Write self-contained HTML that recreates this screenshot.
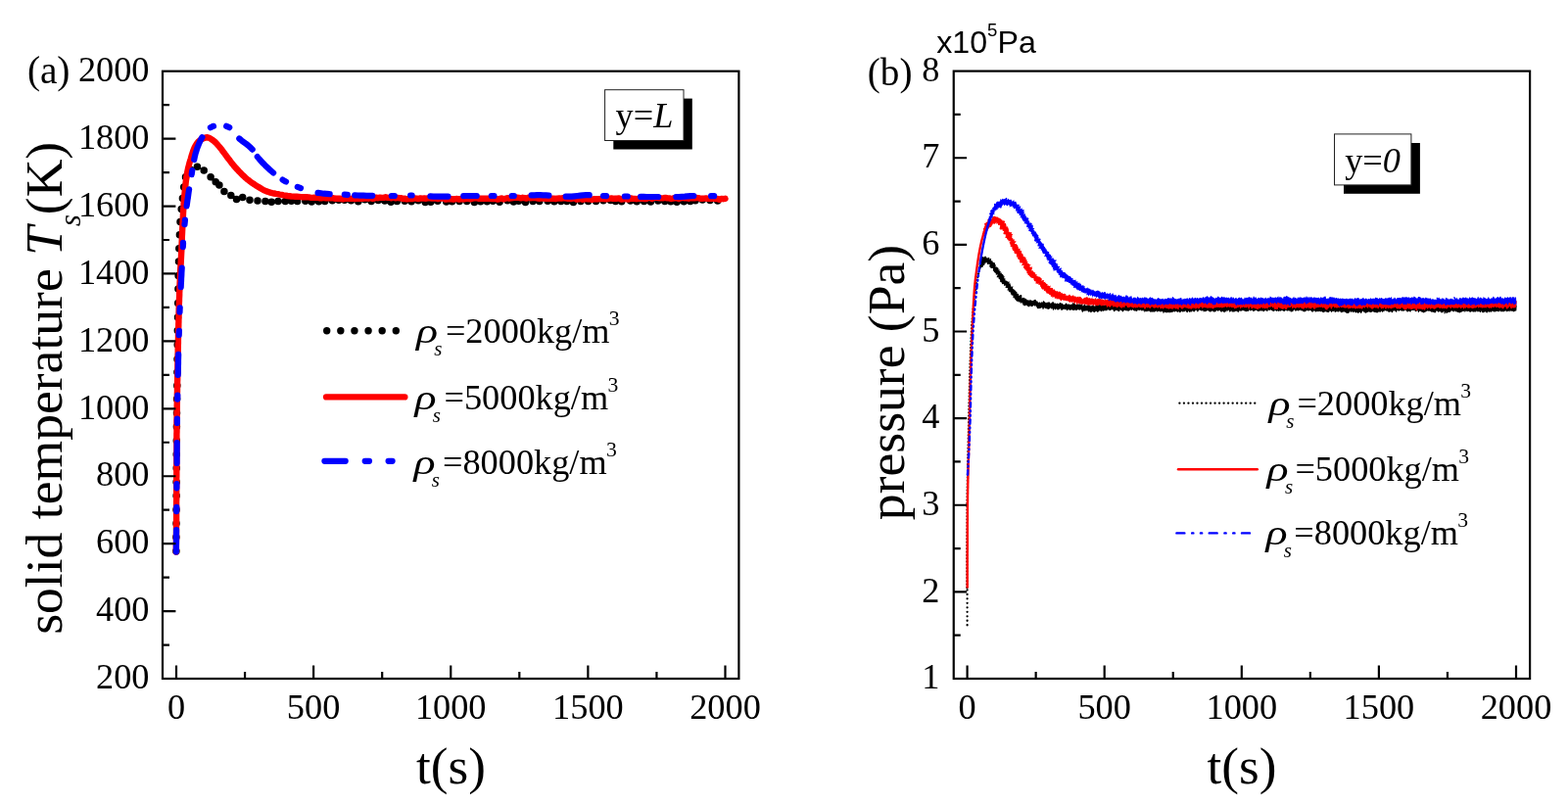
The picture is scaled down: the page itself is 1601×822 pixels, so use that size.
<!DOCTYPE html>
<html lang="en"><head><meta charset="utf-8"><title>Figure</title>
<style>html,body{margin:0;padding:0;background:#fff;overflow:hidden}svg{display:block}text{fill:#000;white-space:pre}</style>
</head><body>
<svg width="1601" height="822" viewBox="0 0 1601 822">
<rect width="1601" height="822" fill="#fff"/>
<path d="M179.9 562.7h.01M179.9 548.6h.01M180.0 534.5h.01M180.0 520.4h.01M180.1 506.3h.01M180.1 492.2h.01M180.2 478.1h.01M180.2 464.0h.01M180.3 449.9h.01M180.4 435.8h.01M180.5 421.7h.01M180.6 407.6h.01M180.8 393.7h.01M180.9 380.0h.01M181.0 366.7h.01M181.2 352.0h.01M181.3 337.5h.01M181.5 324.1h.01M181.7 309.5h.01M181.9 295.0h.01M182.1 281.5h.01M182.5 266.9h.01M182.8 253.7h.01M183.4 239.7h.01M184.0 226.6h.01M185.2 213.5h.01M186.4 202.5h.01M187.7 191.0h.01M189.5 180.7h.01M194.6 173.3h.01M201.4 170.2h.01M208.2 173.9h.01M215.1 180.8h.01M220.2 185.8h.01M223.9 189.0h.01M228.9 195.6h.01M235.8 199.6h.01M241.5 203.4h.01M247.7 201.5h.01M255.0 204.2h.01M263.0 204.9h.01M270.9 205.5h.01M277.2 206.2h.01M284.0 205.6h.01M291.3 205.4h.01M297.5 205.3h.01M303.6 205.6h.01M311.8 205.3h.01M318.2 205.9h.01M325.5 205.7h.01M331.7 205.6h.01M339.3 204.7h.01M345.9 204.3h.01M351.8 204.3h.01M358.5 204.7h.01M365.8 205.7h.01M372.6 203.8h.01M379.1 205.6h.01M386.2 204.5h.01M392.8 204.9h.01M399.1 206.3h.01M405.4 205.6h.01M413.2 205.2h.01M420.1 205.7h.01M427.1 204.7h.01M434.2 206.6h.01M439.8 206.2h.01M446.9 205.2h.01M455.7 206.1h.01M461.6 205.7h.01M469.1 205.5h.01M476.7 205.6h.01M484.3 206.6h.01M490.7 205.7h.01M497.3 205.7h.01M503.3 205.2h.01M510.1 206.2h.01M518.1 204.7h.01M524.4 206.1h.01M529.6 205.3h.01M536.5 206.5h.01M544.1 205.4h.01M550.8 205.4h.01M559.2 205.3h.01M565.9 205.8h.01M572.8 205.5h.01M578.8 205.6h.01M585.4 206.4h.01M593.0 205.6h.01M600.6 205.4h.01M608.5 205.6h.01M616.0 204.7h.01M623.4 204.4h.01M628.5 205.4h.01M634.7 205.7h.01M643.7 205.0h.01M650.2 205.7h.01M657.6 205.5h.01M664.4 206.1h.01M671.9 204.9h.01M678.8 205.6h.01M684.9 205.8h.01M691.1 206.3h.01M698.3 205.7h.01M704.8 205.5h.01M710.0 204.8h.01M717.3 204.1h.01M725.0 204.4h.01M732.7 205.0h.01" fill="none" stroke="#000" stroke-width="7.5" stroke-linecap="round"/>
<path d="M179.9 563.4L179.9 561.4L179.9 559.5L179.9 557.5L179.9 555.5L179.9 553.5L180.0 551.6L180.0 549.6L180.0 547.6L180.0 545.7L180.0 543.7L180.0 541.7L180.0 539.7L180.0 537.8L180.0 535.8L180.0 533.8L180.1 531.9L180.1 529.9L180.1 527.9L180.1 526.0L180.1 524.0L180.1 522.0L180.1 520.0L180.1 518.1L180.1 516.1L180.1 514.1L180.1 512.2L180.2 510.2L180.2 508.2L180.2 506.2L180.2 504.3L180.2 502.3L180.2 500.3L180.2 498.4L180.2 496.4L180.2 494.4L180.2 492.4L180.2 490.5L180.2 488.5L180.3 486.5L180.3 484.6L180.3 482.6L180.3 480.6L180.3 478.6L180.3 476.7L180.3 474.7L180.3 472.7L180.3 470.8L180.3 468.8L180.3 466.8L180.3 464.9L180.3 462.9L180.4 460.9L180.4 458.9L180.4 457.0L180.4 455.0L180.4 453.0L180.4 451.1L180.4 449.1L180.4 447.1L180.4 445.1L180.4 443.2L180.5 441.2L180.5 439.2L180.5 437.3L180.5 435.3L180.5 433.3L180.5 431.3L180.5 429.4L180.6 427.4L180.6 425.4L180.6 423.5L180.6 421.5L180.7 419.5L180.7 417.6L180.7 415.6L180.7 413.6L180.8 411.6L180.8 409.7L180.8 407.7L180.9 405.7L180.9 403.8L180.9 401.8L181.0 399.8L181.0 397.8L181.0 395.9L181.1 393.9L181.1 391.9L181.1 390.0L181.2 388.0L181.2 386.0L181.2 384.1L181.3 382.1L181.3 380.1L181.3 378.1L181.4 376.2L181.4 374.2L181.4 372.2L181.5 370.3L181.5 368.3L181.5 366.3L181.6 364.3L181.6 362.4L181.7 360.4L181.7 358.4L181.7 356.5L181.8 354.5L181.8 352.5L181.9 350.5L181.9 348.6L181.9 346.6L182.0 344.6L182.0 342.7L182.1 340.7L182.1 338.7L182.2 336.8L182.2 334.8L182.3 332.8L182.3 330.8L182.4 328.9L182.4 326.9L182.5 324.9L182.5 323.0L182.6 321.0L182.6 319.0L182.7 317.1L182.7 315.1L182.8 313.1L182.8 311.1L182.9 309.2L183.0 307.2L183.0 305.2L183.1 303.3L183.2 301.3L183.2 299.3L183.3 297.4L183.4 295.4L183.4 293.4L183.5 291.4L183.6 289.5L183.7 287.5L183.8 285.5L183.8 283.6L183.9 281.6L184.0 279.6L184.1 277.7L184.2 275.7L184.3 273.7L184.4 271.8L184.6 269.8L184.7 267.8L184.8 265.9L184.9 263.9L185.0 261.9L185.1 259.9L185.2 258.0L185.3 256.0L185.4 254.0L185.4 252.1L185.5 250.1L185.6 248.1L185.7 246.2L185.8 244.2L185.8 242.2L185.9 240.3L186.0 238.3L186.1 236.3L186.2 234.4L186.3 232.4L186.4 230.4L186.5 228.4L186.6 226.5L186.7 224.5L186.8 222.5L186.9 220.6L187.0 218.6L187.1 216.6L187.2 214.7L187.3 212.7L187.5 210.7L187.6 208.8L187.7 206.8L187.9 204.8L188.0 202.9L188.2 200.9L188.4 198.9L188.6 197.0L188.8 195.0L189.0 193.1L189.2 191.1L189.4 189.1L189.6 187.2L189.8 185.2L190.1 183.3L190.4 181.3L190.6 179.4L191.0 177.4L191.3 175.5L191.7 173.6L192.1 171.6L192.6 169.7L193.1 167.8L193.6 165.9L194.2 164.0L194.8 162.1L195.3 160.2L195.9 158.3L196.5 156.4L197.1 154.5L197.8 152.7L198.5 150.9L199.4 149.1L200.5 147.3L201.7 145.6L203.0 144.2L204.4 143.1L206.1 142.0L208.0 141.1L209.9 140.5L211.8 140.3L213.5 140.8L215.3 141.8L217.1 143.0L218.7 144.3L220.1 145.5L221.5 146.9L222.8 148.5L224.1 150.0L225.3 151.5L226.6 153.1L227.7 154.7L228.9 156.2L230.1 157.8L231.2 159.4L232.4 161.0L233.6 162.6L234.8 164.1L236.0 165.7L237.2 167.2L238.5 168.8L239.8 170.3L241.1 171.8L242.4 173.2L243.7 174.7L245.1 176.1L246.5 177.5L247.9 178.9L249.3 180.2L250.8 181.6L252.3 182.9L253.8 184.1L255.3 185.3L256.9 186.5L258.6 187.5L260.2 188.6L261.9 189.7L263.6 190.7L265.3 191.8L266.9 192.8L268.7 193.8L270.4 194.6L272.2 195.4L274.1 196.0L276.0 196.6L277.9 197.1L279.8 197.5L281.8 197.9L283.7 198.2L285.7 198.6L287.6 198.9L289.5 199.3L291.5 199.6L293.4 200.0L295.4 200.2L297.3 200.5L299.3 200.6L301.3 200.7L303.2 200.8L305.2 200.9L307.2 201.1L309.1 201.2L311.1 201.2L313.1 201.3L315.0 201.4L317.0 201.7L319.0 201.9L320.9 201.8L322.9 201.7L324.9 201.8L326.8 202.4L328.8 202.2L330.8 201.8L332.8 202.3L334.7 202.1L336.7 202.3L338.7 202.4L340.6 202.3L342.6 202.8L344.6 202.7L346.5 202.6L348.5 203.0L350.5 203.2L352.5 202.4L354.4 202.9L356.4 202.7L358.4 202.9L360.3 202.6L362.3 203.0L364.3 202.9L366.3 202.8L368.2 202.6L370.2 202.7L372.2 202.5L374.1 202.3L376.1 202.7L378.1 202.2L380.0 202.8L382.0 202.6L384.0 201.6L385.9 202.2L387.9 201.6L389.9 201.9L391.9 201.9L393.8 201.3L395.8 201.9L397.8 201.9L399.7 202.3L401.7 201.6L403.7 202.3L405.6 201.9L407.6 202.2L409.6 202.2L411.5 203.0L413.5 202.8L415.5 203.4L417.5 202.9L419.4 203.0L421.4 203.0L423.4 202.5L425.3 202.6L427.3 203.0L429.3 202.4L431.3 202.6L433.2 202.5L435.2 202.7L437.2 202.4L439.1 202.4L441.1 202.6L443.1 202.6L445.0 202.4L447.0 203.1L449.0 202.5L451.0 202.6L452.9 202.7L454.9 203.6L456.9 203.3L458.8 203.2L460.8 203.1L462.8 203.6L464.7 203.1L466.7 203.0L468.7 203.6L470.6 203.0L472.6 203.2L474.6 203.2L476.6 202.9L478.5 202.9L480.5 203.3L482.5 202.7L484.4 202.4L486.4 202.2L488.4 202.7L490.3 202.6L492.3 202.8L494.3 202.7L496.3 202.7L498.2 202.7L500.2 202.8L502.2 203.0L504.1 202.8L506.1 203.0L508.1 203.6L510.1 203.1L512.0 202.4L514.0 203.4L516.0 202.8L517.9 202.2L519.9 202.7L521.9 202.3L523.8 202.0L525.8 201.9L527.8 201.6L529.7 201.9L531.7 202.3L533.7 201.8L535.6 202.1L537.6 202.6L539.6 201.7L541.6 202.2L543.5 202.1L545.5 202.0L547.5 202.1L549.4 202.5L551.4 202.7L553.4 202.4L555.3 202.6L557.3 202.8L559.3 202.7L561.3 202.9L563.2 202.7L565.2 202.6L567.2 203.0L569.1 202.6L571.1 202.4L573.1 202.6L575.1 202.1L577.0 202.3L579.0 202.7L581.0 202.6L582.9 203.0L584.9 202.7L586.9 202.3L588.8 203.6L590.8 203.4L592.8 202.8L594.7 203.7L596.7 203.4L598.7 202.9L600.6 203.3L602.6 203.3L604.6 203.9L606.6 203.1L608.5 203.2L610.5 203.2L612.5 203.1L614.4 202.8L616.4 203.0L618.4 203.2L620.3 203.1L622.3 202.6L624.3 202.5L626.3 202.9L628.2 202.6L630.2 202.7L632.2 202.4L634.1 203.6L636.1 203.3L638.1 202.8L640.1 203.4L642.0 203.6L644.0 202.4L646.0 202.9L647.9 202.9L649.9 203.2L651.9 202.9L653.8 202.7L655.8 202.7L657.8 203.1L659.7 203.1L661.7 202.1L663.7 201.9L665.6 203.0L667.6 201.7L669.6 201.8L671.6 202.0L673.5 202.2L675.5 202.4L677.5 202.2L679.4 201.9L681.4 202.4L683.4 202.4L685.3 203.0L687.3 202.5L689.3 202.1L691.3 202.2L693.2 203.0L695.2 202.3L697.2 201.8L699.1 202.3L701.1 202.4L703.1 202.7L705.1 202.0L707.0 202.4L709.0 202.4L711.0 202.0L712.9 202.1L714.9 202.8L716.9 202.8L718.8 202.6L720.8 202.5L722.8 202.9L724.7 202.7L726.7 202.8L728.7 202.7L730.6 203.0L732.6 203.0L734.6 203.9L736.6 202.9L738.5 203.2L740.5 202.8" fill="none" stroke="#f00" stroke-width="6.4" stroke-linecap="round" stroke-linejoin="round"/>
<path d="M179.9 563.4L179.9 560.4L179.9 557.5L180.0 554.5L180.0 551.5L180.0 548.5L180.0 545.6L180.1 542.6L180.1 541.1M180.2 522.1L180.3 519.1L180.3 517.8M180.4 498.3L180.4 495.3L180.4 494.1M180.6 473.0L180.6 470.1L180.6 467.1L180.6 464.1L180.6 461.2L180.7 458.2L180.7 455.2L180.7 452.2M180.9 431.9L180.9 429.0L180.9 427.7M181.2 407.7L181.3 404.7L181.3 403.5M181.7 382.9L181.8 380.0L181.8 377.0L181.9 374.0L182.0 371.1L182.0 368.1L182.1 365.1L182.2 362.1L182.2 361.9M182.7 342.1L182.8 339.1L182.9 337.9M183.5 318.6L183.6 315.6L183.7 314.4M184.7 293.1L184.8 290.2L185.0 287.2L185.1 284.2L185.3 281.3L185.4 278.3L185.6 275.3L185.7 273.6M186.8 252.1L187.0 249.1L187.0 247.9M188.5 229.1L188.8 226.2L188.9 224.7M190.6 210.4L191.0 207.5L191.4 204.5L191.9 201.6L192.3 198.7L192.7 195.7L193.1 193.3M195.7 178.1L196.1 175.2L196.3 174.0M198.2 163.0L198.8 160.1L199.5 157.2L200.4 154.3L201.3 151.4L202.4 148.6L203.5 145.8L204.8 143.1L206.1 140.6L206.4 140.2M214.9 130.2L217.3 129.0L218.0 128.8M231.2 128.8L233.7 129.9L234.2 130.2M244.3 141.5L246.6 143.4L249.0 145.2L251.5 147.0L253.8 148.9L256.0 150.8L257.7 152.6M262.8 160.1L264.7 162.4L266.7 164.6L268.7 166.8L270.8 168.9L273.0 171.0L275.2 173.1L277.4 175.0L279.1 176.5M288.6 183.6L291.1 185.1L292.0 185.5M303.8 190.9L306.5 191.9L307.0 192.1M324.6 196.9L327.6 197.3L330.5 197.7L333.5 197.9L336.5 198.2L336.7 198.2M351.8 198.7L354.8 198.8M362.2 199.3L365.2 199.5L368.1 199.6L371.1 199.7L374.1 199.8L377.0 199.8L380.0 199.8L380.3 199.8M399.8 200.0L402.8 200.0M419.1 199.5L420.6 199.5M439.4 200.4L442.4 200.6L445.3 200.7L448.3 200.7L451.3 200.7L454.2 200.6L457.2 200.6L457.5 200.6M473.3 200.1L476.3 200.0L479.2 200.0L482.2 200.0L485.2 200.0L486.7 200.0M501.8 200.0L504.5 200.0M522.6 200.0L524.8 200.0M542.6 199.4L545.6 199.3L548.5 199.2L551.5 199.2L554.5 199.3L557.5 199.4L560.4 199.6M577.7 200.7L580.7 200.7L583.7 200.6L586.6 200.3L589.6 200.0L592.5 199.7L595.5 199.4L598.5 199.2L601.4 199.2L601.7 199.2M616.0 200.0L619.0 200.1M637.8 200.5L640.8 200.5M654.1 200.9L657.1 200.9L660.1 201.0L663.0 201.0L666.0 201.0L669.0 201.0L672.0 201.0L672.2 201.0M690.3 201.0L693.2 201.0L696.2 200.8L699.2 200.6L702.1 200.3L705.1 200.1L708.1 200.0L708.3 200.0M726.1 200.2L729.1 200.2" fill="none" stroke="#00f" stroke-width="6.2" stroke-linecap="round" stroke-linejoin="round"/>
<path d="M987.6 602.4V638.9" fill="none" stroke="#000" stroke-width="2.3" stroke-linecap="round" stroke-dasharray="0.01 4.47"/>
<path d="M987.4 600.0L987.4 598.0L987.4 596.0L987.4 594.0L987.4 592.0L987.4 590.0L987.4 588.0L987.4 586.0L987.4 584.0L987.4 582.0L987.4 580.0L987.4 578.0L987.4 576.0L987.4 574.0L987.4 572.0L987.4 570.0L987.4 568.0L987.4 566.0L987.4 564.0L987.4 562.0L987.4 560.0L987.4 558.0L987.4 556.0L987.4 554.0L987.4 552.0L987.4 550.0L987.4 548.0L987.4 546.0L987.5 544.0L987.5 542.0L987.5 540.0L987.5 538.0L987.5 536.0L987.5 534.0L987.5 532.0L987.5 530.0L987.5 528.0L987.5 526.0L987.5 524.0L987.5 522.0L987.5 520.0L987.5 518.0L987.5 516.0L987.5 514.0L987.5 512.0L987.6 510.0L987.6 508.0L987.6 506.0L987.6 504.0L987.6 502.0L987.7 500.0L987.7 498.0L987.7 496.0L987.8 494.0L987.8 492.0L987.8 490.0L987.9 488.0L987.9 486.0L987.9 484.0L988.0 482.0L988.0 480.0L988.1 478.0L988.1 476.0L988.1 474.0L988.2 472.0L988.2 470.0L988.3 468.0L988.3 466.0L988.4 464.0L988.4 462.0L988.5 460.0L988.5 458.0L988.6 456.0L988.6 454.0L988.6 452.0L988.7 450.0L988.7 448.0L988.8 446.0L988.8 444.0L988.9 442.0L988.9 440.0L988.9 438.0L989.0 436.0L989.0 434.0L989.1 432.0L989.1 430.0L989.1 428.0L989.2 426.0L989.2 424.0L989.3 422.0L989.3 420.0L989.4 418.0L989.4 416.0L989.4 414.0L989.5 412.0L989.5 410.0L989.6 408.0L989.6 406.0L989.7 404.0L989.7 402.0L989.8 400.0L989.8 398.0L989.9 396.0L989.9 394.0L990.0 392.0L990.0 390.0L990.1 388.0L990.1 386.0L990.2 384.0L990.2 382.0L990.3 380.0L990.3 378.0L990.4 376.0L990.5 374.0L990.5 372.0L990.6 370.0L990.7 368.0L990.7 366.0L990.8 364.0L990.9 362.0L990.9 360.0L991.0 358.0L991.1 356.0L991.1 354.0L991.2 352.0L991.3 350.0L991.4 348.0L991.5 346.1L991.6 344.1L991.7 342.1L991.8 340.1L991.9 338.1L992.0 336.1L992.1 334.1L992.2 332.1L992.4 330.1L992.5 328.1L992.7 326.1L992.9 324.1L993.0 322.1L993.2 320.1L993.4 318.1L993.6 316.1L993.8 314.1L994.0 312.1L994.2 310.2L994.4 308.2L994.6 306.2L994.8 304.2L995.1 302.2L995.3 300.2L995.6 298.2L995.9 296.3L996.2 294.3L996.5 292.3L996.8 290.3L997.2 288.4L997.6 286.4L998.0 284.5L998.4 282.5L998.9 280.5L999.3 278.6L999.8 276.7" fill="none" stroke="#000" stroke-width="2.3" stroke-linecap="round" stroke-dasharray="0.01 3.3"/>
<path d="M1000 278.4l0.1 -0.3 0.1 -0.4 0.1 -0.3 0.1 -0.4 0.1 -0.3 0.1 -0.4 0.1 -0.3 0.1 -0.3 0.3 -0.3 0.3 -0.3 -0.2 -0.4 0 -0.3 0.4 -0.3 0.2 -0.3 0 -0.3 0.2 -0.3 0.3 -0.2 0.5 -0.2 0.6 -0.1 0.4 -0.1 0.1 -0.3 -0.1 -0.4 0.1 -0.3 0.1 -0.3 0.3 -0.2 0.7 0 0.3 -0.1 -0.1 -0.5 -0.1 -0.4 0.4 -0.1 0.2 -0.2 -0.2 -0.6 0 -0.5 0.5 0.1 0.7 0.9 0 0.1 -0.3 -0.6 0 -0.5 0.3 -0.6 0.4 -0.4 0.3 0.2 0.2 0.5 0.2 0.4 0.3 0.2 -0.1 0.8 0.2 0.4 0.7 -0.4 0.7 -0.4 0.1 0.5 0.2 0.4 0.8 -0.4 0.1 0.4 -0.7 1.4 0.1 0.3 0.5 0 -0.3 0.6 0.2 0.3 0.6 -0.1 0.3 0.2 -0.1 0.6 0.1 0.3 0.7 0 0.4 0.1 0.7 0.1 0.8 -0.1 -0.1 0.6 -0.3 0.6 0.2 0.4 0.1 0.4 0.1 0.5 0.2 0.3 0.3 0.3 0.3 0.4 0.2 0.3 0.2 0.3 0.4 0.3 0.6 0 -0.1 0.5 0.1 0.4 0.7 0 -0.1 0.6 -0.3 0.7 0.6 0.1 1.2 -0.4 0.3 0.3 -0.3 0.7 -0.5 0.8 -0.2 0.7 0 0.5 0.7 0 0.8 -0.1 0.4 0.2 0.1 0.4 0 0.6 -0.1 0.5 0.5 0.2 0.7 -0.1 0 0.5 0 0.6 0.4 0.1 -0.1 0.7 -0.3 0.7 0.6 0.1 0.4 0.2 0 0.4 0.5 0.1 0.7 0.1 0.1 0.4 -0.2 0.6 0 0.5 0.4 0.2 0.8 -0.1 0.6 0 0.2 0.4 0.2 0.4 0.1 0.3 -0.1 0.6 0.4 0.2 1.3 -0.5 0.3 0.3 0.2 0.3 -0.9 1.2 0.2 0.4 0.5 0.1 0.3 0.3 0.5 0.1 0.9 -0.1 0.2 0.3 0.3 0.3 -0.6 0.9 -0.3 0.8 0.3 0.2 0.8 -0.1 0.4 0.2 -0.1 0.6 0.2 0.4 0.3 0.2 0.3 0.3 0.5 0.1 0.4 0.2 0.4 0.2 0.1 0.4 -0.1 0.6 -0.1 0.6 0.4 0.2 0.5 0.1 -0.1 0.6 0.2 0.4 0.6 0 0.6 0.1 0.5 0.1 0.1 0.5 -0.3 0.8 0.1 0.5 0.1 0.5 0.4 0.3 0.7 -0.1 0.4 0.1 0.1 0.5 0 0.6 0.4 0.3 0.4 0.2 0.2 0.3 0.2 0.5 0.3 0.4 0.5 -0.1 0.1 0.6 0.4 0.2 0.8 -0.3 0.2 0.4 0.1 0.5 0.6 0 0.6 -0.2 0.4 0.1 0.4 0.2 0.1 0.6 -0.1 0.7 0.8 -0.5 0.9 -0.5 0.3 0.2 0 0.7 -0.1 0.8 0.7 -0.2 0.4 0.1 -0.1 1 0.2 0.5 0.7 -0.2 0.4 0.2 0.3 0.6 0.7 -0.4 0.8 -0.8 0.4 0.1 0.4 0.5 0.5 0.7 0.4 0.3 0.4 -0.5 0.5 0.4 0.4 0.9 0.4 -0.6 0.4 -0.7 0.4 -0.2 0.4 0 0.4 0.6 0.4 0.3 0.4 -0.3 0.4 0.1 0.3 -0.1 0.4 -0.3 0.4 -0.4 0.4 -0.5 0.3 0.1 0.3 0.6 0.3 0.3 0.4 -0.3 0.4 -0.3 0.4 0 0.2 0.6 0.1 0.8 0.4 0 0.5 -0.1 0.1 0.7 0.2 0.7 0.3 0.2 0.4 0.3 0.4 0 0.6 -0.2 0.5 -0.1 0.5 -0.1 0.6 -0.2 0.4 0.1 0.5 -0.3 0.6 -0.5 0.4 0.3 0.3 1.3 0.4 0.5 0.4 0 0.4 -1.1 0.5 -0.9 0.4 0.5 0.4 0.4 0.4 -0.1 0.4 0 0.4 -0.2 0.4 0.4 0.3 0.8 0.4 -0.1 0.5 -0.6 0.4 0.2 0.3 0.6 0.4 0 0.5 -0.6 0.4 -0.5 0.4 -0.2 0.4 -0.3 0.4 0.1 0.4 1 0.4 0 0.4 -0.4 0.4 0.1 0.3 1.1 0.4 0.7 0.4 -0.3 0.4 -0.7 0.4 -0.7 0.4 0.2 0.4 0.8 0.4 0.3 0.4 -0.7 0.4 -0.6 0.4 0.1 0.4 0.6 0.4 0.6 0.4 0.1 0.4 -0.4 0.4 0 0.4 0 0.4 -0.6 0.5 -0.8 0.3 0.2 0.4 1.2 0.4 0.5 0.4 -0.3 0.4 0.2 0.4 0 0.4 -0.3 0.4 -0.1 0.4 -0.3 0.4 -0.5 0.4 0 0.4 0.4 0.4 0.4 0.4 0 0.4 -0.5 0.4 -0.1 0.4 0.9 0.3 0.8 0.5 -0.3 0.4 -0.4 0.4 -0.5 0.5 -0.6 0.3 0.6 0.4 0.9 0.4 -0.3 0.4 -0.4 0.4 0.3 0.4 0.2 0.4 -0.4 0.4 -0.6 0.4 0.2 0.4 0.6 0.4 0.3 0.4 0 0.4 -0.2 0.4 -0.1 0.3 0.4 0.5 -0.2 0.4 -0.7 0.4 0 0.3 0.5 0.4 0.5 0.5 -0.1 0.4 -0.4 0.4 -0.2 0.4 -0.4 0.4 0 0.4 0.4 0.4 0.1 0.4 -0.1 0.4 0.1 0.3 0.1 0.5 -0.2 0.4 -0.5 0.3 0.1 0.2 0.8 0.3 0.9 0.4 1 0.4 0.4 0.5 -1 0.6 -0.9 0.3 0.4 0.3 0.5 0.4 -0.4 0.5 -0.5 0.4 0.3 0.5 0 0.4 -0.6 0.4 0.4 0.5 0.4 0.4 -0.5 0.4 0.2 0.4 0.8 0.3 0.6 0.6 -0.4 0.5 -0.4 0.1 0.2 0.4 0.3 0.5 0.7 0.3 0.1 0.6 -0.8 0.6 -0.2 0 -0.4 0.5 -0.1 0.6 0.5 0.3 0.3 0.4 0 0.4 0.3 0.3 0.2 0.4 -0.4 0.5 -0.7 0.5 -0.1 0.3 0 0.4 -0.2 0.3 0.3 0.1 0.7 0.7 0.2 0.5 -0.3 0.3 -0.8 0.5 -0.4 0.4 0 0.4 -0.1 0.2 0.1 0.5 0 0.6 0.4 0.6 0.7 0.2 -0.4 0.3 -0.9 0.4 0 0.3 0.6 0.4 -0.1 0.4 -0.2 0.4 -0.1 0.5 -0.6 0.3 0.4 0.5 0.3 0.3 -1.1 0.5 0.5 0.5 0.8 0.4 -0.5 0.3 -0.6 0.3 -0.5 0.4 -0.1 0.3 0.1 0.5 0.7 0.5 0.1 0.4 0.1 0.6 0.1 0.4 -0.4 0.2 -0.6 0.3 0.2 0.4 0.4 0.4 -0.2 0.4 -0.6 0.4 -0.1 0.6 1.1 0.4 1.1 0 0.4 0 -0.2 0.4 -0.1 0.7 -0.4 0.9 -0.6 0.1 -0.3 0.4 -0.1 0.6 0.1 0.2 0 0.4 0 0.6 0.9 0.3 0.3 0.1 -0.2 0.5 0.2 0.7 0.1 0.4 -1 0.3 -0.9 0.5 0.2 0.2 0.8 0.2 -0.2 0.6 -0.2 0.3 0.7 0 0.5 0.9 0.5 0.4 -0.4 0.3 -0.7 0.7 -0.3 0.4 -0.4 0.4 -0.1 0.7 0.3 0.4 0.6 0.1 0.2 0.4 -0.6 0 0 0.3 0.1 0.9 0.2 0.5 0.1 -0.3 0 0.5 0.3 0.8 -0.6 0.6 -0.3 0.5 0 0.1 -0.6 0.4 -0.2 0.3 0.6 0.6 0.4 0.5 -0.7 0.3 -0.6 0.4 0.1 0.2 1.1 0.5 0.1 0.4 -0.5 0 0.3 0.5 0.6 0.7 0 0.6 -0.2 0.2 0.2 0.3 0.1 0.8 0.3 0.6 -0.4 -0.1 -1 0.5 0.1 0.7 0.5 0 -0.1 0.2 -0.8 0.4 0.3 0.4 0.7 0.2 -0.1 0.5 -0.7 0.8 0.2 0.3 0.2 0.1 0 0.2 0.4 0.3 0.6 0.7 -0.9 0.5 -0.4 0.8 1.3 0.7 0.8 0.3 0 -0.2 -0.9 0 -0.6 0.9 1 1 0.1 0.1 -0.2 0.2 -0.5 0.2 -0.2 0.5 0.5 -0.1 0.5 0.3 -0.2 0.9 -0.7 0.5 -0.2 0.2 0.5 0.6 0.4 0.4 0.1 -0.1 0.4 0.6 0 0.5 -0.3 0.4 0 0.7 0.1 0.5 0.3 0.2 0 0.5 -0.5 0.3 -0.2 -0.1 0.5 0.3 0.1 0.9 -0.4 0.7 0 0.2 -0.5 0.4 -0.5 0.6 0.9 0.8 0.5 0.1 -0.7 0.4 0 0.1 0.3 0.5 -0.5 0.5 -0.4 0.3 0.6 0.1 0.6 -0.1 -0.1 0.6 -0.3 0.8 0.1 0.7 0.1 0.2 -0.2 0.4 -0.4 0.4 0.2 0.4 0.6 0.3 0.8 0.6 0.8 0.3 -0.7 0.2 -1.1 0.4 0.2 0.5 0.5 0.9 0.1 0.6 -0.1 0.1 -0.2 0.2 -0.1 0.3 0.6 0 0.3 0.9 -0.8 0.7 -0.4 0.2 0.6 0.2 0.5 0.6 0 0.3 -0.3 0.3 -0.5 0.1 -0.2 0.5 0.5 0.8 0.5 0.1 0.4 -0.3 -0.7 0.9 -0.8 0.5 0.2 0.5 -0.3 0.6 -0.4 0.7 0.6 0.3 0.2 0.3 -0.5 0.4 -0.5 0.4 0 0.1 0.2 0.4 0 0.6 0.4 0.6 0.4 0.5 -0.1 0.3 0.1 0.5 -0.5 -0.1 -0.6 0.3 0.2 0.4 0.9 0.7 0.6 0.5 -0.5 0 -0.3 0.7 -0.2 0.4 -0.8 0.3 0.2 0.5 0.6 0.4 0.2 0.5 0 0.4 -0.4 0.3 -0.3 0.6 0.3 0.5 -0.2 0.2 -0.6 0.4 -0.1 0.5 0.9 0.7 0.9 0.4 0.1 0 0.2 0.5 -0.4 0.2 -0.8 0.3 -0.6 0.4 0.2 0.4 0.8 0.8 0.3 0.4 -0.3 -0.1 0 0.4 -0.1 0.5 -0.2 0.6 0.3 0.5 -0.1 0 -0.9 0.6 -0.2 0.6 0.6 0.2 0.6 0.1 -0.3 0.5 0 0.6 0.1 0.4 -0.5 0.5 -1.1 0.4 -0.1 0.3 -0.1 0.4 0.5 0.3 0.6 0.8 0.7 0.2 0.4 0.3 -0.8 0.5 -0.5 0.3 -0.7 0.4 -0.3 0.5 -0.1 0.5 0.6 0.1 0.2 0.2 -0.4 0.4 0.1 0.5 0.8 0.4 -0.1 0.6 -0.4 0.5 -0.1 0.4 0.5 0 0.8 0.5 0 0.6 -0.7 0 0.4 0.9 0.2 0.7 -0.2 -0.1 0 0.3 -0.4 0.7 0 0.5 -0.6 0.4 -0.2 0.6 0.4 0.5 1.1 -0.2 0.4 0 -0.5 0.8 -0.5 0.4 0 0.3 0.8 0.2 0.3 0.6 -0.5 0.6 -0.7 0.5 -0.3 0.6 0.3 0.3 0.2 0.1 -0.5 0.3 0.3 0.5 0.9 0.7 0.2 0.5 -0.2 0.1 -0.4 0.2 -0.1 0.5 0.3 0.3 -0.2 0.1 -0.5 0.8 -0.6 0.4 0 0.6 0.8 0.6 -0.4 0 -0.2 0.2 0.3 0.6 -0.5 0.3 -0.5 0.3 0.5 0.4 0.6 0.3 0.4 0.4 0.4 0.5 0.1 0.6 -0.2 0.3 -0.2 0.5 -0.2 0.5 -0.2 0.1 0.4 0.7 0.7 1.1 0.3 -0.2 -0.6 0.2 -0.6 0.6 0.1 0.3 0.3 0.8 -0.1 -0.1 -1.1 0.3 -0.1 0.8 0.4 0.4 0.3 0.2 -0.4 0.3 -0.8 0.4 0.1 0.4 1.2 0.5 1.2 0.1 -0.2 0.3 -0.7 0.8 -0.2 0.3 -0.7 0.3 0.2 0.3 1 0.2 0.2 0.9 -0.5 0.4 0 0.4 0.5 0.7 -0.2 0.2 -0.4 0.1 0.1 0.4 -0.1 0.7 -0.3 0.8 0 0.5 0.2 -0.3 -0.4 0.3 0.1 0.7 1.1 0.5 0.4 0.4 -0.8 0.4 -0.4 0.3 -0.5 0.3 -0.3 0.7 0.3 0.1 0.3 0.2 0 0.7 -0.1 0.5 -0.2 0 -0.4 0.3 0 0.5 0.2 0.4 0 0.4 -0.3 0.7 0.5 0.8 0.1 0.2 0.1 0 0.2 0.6 0 0.5 0.3 -0.1 0 1 -0.2 0.4 -0.2 -0.3 -0.4 0.7 0.3 1.1 0.3 0 -0.5 0 -0.8 0.5 -0.2 0.6 0.4 0.5 0.5 0.4 0.1 0.1 -0.1 0.2 -0.2 0.6 -0.4 0.4 -0.2 0.5 0.6 0.3 0.7 0.1 0.2 1.1 -0.2 0.4 -0.3 0.1 -0.3 0.3 0 0.6 -0.1 0.4 -0.2 0.3 -0.2 0.4 -0.2 0.4 0.6 0.2 0.6 0.1 -0.2 0.6 0.2 0.6 0.1 0.5 0 0.4 0.1 0.1 -0.3 0.6 -0.4 0.6 0.1 0.1 0.2 0.7 0 0.4 -0.3 0.4 0.1 0.6 0 0 -0.1 0.1 0.1 0.5 0.8 0.7 0 0.6 -0.7 0.3 -0.2 0.2 -0.1 0.6 -0.5 0.7 0.9 -0.1 0.5 0.3 -0.6 0.7 0.4 0.6 0 0.2 -0.8 0.2 -0.9 0.5 0.3 0.3 0.5 0.3 0.1 0.7 -0.1 0.3 -0.6 0.4 -0.2 0.4 0.2 0.4 0.5 0.4 0.1 0.4 0.1 0.3 0.2 0.4 0.7 0.1 0.1 0.4 -0.2 0.9 0.1 0.4 -0.5 0.2 -0.9 0.2 0.1 0.4 0.6 0.7 0 0.2 0.5 0.2 0.1 1 -0.5 0.6 -0.3 -0.1 0.5 0.5 0.3 0.6 0 0.1 -0.4 0.1 -0.1 0.5 0.1 0.6 -0.1 0.4 0.4 0.5 -0.1 0.4 -0.8 0.3 -0.1 0.5 0.1 0.5 0.1 0 1.1 0 0.1 1 -0.6 0.8 0.3 0.3 0.7 -0.1 -0.5 0.7 -1.2 0.4 -0.3 0.4 0.1 0.8 1.2 0.4 -0.3 0.1 -0.5 0.2 0.3 0.5 0 0.5 -0.5 0.3 0 0.4 0.6 0.2 0.4 0.5 -0.5 0.4 0 0.1 1.1 0.9 -0.1 0.7 -0.5 0.7 0.5 0.3 -0.5 0.4 -0.9 0 0.1 -0.1 -0.2 0.5 -0.1 0.6 -0.5 0.3 -0.1 0.1 1.1 0.6 0.4 0.8 -0.3 0.3 -0.1 0.1 -0.1 0.5 -0.3 0.2 -0.1 0.3 0.6 0.6 0.1 0.3 -0.3 0.7 0 0.4 -0.4 0.4 -0.2 0.5 0.1 0.3 0.5 0.3 0.4 0.4 -0.4 0.4 -0.1 0.6 0.5 0.3 0.4 0 -0.1 1 0.3 0.8 0.2 -0.1 -0.4 0.4 0.2 0.4 0.4 0.4 -0.8 0.5 -0.1 0.3 -0.3 0 -0.8 0.4 0.4 0.8 0.4 0.3 -0.6 0.2 0.4 0.5 0.6 0.3 -0.2 0.3 -0.2 0.4 -0.3 0.5 0 0.9 0 0.2 0.2 0 0.5 0.6 0.5 1 0.4 -0.2 -0.4 -0.3 0 1 0.5 0.2 -0.9 0.4 -0.5 0.7 0.1 0.5 0 0.3 0.7 0.3 0.6 0.4 -0.3 0.6 -0.6 0.5 -0.1 0.2 0.6 0.1 0.1 0.7 -0.5 0.9 -0.1 0.5 0.3 -0.1 0 0.1 -0.1 0.7 -0.1 0.3 -0.5 0 0.3 0.6 0.6 0.6 -0.3 0.2 -0.2 0.3 0.4 1 0.8 0.8 0 -0.2 -0.8 -0.2 0 0.5 0.9 0.8 -0.4 0.4 -0.7 0.4 -0.3 0.5 0.8 0.6 0.5 -0.2 -0.3 0.1 -0.4 0.4 0.1 0.5 0.3 0.8 0.3 0.7 0 0.6 -0.4 0.2 -0.7 0.2 -0.6 0.5 0.1 0.8 0.4 0.2 0.8 -0.2 0.4 0 0.2 0.8 -0.6 0.6 -0.6 0.7 0 0.5 -0.1 0.5 -0.2 0.3 -0.5 0.2 0.7 0.4 1.1 0.8 -0.2 0.2 -0.6 0.1 -0.5 0.2 0.2 0.2 0.5 0.5 -0.2 0.6 -0.1 0.8 0.1 0.6 0.2 -0.4 0.6 0.4 -0.1 0.8 -1.4 0.3 -0.3 0.3 0.6 0.5 0.8 0.2 0.4 0.2 0.1 0.8 -0.1 0.1 0.5 0.2 -0.7 1 -0.6 0.7 0.6 0.2 0.3 0.1 -0.6 0.4 -0.6 0.5 0.4 0.5 0.5 0.2 0.1 0.4 0.6 0.8 0.5 0.2 0.2 0.2 -0.5 0.2 -0.2 0.6 0.3 0.7 -0.1 0.4 -0.4 0.6 -0.7 0.1 -1.1 0.2 0 0.3 0.7 0.6 0.4 0.5 0.4 0.1 0 0.6 -1 0.4 -0.2 0.4 1 0.6 0.4 0.2 -0.4 0.3 -0.5 0.6 -0.2 0.4 0.3 0.2 0.4 1.1 0.5 0.5 -0.1 -0.3 -0.3 0.5 0.1 0.5 0.2 0.5 0.4 0.6 0.2 0.2 -0.2 0.1 -0.2 0.6 -0.2 0.2 -0.6 0.5 0.1 0.5 0.4 0.3 0.6 0.6 0.4 0.1 -0.3 0.7 -1.2 0.2 -0.8 0.4 -0.2 0.4 -0.2 0.3 0.5 0.5 1 0.2 0 0.3 -0.6 0.5 0.4 0.2 0.8 0.1 0.4 0.6 -0.2 1.1 -0.6 0.7 -0.3 0.1 0.2 0.3 -0.2 0.3 -0.7 0.5 0 -0.1 0.4 0.3 0 1.1 0.1 0.4 0.3 -0.2 0.2 0.1 -0.2 0.8 -0.1 0.7 -0.1 0.5 -0.6 0.4 -0.5 0.2 0.3 0 0.5 0.7 -0.1 0.7 0.1 0.3 0.5 0.1 -0.1 0.6 0 0.5 0.2 0.4 0 0.5 0.2 0.6 0.1 0.1 0 0.3 0 0.7 -0.7 0.1 -0.4 0.4 0.4 0.8 -0.1 0.7 0.1 0.3 -0.2 0 0 0.2 0.4 0.4 -0.6 0.5 -0.9 0.3 0.3 0.3 1 0.7 0.1 0.6 -0.7 0.3 -0.4 0.2 0.6 0.5 0 0.2 -1.2 0.4 0.1 0.6 0 0.4 -0.2 0.3 0.5 0.7 0.6 0.3 -0.3 0.2 -0.2 0.4 0.2 0.5 0.4 0.2 0.6 0.5 0.1 0.8 -0.3 -0.2 -0.1 0.7 -0.1 0.8 -0.4 -0.4 0.3 0.5 -0.2 0.3 0.3 0.4 1.1 1.2 -0.8 -0.1 -1 -0.2 -0.1 0.6 0.2 0.9 -0.3 0.4 -0.2 0.3 0.1 0.4 0 0.3 0.5 0.5 0.6 0.5 0.6 0.3 -0.2 0.3 -1.5 0.5 -0.6 0.5 0.2 0.3 0.6 0.5 0.5 0.5 -0.3 0.2 -0.6 0.3 -0.2 0.6 0.1 0.5 0.3 0.3 -0.2 0.3 -0.2 0.5 0.4 0.2 0.6 0.6 -0.3 0.5 -0.4 0.4 0.6 -0.2 0.3 0.6 -0.5 0.6 -1 0.3 -0.1 0.4 0.5 0.4 -0.2 0.5 0.2 0.6 0.9 0.3 0.5 0.7 0 0.1 0.1 0.6 -0.5 0.4 -0.7 0.1 0.4 0.6 0.1 0.2 0.1 0.2 0.4 0.5 0 0.5 0 0.3 -0.7 0.2 -0.6 0.5 -0.1 0.5 -0.1 0.4 -0.2 0.3 0.4 0.5 0.4 0.3 -0.7 0.5 -0.2 0.3 0 0.2 0.9 0.6 0.5 0.4 0.3 0.5 -0.1 0.4 -0.5 0.5 -0.4 0.6 0 0.3 0.6 0 0.7 0.4 0.7 0.8 -0.7 0.2 -1 0.5 0.1 0.5 0.1 0.5 0 0.5 0.6 0.1 0.3 0.1 -0.4 0.4 0.5 1 -0.1 0 -0.6 -0.1 0.9 0.8 0.4 0.8 -0.4 -0.1 0 0.3 -0.1 0.7 0 0.3 -0.4 0.4 -0.5 0.5 0.1 0.9 -0.1 0 -0.6 0.1 -0.2 0.6 0 0.4 0.5 0.3 0.3 0.4 -0.4 0.5 0.2 0.5 -0.1 0.3 0.1 0.5 0.4 0.4 0.2 0.3 0.3 0.4 0 0.4 -0.2 0.3 0.1 0.2 0.3 0.4 0.1 0.5 -0.4 0.2 0.4 1 0.5 0.5 -0.3 0.5 0.1 0.2 -0.7 0 -0.8 0.6 -0.2 0.4 -0.1 0.4 0.2 0.6 0.5 -0.2 0.8 0.3 -0.2 0.9 -0.3 0.7 -0.4 0.4 -0.2 0.2 -0.3 0.2 0.8 0.7 1.2 0.3 -0.4 0.3 -0.6 0.4 0.8 0.2 0.2 0.9 -0.6 0.1 -0.7 0.4 -0.4 0.6 0.2 -0.2 1.9 0.7 0.8 0.8 -1.8 0.3 -0.8 0.2 1.2 0.4 0.5 1 -0.2 0.1 -0.2 0.4 -0.5 0.4 -0.1 0.2 0.2 0.8 -0.3 0.1 -0.2 -0.1 0.1 0.8 0.2 0.6 -0.6 0.2 -0.7 0.5 0.1 0.5 -0.2 0.2 -0.3 0.4 0.3 0.7 0.7 0.4 -0.1 0.3 0.1 0.1 0.6 0.1 0 0.6 -1 0.6 -0.5 0.3 0.6 0 0.2 0.6 0.3 0.6 0.1 0.4 -0.2 0.6 0.1 -0.1 0.6 1 -0.1 0.5 -0.4 0 0.8 0.3 0.4 0.5 -0.1 0.6 -0.7 0.2 -0.2 0.4 0.4 0.5 -0.2 0.3 -0.4 0.3 -0.2 0.9 -0.2 0.5 -0.5 0 0.2 0.8 0.3 0.4 -0.6 0 -0.3 0.2 0.8 0 1.1 0.5 -0.4 0.9 -1.4 0.4 0.1 0.4 0.9 0.5 0 0.2 -0.2 0.6 0 0.5 -0.3 0.3 0 0.5 0.2 0.1 -0.4 -0.1 0.3 0.4 1.2 0.5 -0.1 0.5 -0.5 1.2 -0.4 -0.1 -0.5 0.3 0.2 0.5 0.5 0.2 0.5 0.9 -0.3 0.5 0 0.1 0.1 0.2 -0.2 0.4 -0.1 0.3 0.3 0.7 0 0.5 -0.4 0.2 -0.7 0.4 -0.2 0.4 1 0.7 0.5 0.2 -0.7 0.5 0.1 0.4 -0.2 0.2 0 0.3 0.5 0.5 0.5 0.8 0 0.2 -0.6 0.3 -0.8 0.5 0.2 -0.1 0.5 0.2 0.6 1 0.4 0.6 -0.4 0 0.1 -0.6 0.5 1.3 -0.6 0.8 -0.8 0.1 0.2 0.4 0.2 1.1 0.8 -0.2 0.4 0 -0.1 1 -0.1 0.4 -0.9 0.1 -0.8 0.2 0.2 0.6 0.8 1 -0.1 0.4 -0.3 -0.1 -0.4 0.2 0 0.6 0.7 0.8 0.3 0 -0.6 0.4 -0.8 0.7 0.3 0.4 0.8 0.2 -0.6 0.3 -0.6 0.5 0.7 0.5 0.2 0.1 0 0.8 0.2 0.2 -0.2 0.4 -0.4 0.4 -0.2 0.5 0 0.4 0.3 -0.1 0.5 0.2 -0.5 0.6 -0.2 0.8 0.3 0.6 0.3 0.1 -0.4 0.5 -0.7 0.5 -0.1 0.5 0.9 0.7 0.2 0.2 -0.2 0.3 0.1 0.3 -0.3 0.3 -0.1 0.5 0.3 -0.1 0.3 0.6 0 0.7 -0.5 0.1 -0.3 0.4 0.1 0.8 -0.3 0.6 -0.1 0.6 0.3 0.1 0.4 0.1 0.5 0.5 0 0.2 -0.5 0.4 -0.4 0.6 -0.1 0.7 0.4 0.4 0.5 0.3 -0.5 0.1 -0.9 0.2 0.2 0.7 0.5 0.2 -0.3 0.3 0.1 0.9 0.4 0.3 -0.1 0.1 -0.5 0.2 0.2 0.3 0.4 0.7 0.4 0.1 0.1 0.5 -0.4 0.9 -0.2 0.3 -0.2 0.1 -0.4 0.4 0 0.4 0.1 0.4 -5.7 -0.4 -0.1 -0.4 -0.2 -0.7 0.4 -0.5 0.1 -0.1 -0.1 -0.3 -0.2 -0.6 -0.3 -0.2 0 -0.4 0.1 -0.6 0.4 -0.5 0.1 -0.6 -0.9 0.1 -0.5 -0.5 0.6 -0.6 0.8 -0.2 0.1 -0.6 -0.8 -0.7 -0.7 -0.4 0.4 -0.3 0.6 -0.3 0 -0.2 0.1 -0.4 0.2 -0.5 0.4 -0.4 -0.4 -0.6 -0.5 -0.8 0.1 -0.3 0.8 -0.1 0.3 0.2 -1.4 -0.4 -0.3 -0.9 1 -0.1 0.2 -0.3 -0.1 -0.7 -0.4 -0.4 -0.4 -0.5 0.4 -0.4 0.9 -0.4 0.2 -0.5 0.2 -0.3 0 -0.4 0 -0.3 -0.2 -0.3 -1 -0.9 -0.3 0 0.8 0.1 0.5 -0.2 -0.5 -0.7 -0.4 -0.8 0 -0.5 -0.1 -0.3 -0.3 -0.4 0.3 -0.4 0.4 -0.5 0.2 -0.1 0.3 -0.7 -0.5 -0.3 -0.3 -0.1 -0.2 -0.7 -0.4 -0.6 0.3 -0.3 1.2 -0.2 -0.4 -0.4 -1.3 -0.9 0.2 0.1 0.9 -0.1 0 -0.7 -0.5 -0.8 0.8 -0.3 0.6 0 0 -0.2 -0.2 -0.6 -0.3 -0.6 -0.1 -0.4 -0.3 0.1 -0.4 -0.8 -0.7 -0.9 0.5 0.1 1.5 -0.4 0.3 -0.6 -1.2 0.1 -0.9 0.2 0 -1.3 0.6 -0.6 0.7 -0.2 -0.7 0 0.1 -0.7 1 -0.6 -0.3 -0.4 -1.5 -0.5 -0.1 -0.5 0.8 -0.1 0.6 -0.3 -0.2 -0.5 -0.3 -0.6 0 -0.3 0.4 -0.4 -0.2 -0.6 0 -0.1 0.2 -0.4 0.3 -0.4 -0.1 -0.6 -0.7 -0.2 0.1 -0.2 0.4 -0.5 -0.4 -0.3 -0.6 -0.7 -0.3 -0.9 -0.2 -0.1 0.4 0 1 -0.5 0.2 -0.2 -0.4 -0.6 -0.8 -1.1 -0.1 0.8 -0.1 -0.5 0.2 -0.4 0.2 0 -0.3 -1.2 0.1 -0.7 0.5 -0.4 -0.5 -0.6 -0.6 -0.2 0.3 -0.1 1.3 -0.5 0.6 -0.4 -0.8 -0.4 -0.7 -0.4 0.4 0 0.3 -0.4 -0.2 -0.5 -0.5 -0.7 0.3 -0.6 1 -0.5 -0.5 -0.2 -0.8 -0.7 0.9 -0.2 0.7 0 -0.4 -0.5 -0.3 -0.5 0 -0.3 -0.1 -0.3 -0.8 -0.8 -0.4 0 0.5 -0.5 0.7 -0.4 0.1 -0.8 -0.6 -0.3 0.5 0.1 0.2 -0.7 -0.6 -0.2 -0.5 -0.5 0.4 -0.1 0.3 -0.1 -0.3 -1 0.2 -0.5 0.2 -0.2 -0.4 -0.2 -0.4 -0.6 0 -0.7 0.8 -0.5 0.4 -0.3 0.4 -0.3 -0.2 -0.5 -0.5 -0.6 0 -0.3 0.1 -0.3 -0.2 -0.7 -0.9 0.1 -0.5 0 0.8 -1 0.7 -0.6 0.4 -0.1 0.4 -0.5 -0.1 -0.4 -0.1 -0.4 -0.2 -0.6 0.2 0 0.2 -0.4 -0.2 -0.6 0.2 -0.4 0.3 -0.2 -0.4 -0.2 0.2 -0.7 0.5 -0.3 -1 -0.4 -0.8 -0.7 1 0 0.3 -0.5 0.3 -0.4 0.4 -0.5 -0.5 -0.5 -0.6 0 0.4 -0.6 0.3 -0.7 0 -0.6 -0.4 0.2 -0.1 0 0.1 -0.6 -0.4 -0.9 -0.5 -0.1 -0.3 -0.3 0.2 -0.5 0.9 0 -0.2 -1.1 -0.6 -0.5 0.3 -0.3 -0.1 -0.3 -0.3 0.3 -0.5 -0.6 -0.4 -0.5 0.7 -0.6 1.1 -0.5 0.3 -0.4 -0.6 -0.4 -0.5 -0.4 -0.2 -0.5 0.1 -0.3 0.2 -0.3 -0.3 -0.6 -0.4 -0.3 0.6 -0.2 0.2 -0.4 -0.2 -0.5 0.1 -0.4 0 -0.1 -0.2 -0.9 -0.2 -0.9 0 0.2 -0.5 -0.2 0 -0.5 0.9 -0.5 0.9 -0.3 -0.1 -0.4 -0.9 -0.6 0 -0.2 -0.3 -0.1 -0.4 -0.8 -0.2 -0.7 0.6 0 0.8 -0.4 -0.1 -0.6 -0.9 -0.6 0.1 -0.3 1 -0.3 0.1 -0.4 -0.8 -0.2 -0.2 -0.6 0.3 -0.2 -0.2 -0.3 -0.6 -0.8 0 -0.7 0 -0.1 0.5 -0.2 1 -0.4 0.3 -0.4 -0.1 -0.3 -0.6 -0.1 -0.5 -0.5 0.2 -0.6 0.3 -0.5 0.2 -0.4 -0.3 -0.3 -0.8 -0.4 0 -0.4 0 -0.3 -0.2 -0.4 0 -0.6 -0.3 -0.5 0.3 -0.3 0.8 -0.4 -0.5 -0.5 -0.8 -0.6 0.4 -0.1 -0.1 -0.9 -0.6 -0.3 0.3 -0.1 0.4 -0.6 0.5 -0.2 0.8 -0.4 -0.2 -0.4 -1 -0.1 0.2 -0.6 0.8 -0.3 -0.1 -0.6 -0.1 -0.3 0.6 -0.4 -0.2 -0.5 -0.4 -0.6 -0.7 -0.3 -0.1 -0.2 -0.3 -0.7 -0.5 -0.3 0.9 -0.3 1 -0.6 -0.9 -0.4 -1 -0.1 0.3 -0.4 -0.1 -0.7 0.3 -0.3 0.5 -0.3 -0.4 -0.7 -0.7 -0.2 0.2 -0.1 0.5 -0.6 0 -0.4 0.6 -0.3 0.3 -0.4 -0.7 -0.5 0.1 -0.4 0.6 -0.5 0.5 -0.4 0.1 0.2 -0.6 0 -1 -1.4 -0.2 -0.6 1.2 0 0.5 -0.3 -0.4 -0.4 0 -0.3 -0.2 -1 0 -0.1 0.2 -0.2 -0.6 -1 -0.5 0 0 -0.3 0.1 -0.6 0.7 -0.2 0.8 -0.4 -0.3 -0.7 -0.6 -0.6 -0.2 -0.1 0.1 -0.6 0.5 -0.3 1 -0.1 0 -0.4 -0.9 -0.7 -0.8 -0.3 -0.4 -0.9 0 -0.3 0.6 0 0.4 -0.1 0.3 -0.5 0.5 -0.5 0.5 -0.3 0.1 -0.4 -0.8 -0.6 -0.7 -0.8 0.5 -0.4 0.8 0 0.7 -0.2 0.2 -0.4 -1.1 -0.8 -0.4 0 0.4 -0.5 -0.5 -0.8 -0.8 -0.1 0.5 -0.3 0.6 -0.4 -0.6 -0.1 -0.6 -0.2 0.6 -0.9 0.3 -0.6 -0.5 0.3 -0.3 0 0.2 -0.9 -0.1 -1.4 -0.2 -0.1 0.3 0 0.5 -0.1 0.4 -0.3 0.4 -0.7 0.1 -0.7 -0.2 -0.5 -0.5 0.5 0 -0.8 0.3 -0.8 -0.1 -0.4 -0.8 -0.5 -0.7 -0.4 0.5 -0.5 1.1 -0.3 0 0.3 -1.1 -0.2 -0.1 -0.7 0.2 -0.5 0.3 -0.4 0.8 -0.6 0.4 -0.5 -0.7 -0.3 0 -0.5 0.7 -0.3 0.3 -0.5 -0.7 -0.5 0 -0.2 0.7 -0.5 0 -0.4 -0.7 -0.5 -0.7 -0.3 0.3 -0.3 -0.1 -0.5 -0.2 -0.3 0.1 -0.5 0.6 -0.4 0.9 -0.4 0 -0.4 0 -0.4 -1.5 -0.3 -0.4 -0.9 0.8 -0.5 0 0.5 -0.8 -0.8 0.2 -0.5 0.6 0.1 -0.2 -0.6 -0.1 -0.8 -0.2 -0.1 -0.2 -0.4 0.6 -0.3 0.5 -0.4 0.1 -0.5 0.6 -0.4 -0.2 -0.1 -0.5 -0.6 0.5 -0.6 -0.1 -0.8 -1.3 -0.1 -0.5 -0.3 1 -0.2 0.3 -0.3 -0.2 -0.5 -0.1 -0.6 -0.2 -0.5 -0.6 -0.1 -0.1 -0.3 0.6 -0.7 0.1 -0.2 -0.4 -0.3 0.2 -0.4 0.1 -0.7 0.4 -0.6 0.3 -0.1 0.2 -0.2 0.1 -0.4 -0.8 -0.5 -0.5 -0.2 0.3 -0.5 -0.1 -0.6 0.2 -0.3 -0.1 -0.5 -0.7 -0.6 0 0.1 0.2 -0.5 -0.3 -1.1 0.5 -0.2 0.1 0.1 0.2 -0.4 0.5 -0.3 -0.6 -0.4 -0.7 -0.7 0.7 -0.5 0.8 -0.5 -0.2 -0.2 -0.9 -0.6 -0.3 -0.9 0.4 -0.5 -0.5 -0.4 -0.8 0.1 0.1 0.2 0.6 -0.3 0.6 -0.4 0.7 -0.7 0.3 -0.6 -0.1 -0.8 -0.3 -0.1 -0.8 0.2 -0.4 -1.1 0.5 -0.4 0.8 -0.2 -0.5 -0.1 -0.8 0 0.1 -0.4 0.7 -0.8 0.7 -0.5 0 -0.7 -0.8 -0.2 -0.7 -0.4 -0.4 -0.3 -0.1 -0.5 0.3 -0.1 0.4 -0.1 -0.3 -1.1 -0.4 -0.9 0.1 -0.1 0.1 0.4 -0.1 -0.6 0.3 -0.7 0.3 -0.2 0.2 -0.2 -0.1 -0.8 -0.7 -0.5 0 -0.1 0.2 -0.7 0 -0.8 0.1 -0.4 0.1 0.1 0.5 -0.2 0.2 -0.6 -0.5 -0.6 -0.2 -0.3 0.2 -0.2 0.2 -0.5 0.5 -0.4 -0.1 -0.5 -1.3 -0.2 -0.4 0 0.7 -0.7 0.2 -0.5 -0.3 0.2 -0.6 -1.1 0.2 -0.7 0.8 -0.1 0.1 -0.2 0.1 -0.8 0 -0.6 -0.2 0.2 -0.4 -0.1 -0.9 -0.4 -1.2 -0.7 0.3 -0.6 1.2 -0.2 -0.1 -0.7 -0.2 -0.5 0.3 0.2 0.1 -0.4 0.3 -0.9 0.9 -0.4 0.4 -0.4 -0.8 -0.4 -1 -0.4 -0.3 -0.4 0.4 -0.9 -0.2 -0.1 -0.2 0.2 0.3 -0.8 0.3 -0.5 0.2 -0.2 0.4 -0.4 0.3 -0.4 0 -0.4 -0.7 -0.7 -0.6 -0.1 0.1 -0.5 1.1 -0.3 0.9 -0.3 -0.1 -0.4 -1.3 0.1 -1 -0.6 0.1 -0.8 0.7 -0.3 0.4 -0.6 -0.2 -0.4 0.8 -0.3 0.3 -0.2 -0.3 -0.4 -0.8 -0.7 -0.7 -0.1 -0.8 -0.1 0.1 -1.2 0.5 -1 0.4 -0.2 -0.1 -0.4 -0.1 -0.3 0.2 0.1 0.1 -0.1 0.1 -0.6 0 -0.4 0.5 -0.3 0.3 -0.6 -0.2 -0.4 -0.6 -0.6 -0.2 -0.1 0.8 -0.4 0.2 -0.6 -0.8 -0.6 0.6 -0.3 0.7 -0.3 -0.9 -0.5 -0.7 -0.1 0.6 -0.3 0.7 -0.6 0.3 -0.7 -0.7 0.1 -0.6 -0.1 0.8 -0.7 0.2 -0.7 0.2 -0.2 0.6 -0.4 -0.3 -0.5 -1.4 -0.4 0 -0.3 0.9 -0.4 0.4 -0.3 0 -0.2 -0.5 -0.7 -0.4 -0.6 -0.1 -0.3 -0.1 -0.3 0.1 -0.9 0.1 -0.2 0.2 0.3 -0.6 -0.7 -0.5 -0.6 0.3 -0.1 0.5 -0.3 0.6 -0.7 0.3 -0.6 -0.9 -0.3 -0.4 -0.1 0.3 -0.5 0.5 -0.5 0.6 -0.4 -0.8 -0.5 -0.5 -0.4 0.4 -0.4 -0.1 -0.4 -1.1 -0.3 0.1 -0.5 0.9 -0.5 -0.4 0 0.1 -0.6 1 -0.4 0.3 -0.4 -0.1 -0.5 0.1 -0.5 -0.4 -0.4 -0.5 -0.1 0.4 -0.5 0.2 -0.7 0 -0.4 -0.1 -0.1 -0.2 -0.5 0.4 -0.5 0 -0.3 -0.3 -0.2 0.3 -0.3 0.1 -0.5 -0.5 -0.9 -0.6 -0.2 -0.2 -0.4 0.1 -0.3 0.3 -0.2 0.6 -0.7 0.3 -0.2 -0.3 -0.2 -0.3 -0.7 -0.6 -0.4 -0.4 -0.2 -0.2 -0.1 -0.2 -0.3 0.6 -0.8 1.3 -0.5 0.1 -0.5 -0.1 -0.4 0.1 -0.5 -0.8 -0.4 -0.6 -0.2 0 -0.5 0.2 -0.7 0 -0.4 -0.1 0.4 -0.1 -0.7 0 -0.6 0.4 -0.3 0.4 -0.4 0.4 -0.2 -0.4 -0.6 -0.6 -0.7 0.2 -0.3 0.4 -0.4 0.2 -0.2 -0.1 -0.1 -0.7 -1.1 -0.1 -0.4 1.1 0 0.2 0 -0.9 -1.2 -0.7 -0.4 0.6 0.1 0.5 -0.6 0.4 -0.4 0.7 -0.3 -0.2 -0.7 -0.7 -0.8 -0.3 0.1 0.2 0 0.2 -0.5 0.6 -0.4 0 -0.1 -0.6 -0.6 -0.6 -1 0 -0.2 0 0 -0.2 -0.7 -0.7 -0.9 0.1 0.2 1 -0.6 -0.2 -0.6 -0.8 -0.3 0.4 -0.3 0.8 -0.3 0.3 -0.2 0.3 -0.4 -0.5 -1.2 -0.4 -0.4 0.2 0.1 0.7 -0.2 0.6 -0.3 -0.2 -0.6 -0.9 -0.7 -0.3 0 0.5 -0.4 1 -0.4 0.2 -0.2 -0.6 -0.4 -0.8 -0.4 0.2 -0.5 0.2 -0.6 -0.4 0.2 -1.1 -0.7 -0.1 -0.6 0.8 -0.4 -0.3 -0.3 -0.1 -0.4 1.4 -0.6 0.4 -0.5 -0.6 -0.6 -0.7 0.2 -0.1 -0.5 -0.1 -0.9 0.5 -0.1 -0.1 -0.5 -0.5 -0.1 0.1 -0.7 0.2 -0.7 0.2 0 0.3 -0.2 0.4 -0.6 -0.2 -0.3 -0.4 -0.3 0 -0.5 -0.5 -0.2 -0.7 -0.2 0 -0.3 0.1 -0.5 0.1 -0.5 0.8 -0.6 0.8 -0.5 -0.3 -0.1 -1.3 -0.6 -0.3 -0.9 0.5 -0.2 0.3 -0.2 -0.1 -0.3 0 -0.2 0.5 -0.7 0.2 -0.4 -0.1 -0.4 0.2 -0.5 -0.1 -0.5 -0.6 -0.5 -0.7 -0.1 0 -0.3 0.8 -0.4 0.1 -0.7 0 -0.5 0.1 -0.3 -1.1 -0.3 -0.9 -0.2 1 -0.4 1.3 -0.4 -0.2 -0.5 -0.7 -0.4 0.7 -0.3 0.6 -0.5 -0.4 -0.7 -0.5 -0.8 -0.7 -0.6 -0.6 -0.2 -0.6 -0.1 0.5 0.2 1 -0.6 -0.2 -0.9 0.1 -0.1 0.9 0 0.1 -0.7 -0.1 -0.2 0.3 -0.4 -0.1 -0.7 0 -0.5 -0.1 -0.1 -0.3 -0.3 0.6 -0.5 0.6 -0.3 -0.1 -0.4 -0.1 -0.4 -1.1 -0.9 -0.3 -0.4 0.2 -0.2 -0.1 -0.3 0.3 -0.5 0.2 -0.3 -0.1 -0.4 -0.2 -0.6 -0.1 -0.1 0.3 -0.4 0.4 -0.6 0.1 -0.6 0 -0.3 0.3 -0.2 -0.2 -0.3 -0.7 -0.3 0 -0.3 0.3 -0.7 0.1 -0.6 -0.6 -0.1 -0.1 -0.2 0.5 -0.8 0.6 -0.3 0 -0.3 -0.1 -0.4 0.4 -0.4 0 -0.6 0 -0.4 -0.5 -0.2 -1 -0.3 -0.1 -0.5 0.4 -0.5 0.6 -0.5 0.1 -0.4 -0.4 -0.7 -0.2 -0.2 0.9 -0.2 0.6 -0.6 0 -0.3 0 -0.5 0 -0.5 -0.3 -0.1 -0.8 -0.6 -0.3 -0.3 0.7 -0.3 0.8 -0.3 0 -0.3 -0.7 -0.7 0 -0.3 0.6 -0.1 -0.3 -0.8 -0.6 -0.3 -0.1 0 0.1 0 -0.2 -0.8 -0.4 -1.2 0.2 -0.2 0.3 -0.5 0.5 -0.3 -0.3 -0.2 0.2 -0.2 0.9 -0.3 -0.2 -0.8 -0.3 -0.6 -0.3 -0.4 -0.7 -0.5 0.1 -0.4 0.5 0 -0.1 0.1 -0.4 -0.3 -0.4 -0.3 0.6 -0.5 0.6 -0.8 0 -0.6 -0.2 -0.1 -0.3 -0.2 -0.7 -0.7 0.3 -0.5 1 -0.5 -0.2 -0.3 -0.3 -0.5 0.5 -0.5 0.3 -0.2 -0.4 -0.2 -0.5 -0.6 0.3 -0.5 0.5 -0.5 0 -0.6 -0.2 -0.3 -0.5 0 -0.6 -0.2 0 -0.5 0.5 -0.6 0.3 -0.5 0 -0.2 -0.4 -0.5 -0.9 -0.2 -0.1 -0.4 0.6 -0.6 -0.3 -0.6 0.1 -0.1 0.3 0.3 -0.1 -0.6 0.3 -0.8 -0.1 -0.7 0 -0.6 0 -0.2 -0.5 -0.3 0 -0.7 0.5 -0.5 -0.1 -0.5 0.4 0 0.4 -0.1 -0.5 -0.5 -0.1 -0.6 0.5 -0.2 0.3 -0.2 0 -0.4 -0.3 -0.7 0.3 -0.4 -0.1 -0.3 -1.1 -0.7 -0.4 -0.3 1 -0.1 -0.1 -0.3 -1 -0.4 0.3 -0.4 0.4 -0.7 -0.4 -0.3 0 -0.2 -0.1 -0.6 -0.5 -0.2 0.1 -0.3 0.8 -0.5 0.1 -0.7 0.2 -0.3 0.4 -0.5 -0.6 -0.6 -0.8 -0.8 -0.7 0.3 0.3 -0.1 1.6 -0.8 0.1 -0.7 -1.2 -0.5 -0.5 -0.2 0.1 0.3 -0.3 -0.3 0.1 -0.7 1 -0.6 0.7 -0.2 -0.7 -0.7 -0.8 -0.5 1.1 -0.2 0.3 -0.2 -1.1 -0.5 -1.3 -0.3 0 -0.3 0.5 -0.9 0.1 -0.7 0.5 -0.1 0.6 -0.3 -0.5 -0.9 -0.8 -0.3 -0.9 0.1 0 -0.6 1.4 -0.4 0.7 -0.3 -0.3 -0.2 -0.3 -0.3 0.1 -0.7 0.4 -0.4 -0.1 -0.3 -0.3 -0.6 0.8 -0.5 0.1 -0.6 -0.8 -0.2 -0.3 -0.1 0 -0.5 0.7 -0.4 0.2 -0.7 -0.2 -0.3 -0.1 -0.2 0.1 -0.2 0.3 -0.4 0.1 -0.8 -0.8 -0.3 -0.4 -0.1 0.8 -0.4 0 -0.7 -0.4 -0.4 0 -0.6 0.1 -0.4 0.8 -0.2 -0.1 -0.5 -0.9 -0.4 0.1 0 0.1 -0.6 -0.2 -0.4 0 0 0.2 -0.7 0.5 -0.4 0 -0.2 -0.9 -0.6 -0.3 -0.6 0.9 -0.4 0.6 -0.4 -0.6 -0.4 -0.5 -0.2 -0.1 -0.2 0 -0.7 0.1 -0.5 0 -0.2 -0.3 -0.4 0.2 -0.7 0.2 -0.1 0 -0.4 -0.3 -0.8 0.1 0.1 0.3 -0.4 0.7 -0.5 0.3 -0.4 -0.8 -0.7 -0.9 -0.4 0.6 -0.3 0.5 -0.3 -0.2 -0.5 -0.3 -0.4 0.3 -0.3 0.4 -0.5 0.1 -0.7 -0.5 -0.5 -0.8 -0.2 -0.4 -0.3 0 -0.3 0.1 0 0.5 -0.7 0.7 -0.5 0.3 -0.5 -0.6 -0.5 -1 -0.5 -0.5 -0.2 0.7 -0.3 1.2 -0.4 0.3 -0.3 -0.2 -0.5 0.4 -0.3 0.1 -0.4 -0.3 -0.4 0.1 -0.4 -0.2 -0.5 -0.1 -0.5 -0.1 -0.4 -0.2 -0.6 -0.2 -0.3 -0.4 -0.1 0.4 -0.4 0.3 -0.5 0 -0.5 0.2 -0.3 0.5 -0.3 -0.3 -0.5 -0.8 -0.3 0 -0.2 0.4 -0.6 0.5 -0.5 0.1 -0.4 -0.3 -0.5 0.3 -0.3 0.7 -0.3 0.1 -0.4 -0.2 -0.4 0.4 -0.4 -0.2 -0.5 -1.1 -0.5 0.2 -0.2 0.2 -0.4 -0.3 -0.6 0.4 -0.3 0.5 -0.3 0 -0.4 0 -0.4 -0.2 -0.3 -0.5 -0.7 -0.2 -0.3 0.4 -0.2 0.1 -0.5 -0.3 -0.4 -0.5 -0.4 0.1 -0.4 0.6 -0.3 0.2 -0.3 -0.3 -0.5 0.2 -0.4 0.2 -0.2 -0.4 -0.4 -0.8 -0.3 -0.5 -0.4 0 -0.5 0.4 -0.5 1 -0.5 0.5 -0.4 -0.3 0 -1.4 -0.1 -0.8 -0.7 0.4 -0.7 0.8 -0.4 0.2 -0.4 -0.5 -0.4 -0.4 -0.4 -0.1 -0.5 0.4 -0.4 0.1 -0.3 -0.9 -0.4 0 -0.4 1 -0.4 0 -0.4 -0.4 -0.4 0.3 -0.4 0.4 -0.4 -0.2 -0.4 -0.8 -0.4 -0.3 -0.4 0.1 -0.4 0.1 -0.4 -0.2 -0.4 -0.6 -0.4 -0.2 -0.4 0.5 -0.4 1 -0.5 0.5 -0.4 -0.4 -0.4 -0.3 -0.4 0.6 -0.4 0.4 -0.4 -0.4 -0.3 -0.9 -0.4 0.1 -0.5 0.8 -0.4 0 -0.3 -0.6 -0.4 -0.3 -0.4 0.3 -0.4 -0.1 -0.4 -0.9 -0.4 -0.1 -0.4 0.7 -0.4 0.6 -0.5 0.4 -0.4 0.1 -0.4 -0.1 -0.4 0 -0.4 -0.2 -0.3 -1.1 -0.4 -0.3 -0.4 0.5 -0.4 -0.2 -0.4 -0.3 -0.4 -0.2 -0.4 -0.3 -0.4 0 -0.4 0.2 -0.4 0.9 -0.5 0.6 -0.3 -0.5 -0.4 -0.2 -0.4 -0.1 -0.4 -0.4 -0.4 0.3 -0.4 0.4 -0.4 0.1 -0.4 -0.5 -0.4 -0.4 -0.4 0.5 -0.4 0.1 -0.4 -0.7 -0.4 -0.8 -0.4 -0.2 -0.4 0 -0.4 0 -0.4 0.3 -0.4 0.4 -0.4 0.3 -0.4 0.5 -0.5 0.3 -0.3 -0.8 -0.4 -0.8 -0.4 0 -0.4 0 -0.4 0.2 -0.4 -0.1 -0.4 -0.1 -0.4 0.3 -0.4 0.4 -0.4 0.4 -0.4 -0.8 -0.4 -0.2 -0.4 0.7 -0.4 -0.5 -0.4 -0.5 -0.3 -0.1 -0.4 -0.8 -0.4 -0.4 -0.4 0.6 -0.4 0.8 -0.4 0.5 -0.4 -0.2 -0.2 -0.5 -0.3 0.2 -0.6 0.9 -0.4 0.3 -0.2 -0.8 -0.3 -0.2 -0.4 0.1 -0.4 -0.1 -0.5 0.3 -0.5 0.1 -0.3 -0.2 -0.3 -0.5 -0.1 -0.7 -0.5 0 -0.4 -0.1 -0.4 -0.1 -0.3 -0.4 -0.3 -0.8 -0.5 -0.3 -0.5 0.1 -0.6 0 -0.5 0.5 -0.5 0.5 -0.4 0.1 -0.4 -0.1 -0.4 -0.1 -0.4 0.1 -0.4 -0.1 -0.4 -0.4 -0.4 -0.4 -0.4 -0.2 -0.4 0.6 -0.4 0.8 -0.4 -0.5 -0.4 -0.6 -0.4 0.3 -0.4 0.2 -0.3 -0.6 -0.2 -0.7 -0.3 0.8 -0.4 0.5 -0.2 -0.3 -0.1 -0.5 0.2 -0.9 -0.3 -0.1 -0.6 0.4 -0.5 0.1 -0.1 -0.3 -0.1 -0.6 -0.3 -0.3 -0.5 0.2 -0.4 -0.2 -0.2 -0.4 -0.7 0.2 -1 0.7 -0.2 -0.4 0.2 -1.1 0 -0.6 -0.2 -0.4 -0.1 -0.5 0 -0.7 -0.5 0.1 -0.7 0.3 -0.6 0.2 -0.8 0.4 -0.3 -0.2 0.1 -0.8 -0.1 -0.4 -0.3 -0.3 -0.2 -0.3 -0.4 -0.1 -0.7 0.1 -0.1 -0.3 0.1 -0.8 -0.1 -0.4 -0.3 -0.2 -0.3 -0.2 -0.3 -0.2 -0.3 -0.2 -0.2 -0.3 -0.2 -0.3 -0.2 -0.4 -0.3 -0.2 -0.4 -0.1 -0.3 -0.3 -0.2 -0.3 -0.2 -0.4 -0.4 -0.1 -0.6 -0.1 -0.1 -0.4 -0.1 -0.4 -0.2 -0.4 0.5 -0.8 0.2 -0.7 -1 0.2 -1 0.3 -0.2 -0.4 -0.1 -0.4 -0.3 -0.3 0.1 -0.5 0 -0.5 -0.5 -0.2 -0.1 -0.4 0.1 -0.6 -0.3 -0.3 -0.8 0.1 -0.4 -0.1 0.5 -0.9 0.2 -0.7 -0.5 -0.1 -0.9 0.2 -0.6 -0.1 0 -0.5 -0.4 -0.1 -0.5 -0.2 -0.3 -0.3 -0.5 -0.1 -0.5 -0.1 -0.2 -0.3 0 -0.6 0 -0.5 0.1 -0.5 -0.3 -0.3 -0.9 0.1 -0.4 -0.2 0.6 -0.9 0.3 -0.8 -0.4 -0.2 -0.8 0.1 0 -0.4 0.3 -0.8 -0.6 0 -0.3 -0.3 0.4 -0.8 -0.5 -0.1 -0.8 0.1 -0.3 -0.2 0.1 -0.6 0 -0.5 -0.6 -0.1 -0.8 0.1 -0.1 -0.4 0.3 -0.7 0.1 -0.5 -0.4 -0.2 -0.7 0 -0.2 -0.4 0 -0.5 0.2 -0.6 -0.4 -0.2 -1 0.2 0.1 -0.6 0.4 -0.7 -0.3 -0.3 -0.8 0 0 -0.4 0.1 -0.6 -0.8 0.1 -0.2 -0.4 -0.4 -0.1 -0.9 0.1 -0.2 -0.3 0.4 -0.8 0.1 -0.5 -0.1 -0.4 -0.3 -0.3 -0.3 -0.2 -0.1 -0.5 -0.1 -0.4 -0.1 -0.4 -0.1 -0.5 -0.7 -0.1 -0.5 -0.1 -0.6 -0.1 -0.3 -0.3 0.1 -0.7 -0.2 -0.4 -0.5 -0.1 -0.6 -0.1 -0.4 -0.3 0.1 -0.7 0 -0.7 -0.2 -0.5 -0.6 0 -0.8 0.5 -0.4 -0.3 0.2 -1 -0.2 -0.6 -0.8 0.4 -0.6 0.2 -0.6 0.1 -0.5 0.1 -0.4 -0.7 -0.5 -1.1 -0.9 -0.1 -0.8 0.8 -0.7 0.1 -1.2 -0.5 -0.7 0.2 -0.2 0.8 -0.2 0.6 -0.5 0.2 -0.4 0.4 0.5 0.9 0.2 0.8 -0.7 0.1 -0.9 0 -0.2 0.5 0.2 0.6 0 0.6 0 0.5 -0.1 0.6 0.2 0.6 0.4 0.6 -0.4 0.4 -0.9 0.2 0 0.5 0.6 0.7 0.1 0.5 -0.1 0.5 -0.2 0.4 0 0.5 -0.1 0.4 -0.1 0.5 -0.1 0.4 -0.1 0.5 -0.1 0.4 -0.1 0.4 0 0.5 -0.1 0.4 -0.1 0.4 -0.1 0.4z" fill="#000"/>
<path d="M988.9 600.5l0 -0.4 0 -0.4 0 -0.4 0 -0.4 0 -0.4 0 -0.4 0 -0.4 0 -0.4 0 -0.4 0 -0.4 0 -0.4 0 -0.4 0 -0.4 0 -0.4 0 -0.4 0 -0.4 0 -0.4 0 -0.4 0 -0.4 0 -0.4 0 -0.4 0 -0.4 0 -0.4 0 -0.4 0 -0.4 0 -0.4 0 -0.4 0 -0.4 0 -0.4 0 -0.4 0 -0.4 0 -0.4 0 -0.4 0 -0.4 0 -0.4 0 -0.4 0 -0.4 0 -0.4 0 -0.4 0 -0.4 0 -0.4 0 -0.4 0 -0.4 0 -0.4 0 -0.4 0 -0.4 0 -0.4 0 -0.4 0 -0.4 0 -0.4 0 -0.4 0 -0.4 0 -0.4 0 -0.4 0 -0.4 0 -0.4 0 -0.4 0 -0.4 0 -0.4 0 -0.4 0 -0.4 0 -0.4 0 -0.4 0 -0.4 0 -0.4 0 -0.4 0 -0.4 0 -0.4 0 -0.4 0 -0.4 0 -0.4 0 -0.4 0 -0.4 0 -0.4 0 -0.4 0 -0.4 0 -0.4 0 -0.4 0 -0.4 0 -0.4 0 -0.4 0 -0.4 0 -0.4 0 -0.4 0 -0.4 0 -0.4 0 -0.4 0 -0.4 0 -0.4 0 -0.4 0 -0.4 0 -0.4 0 -0.4 0 -0.4 0 -0.4 0.1 -0.4 0 -0.4 0 -0.4 0 -0.4 0 -0.4 0 -0.4 0 -0.4 0 -0.4 0 -0.4 0 -0.4 0 -0.4 0 -0.4 0 -0.4 0 -0.4 0 -0.4 0 -0.4 0 -0.4 0 -0.4 0 -0.4 0 -0.4 0 -0.4 0 -0.4 0 -0.4 0 -0.4 0 -0.4 0 -0.4 0 -0.4 0 -0.4 0 -0.4 0 -0.4 0 -0.4 0 -0.4 0 -0.4 0 -0.4 0 -0.4 0 -0.4 0 -0.4 0 -0.4 0 -0.4 0 -0.4 0 -0.4 0 -0.4 0 -0.4 0 -0.4 0 -0.4 0 -0.4 0 -0.4 0 -0.4 0 -0.4 0 -0.4 0 -0.4 0 -0.4 0 -0.4 0 -0.4 0 -0.4 0 -0.4 0 -0.4 0 -0.4 0 -0.4 0 -0.4 0 -0.4 0 -0.4 0 -0.4 0 -0.4 0 -0.4 0 -0.4 0 -0.4 0 -0.4 0 -0.4 0 -0.4 0 -0.4 0 -0.4 0 -0.4 0 -0.4 0 -0.4 0 -0.4 0.1 -0.4 0 -0.4 0 -0.4 0 -0.4 0 -0.4 0 -0.4 0 -0.4 0 -0.4 0 -0.4 0 -0.4 0 -0.4 0 -0.4 0 -0.4 0 -0.4 0 -0.4 0 -0.4 0 -0.4 0 -0.4 0 -0.4 0 -0.4 0 -0.4 0 -0.4 0 -0.4 0 -0.4 0 -0.4 0 -0.4 0 -0.4 0 -0.4 0 -0.4 0 -0.4 0 -0.4 0 -0.4 0 -0.4 0 -0.4 0 -0.4 0 -0.4 0 -0.4 0 -0.4 0 -0.4 0 -0.4 0 -0.4 0 -0.4 0 -0.4 0 -0.4 0 -0.4 0 -0.4 0 -0.4 0.1 -0.4 0 -0.4 0 -0.4 0 -0.4 0 -0.4 0 -0.4 0 -0.4 0 -0.4 0 -0.4 0 -0.4 0 -0.4 0 -0.4 0 -0.4 0 -0.4 0 -0.4 0 -0.4 0 -0.4 0 -0.4 0 -0.4 0 -0.4 0 -0.4 0.1 -0.4 0 -0.4 0 -0.4 0 -0.4 0 -0.4 0 -0.4 0 -0.4 0 -0.4 0 -0.4 0 -0.4 0 -0.4 0 -0.4 0 -0.4 0 -0.4 0 -0.4 0.1 -0.4 0 -0.4 0 -0.4 0 -0.4 0 -0.4 0 -0.4 0 -0.4 0 -0.4 0 -0.4 0 -0.4 0 -0.4 0 -0.4 0 -0.4 0.1 -0.4 0 -0.4 0 -0.4 0 -0.4 0 -0.4 0 -0.4 0 -0.4 0 -0.4 0 -0.4 0 -0.4 0 -0.4 0.1 -0.4 0 -0.4 0 -0.4 0 -0.4 0 -0.4 0 -0.4 0 -0.4 0 -0.4 0 -0.4 0 -0.4 0 -0.4 0.1 -0.4 0 -0.4 0 -0.4 0 -0.4 0 -0.4 0 -0.4 0 -0.4 0 -0.4 0 -0.4 0 -0.4 0 -0.4 0.1 -0.4 0 -0.4 0 -0.4 0 -0.4 0 -0.4 0 -0.4 0 -0.4 0 -0.4 0 -0.4 0.1 -0.4 0 -0.4 0 -0.4 0 -0.4 0 -0.4 0 -0.4 0 -0.4 0 -0.4 0 -0.4 0 -0.4 0.1 -0.4 0 -0.4 0 -0.4 0 -0.4 0 -0.4 0 -0.4 0 -0.4 0 -0.4 0 -0.4 0.1 -0.4 0 -0.4 0 -0.4 0 -0.4 0 -0.4 0 -0.4 0 -0.4 0 -0.4 0 -0.4 0 -0.4 0.1 -0.4 0 -0.4 0 -0.4 0 -0.4 0 -0.4 0 -0.4 0 -0.4 0 -0.4 0 -0.4 0.1 -0.4 0 -0.4 0 -0.4 0 -0.4 0 -0.4 0 -0.4 0 -0.4 0 -0.4 0 -0.4 0.1 -0.4 0 -0.4 0 -0.4 0 -0.4 0 -0.4 0 -0.4 0 -0.4 0 -0.4 0 -0.4 0 -0.4 0.1 -0.4 0 -0.4 0 -0.4 0 -0.4 0 -0.4 0 -0.4 0 -0.4 0 -0.4 0 -0.4 0.1 -0.4 0 -0.4 0 -0.4 0 -0.4 0 -0.4 0 -0.4 0 -0.4 0 -0.4 0 -0.4 0 -0.4 0.1 -0.4 0 -0.4 0 -0.4 0 -0.4 0 -0.4 0 -0.4 0 -0.4 0 -0.4 0 -0.4 0 -0.4 0 -0.4 0.1 -0.4 0 -0.4 0 -0.4 0 -0.4 0 -0.4 0 -0.4 0 -0.4 0 -0.4 0 -0.4 0 -0.4 0.1 -0.4 0 -0.4 0 -0.4 0 -0.4 0 -0.4 0 -0.4 0 -0.4 0 -0.4 0 -0.4 0 -0.4 0 -0.4 0.1 -0.4 0 -0.4 0 -0.4 0 -0.4 0 -0.4 0 -0.4 0 -0.4 0 -0.4 0 -0.3 0 -0.4 0 -0.4 0.1 -0.4 0 -0.4 0 -0.4 0 -0.4 0 -0.4 0 -0.4 0 -0.4 0 -0.4 0 -0.4 0 -0.4 0 -0.4 0.1 -0.4 0 -0.4 0 -0.4 0 -0.4 0 -0.4 0 -0.4 0 -0.4 0 -0.4 0 -0.4 0 -0.4 0 -0.4 0.1 -0.4 0 -0.4 0 -0.4 0 -0.4 0 -0.4 0 -0.4 0 -0.4 0 -0.4 0 -0.4 0 -0.4 0 -0.4 0.1 -0.4 0 -0.4 0 -0.4 0 -0.4 0 -0.4 0 -0.4 0 -0.4 0 -0.4 0 -0.4 0 -0.4 0.1 -0.4 0 -0.4 0 -0.4 0 -0.4 0 -0.4 0 -0.4 0 -0.4 0 -0.4 0 -0.4 0 -0.4 0 -0.4 0.1 -0.4 0 -0.4 0 -0.4 0 -0.4 0 -0.4 0 -0.4 0 -0.4 0 -0.4 0 -0.4 0 -0.4 0.1 -0.4 0 -0.4 0 -0.4 0 -0.4 0 -0.4 0 -0.4 0 -0.4 0 -0.4 0 -0.4 0 -0.4 0.1 -0.4 0 -0.4 0 -0.4 0 -0.4 0 -0.4 0 -0.4 0 -0.4 0 -0.4 0 -0.4 0 -0.4 0.1 -0.4 0 -0.4 0 -0.4 0 -0.4 0 -0.4 0 -0.4 0 -0.4 0 -0.4 0 -0.4 0.1 -0.4 0 -0.4 0 -0.4 0 -0.4 0 -0.4 0 -0.4 0 -0.4 0 -0.4 0 -0.4 0.1 -0.4 0 -0.4 0 -0.4 0 -0.4 0 -0.4 0 -0.4 0 -0.4 0 -0.4 0 -0.4 0.1 -0.4 0 -0.4 0 -0.4 0 -0.4 0 -0.4 0 -0.4 0 -0.4 0 -0.4 0 -0.4 0.1 -0.4 0 -0.4 0 -0.4 0 -0.4 0 -0.4 0 -0.4 0 -0.4 0 -0.4 0.1 -0.4 0 -0.4 0 -0.4 0 -0.4 0 -0.4 0 -0.4 0 -0.4 0 -0.4 0.1 -0.4 0 -0.4 0 -0.4 0 -0.4 0 -0.4 0 -0.4 0 -0.4 0 -0.4 0.1 -0.4 0 -0.4 0 -0.4 0 -0.4 0 -0.4 0 -0.4 0 -0.4 0 -0.4 0.1 -0.4 0 -0.4 0 -0.4 0 -0.4 0 -0.4 0 -0.4 0 -0.4 0.1 -0.4 0 -0.4 0 -0.4 0 -0.4 0 -0.4 0 -0.4 0 -0.4 0.1 -0.4 0 -0.4 0 -0.4 0 -0.4 0 -0.4 0 -0.4 0.1 -0.4 0 -0.4 0 -0.4 0 -0.4 0 -0.4 0 -0.4 0 -0.4 0.1 -0.4 0 -0.4 0 -0.4 0 -0.4 0 -0.4 0 -0.4 0.1 -0.4 0 -0.4 0 -0.4 0 -0.4 0 -0.4 0 -0.4 0.1 -0.4 0 -0.4 0 -0.4 0 -0.4 0 -0.4 0 -0.4 0.1 -0.4 0 -0.4 0 -0.4 0 -0.4 0 -0.4 0 -0.4 0.1 -0.4 0 -0.4 0 -0.4 0 -0.4 0 -0.4 0 -0.4 0.1 -0.4 0 -0.4 0 -0.4 0 -0.4 0 -0.4 0 -0.4 0.1 -0.4 0 -0.4 0 -0.4 0 -0.4 0 -0.4 0.1 -0.4 0 -0.4 0 -0.4 0 -0.4 0 -0.4 0 -0.4 0.1 -0.4 0 -0.4 0 -0.4 0 -0.4 0 -0.4 0 -0.4 0.1 -0.4 0 -0.4 0 -0.4 0 -0.4 0 -0.4 0.1 -0.4 0 -0.4 0 -0.4 0 -0.4 0 -0.4 0 -0.4 0.1 -0.4 0 -0.4 0 -0.4 0 -0.4 0 -0.4 0.1 -0.4 0 -0.4 0 -0.4 0 -0.4 0 -0.4 0 -0.4 0.1 -0.4 0 -0.4 0 -0.4 0 -0.4 0 -0.4 0 -0.4 0.1 -0.4 0 -0.4 0 -0.4 0 -0.4 0 -0.4 0.1 -0.4 0 -0.4 0 -0.4 0 -0.4 0 -0.4 0 -0.4 0.1 -0.4 0 -0.4 0 -0.4 0 -0.4 0 -0.4 0.1 -0.4 0 -0.4 0 -0.4 0 -0.4 0 -0.4 0.1 -0.4 0 -0.3 0 -0.4 0 -0.4 0 -0.4 0.1 -0.4 0 -0.4 0 -0.4 0 -0.4 0 -0.4 0.1 -0.4 0 -0.4 0 -0.4 0 -0.4 0 -0.4 0.1 -0.4 0 -0.4 0 -0.4 0 -0.4 0 -0.4 0.1 -0.4 0 -0.4 0 -0.4 0 -0.4 0.1 -0.4 0 -0.4 0 -0.4 0 -0.4 0.1 -0.4 0 -0.4 0 -0.4 0 -0.4 0 -0.4 0.1 -0.4 0 -0.4 0 -0.4 0 -0.4 0.1 -0.4 0 -0.4 0 -0.4 0 -0.4 0.1 -0.4 0 -0.4 0 -0.4 0.1 -0.4 0 -0.4 0 -0.4 0 -0.4 0.1 -0.4 0 -0.4 0 -0.4 0.1 -0.4 0 -0.4 0 -0.4 0 -0.4 0.1 -0.4 0 -0.4 0 -0.4 0.1 -0.4 0 -0.4 0 -0.4 0.1 -0.4 0 -0.4 0 -0.3 0.1 -0.4 0 -0.4 0 -0.4 0.1 -0.4 0 -0.4 0.1 -0.4 0 -0.4 0 -0.4 0.1 -0.4 0 -0.4 0.1 -0.4 0 -0.4 0.1 -0.4 0 -0.4 0.1 -0.4 0 -0.4 0.1 -0.4 0 -0.4 0.1 -0.4 0 -0.4 0.1 -0.3 0 -0.4 0.1 -0.4 0 -0.4 0.1 -0.4 0 -0.4 0.1 -0.4 0 -0.4 0.1 -0.4 0 -0.4 0.1 -0.4 0.1 -0.4 0 -0.4 0.1 -0.4 0 -0.4 0.1 -0.4 0 -0.4 0.1 -0.4 0 -0.4 0.1 -0.4 0 -0.4 0.1 -0.4 0 -0.4 0.1 -0.4 0 -0.4 0.1 -0.4 0 -0.4 0.1 -0.3 0.1 -0.4 0 -0.4 0.1 -0.4 0 -0.4 0.1 -0.4 0 -0.4 0.1 -0.4 0 -0.4 0.1 -0.4 0.1 -0.4 0 -0.4 0.1 -0.4 0 -0.4 0.1 -0.4 0 -0.4 0.1 -0.4 0.1 -0.4 0 -0.4 0.1 -0.4 0 -0.3 0.1 -0.4 0.1 -0.4 0 -0.4 0.1 -0.4 0 -0.4 0.1 -0.4 0.1 -0.4 0 -0.4 0.1 -0.4 0.1 -0.4 0 -0.4 0.1 -0.4 0.1 -0.4 0 -0.4 0.1 -0.3 0.1 -0.4 0 -0.4 0.1 -0.4 0.1 -0.4 0 -0.4 0.1 -0.4 0.1 -0.4 0.1 -0.4 0 -0.4 0.1 -0.4 0.1 -0.4 0.1 -0.3 0 -0.4 0.1 -0.4 0.1 -0.4 0.1 -0.4 0 -0.4 0.1 -0.4 0.1 -0.4 0.1 -0.4 0.1 -0.3 0.1 -0.4 0 -0.4 0.1 -0.4 0.1 -0.4 0.1 -0.4 0.1 -0.4 0.1 -0.4 0.1 -0.3 0.1 -0.4 0.1 -0.4 0.1 -0.4 0 -0.4 0.1 -0.4 0.1 -0.3 0.1 -0.4 0.1 -0.4 0.2 -0.4 0.1 -0.4 0.1 -0.4 0.1 -0.3 0.1 -0.4 0.1 -0.4 0.1 -0.3 0.1 -0.4 0.2 -0.4 0.1 -0.3 0.2 -0.3 0.1 -0.4 0.1 -0.3 0.2 -0.4 0.3 -0.2 0.3 -0.3 0 -0.4 0 -0.4 0 -0.3 0.3 -0.3 0.2 -0.3 0.1 -0.4 0.3 -0.2 0.5 -0.2 -0.1 -0.4 -0.1 -0.5 0.9 0.1 0.3 -0.2 -0.2 -0.5 0.3 -0.3 0.1 -0.3 0.3 -0.2 0.2 -0.3 0 -0.4 0.4 -0.1 0.4 -0.2 0 -0.4 0 -0.4 0.5 -0.1 0.6 0 0.5 0 0.3 -0.1 -0.2 -0.6 0.1 -0.4 0.7 0.3 0.1 -0.3 -0.2 -0.7 0 -0.4 0.6 0.1 0.2 -0.3 -0.1 -0.7 0.3 -0.2 0.3 -0.3 0.3 -0.2 0.7 0.5 0.3 0 0.2 -0.3 0.4 0.2 0.3 0.3 0 -0.7 0 -0.8 0.2 0 0.1 0.6 0.1 0.5 0.2 -0.7 0.6 -0.9 0.1 0.5 -0.2 1.2 0.3 0 0.8 -0.8 0.3 0.2 0 0.6 0.4 0 0.1 0.4 -0.2 0.8 0.4 0 0.6 -0.1 0.3 0 0.4 0 0 0.4 0.5 0 0.2 0.3 -0.5 0.7 0 0.4 0.4 0.2 -0.3 0.6 -0.8 0.8 0.4 0.3 0.8 0 -0.2 0.6 0.1 0.4 0.9 0 1.1 -0.2 0.4 0.3 0.1 0.5 0.1 0.3 0 0.5 0.5 0.2 0.7 0 0.2 0.3 -0.2 0.6 -0.5 0.8 -0.1 0.5 0.2 0.4 0 0.4 0.5 0.2 0.7 0 0.6 0.1 0.6 0.1 0 0.5 -0.2 0.5 0 0.5 0 0.4 -0.1 0.6 -0.4 0.6 0.4 0.3 0.8 0 0.6 0.1 0 0.5 -0.1 0.5 0.3 0.2 0.3 0.3 0.5 0.2 0.4 0.2 0.2 0.4 -0.3 0.6 0.1 0.4 0.8 0 1 -0.1 0.5 0.2 -0.8 0.9 -0.6 0.8 0.5 0.2 0.3 0.2 0.1 0.4 0.1 0.4 0.1 0.4 0 0.5 0.5 0.2 0 0.4 -0.6 0.8 0.5 0.2 0.6 0.1 0.2 0.4 0.3 0.3 0.7 0 0 0.5 -0.6 0.8 0.2 0.4 0.5 0.2 0.2 0.3 0 0.5 -0.1 0.5 0.5 0.2 0.7 0.1 0.3 0.3 -0.2 0.6 -0.1 0.5 0.7 0.1 0.2 0.3 -0.3 0.7 0.1 0.4 0.5 0.2 0.9 -0.1 0.6 0.1 -0.1 0.5 0.1 0.4 0.3 0.3 -0.1 0.6 -0.1 0.5 0 0.5 0 0.5 0.8 0 0.9 -0.1 -0.4 0.7 -0.3 0.7 0.6 0.1 0.1 0.5 0 0.5 0.5 0.1 0.5 0.1 0.1 0.4 0.5 0.2 -0.1 0.5 -0.2 0.6 0.3 0.3 0 0.4 0 0.5 0.3 0.2 0.4 0.3 0.4 0.1 1 -0.1 0.5 0.1 0.3 0.3 -0.1 0.5 -0.6 0.7 -0.2 0.6 -0.1 0.5 1.1 -0.2 1.4 -0.3 -0.1 0.5 -0.3 0.6 -0.2 0.6 -0.3 0.6 0.3 0.3 0.3 0.3 0.3 0.3 0.6 0.1 -0.1 0.6 -0.3 0.6 0.7 0.1 0.7 0.1 0.3 0.3 0.1 0.5 -0.1 0.5 0.6 0.1 0.4 0.3 0 0.5 0 0.5 -0.2 0.7 0.4 0.3 0.5 0.1 0.2 0.4 0.3 0.3 -0.1 0.6 -0.1 0.6 0.9 -0.2 0.6 0.1 -0.4 0.9 0.2 0.3 0.9 -0.2 0.2 0.4 -0.2 0.7 0.4 0.2 0.6 0 0.5 0.2 0.2 0.3 0.3 0.3 0.7 -0.1 0.7 -0.1 0.3 0.3 0 0.5 0 0.6 0.1 0.5 0.3 0.3 0.1 0.4 0 0.6 0.5 0.1 0.6 -0.1 0.4 0.2 0.2 0.4 0 0.5 0 0.7 -0.1 0.6 0.3 0.3 0.7 -0.2 0.6 0.1 0.3 0.2 0.8 -0.3 0.4 0.2 -0.4 1 0.4 0.1 0.9 -0.3 0 0.5 0.4 0.2 0.3 0.3 -0.2 0.8 0.2 0.3 0.6 0 0.2 0.4 -0.1 0.7 0.4 0.2 0.2 0.3 -0.1 0.7 0.5 0.1 0.3 0.2 0.3 0.4 0.7 -0.2 0.6 0 0.1 0.5 0 0.5 -0.1 0.8 0.8 -0.3 0.9 -0.3 -0.2 0.7 0.4 0.3 0.3 0.3 0.1 0.5 0.4 0.2 0.1 0.5 0.1 0.5 0.6 0 0.6 -0.1 0.3 0.2 0.3 0.2 0.4 0.2 0.3 0.3 0.2 0.5 0.3 0.3 0.7 -0.2 0.3 0.2 0 0.8 0.2 0.5 0.3 0.3 0.6 -0.1 0.6 -0.2 0 0.9 0.2 0.6 0.8 -0.6 0.8 -0.4 0.4 0.1 0.2 0.7 0.1 0.9 0.4 0.2 0.8 -0.7 0.3 0.3 0.2 0.7 0.4 0.1 0.5 -0.1 0.4 0 0.5 -0.1 0.4 0.3 0.4 0 0.5 -0.3 0.3 0.6 0.3 0.2 0.4 0.3 0.1 0.9 0.4 0.2 0.6 -0.5 0.5 -0.6 0.5 -0.3 0.3 0.4 0.4 0.3 0.5 -0.2 0.4 0 0.2 0.6 0.4 0.3 0.5 -0.6 0.5 -0.1 0.3 0.5 0.4 0 0.5 -0.1 0.3 0.3 0.4 0 0.5 -0.2 0.3 0.2 0.4 0.5 0.3 0.2 0.4 0.4 0.2 0.7 0.5 -0.1 0.5 -0.8 0.5 -0.2 0.4 0.3 0.4 0.4 0.3 0.3 0.5 -0.4 0.6 -0.8 0.4 0.1 0.2 1.2 0.1 1 0.5 0.1 0.4 -0.3 0.5 -0.5 0.6 -0.9 0.4 -0.1 0.1 1.5 0.3 1.4 0.6 -0.5 0.4 -1.1 0.4 -0.4 0.5 0 0.3 0.5 0.4 0.5 0.5 -0.3 0.3 0 0.5 0.2 0.4 0.4 0.3 0.4 0.5 -0.3 0.5 -0.4 0.3 -0.4 0.3 0.5 0.3 0.7 0.4 -0.4 0.5 -0.5 0.4 0.1 0.4 0.3 0.5 0 0.5 0.2 0.3 -0.2 0.4 0.1 0.4 0.6 0.3 0 0.5 -0.3 0.3 0.4 0.2 0.3 0.5 0.3 0.4 -0.1 0.5 -0.6 0.5 -0.1 0.2 0.6 0.6 -0.3 0.6 -0.5 0.3 0.7 0.3 -0.3 0.5 -0.7 0.3 0.2 0.4 0.7 0.5 0.6 0.4 -0.4 0.4 -0.6 0.3 -0.1 0.4 0.1 0.4 0.5 0.4 0.4 0.5 -0.3 0.4 -0.2 0.3 0.4 0.4 -0.1 0.2 0 0.5 0.5 0.8 -0.8 0.3 -0.9 0.1 0.3 0.5 -0.1 0.5 -0.1 0.3 0.8 0.4 0.5 0.4 0.1 0.2 -0.1 0.2 0.4 0.6 0 0.3 -0.8 0.4 -0.1 0.8 0.4 0.4 -0.3 0.2 -0.1 0.3 0.2 0.4 -0.3 0.7 -0.2 0.7 0.5 0.4 0 -0.1 0.2 0 1.2 0.9 0.6 0.4 -0.8 0.1 -0.8 0.4 0.4 0.8 0.7 0.5 -0.5 -0.1 0 0.3 1.2 0.4 -0.3 0.7 -0.9 0.6 -0.6 0.3 -0.6 0.5 0.1 0.2 0.8 0.3 0.6 0.7 0.4 0.4 -0.3 0.3 0 0.6 0.1 0.2 -0.5 0.4 0 0.2 0.3 0.1 0.7 0.8 -0.7 0.5 0.2 0.1 1 0.3 -0.2 0.6 -0.3 0.8 -0.6 0.4 -0.8 0.3 0.4 0.6 0.7 0.2 0.3 0.1 0.1 0.6 0.1 0.2 -0.1 0.5 0.5 0.5 0.5 0.5 -0.9 0.2 -0.5 0.5 0.2 0.6 -0.2 0.3 0.5 0.5 0.3 0.4 -0.9 0.3 -1.2 0.5 -0.4 0.6 0.5 0 0.1 0.3 -0.2 0.6 0.6 -0.1 0.7 0.6 0.5 0.9 0.1 0.4 -0.3 0.3 -0.4 0.2 0.1 0.5 0.3 0.2 -0.2 0.3 -0.1 0.6 -0.3 0.3 -0.3 0 0.6 0.4 0.2 0.8 0 0.8 0.7 -0.2 0.8 0.6 -0.7 0.6 -0.8 0.2 0 0.6 0.2 0.5 -0.1 -0.1 0.5 0.4 0.1 1.1 -0.4 0.6 -0.1 0.2 0.1 0 0.2 0.4 0.3 0.6 -1 0.3 -0.7 0.8 1 0.6 0.7 -0.1 -0.3 0.3 -0.2 0.6 0.5 -0.1 -0.6 0 -0.1 1.2 0.3 0.5 -0.8 -0.2 0.4 0.5 0.7 0.7 -0.7 0.4 0.2 0.1 0.9 0.3 0.7 1.6 -0.3 0 -0.8 -0.1 -0.4 0.5 -0.4 0.4 0.1 0.5 0.9 -0.2 0.5 0.3 -0.7 0.6 -0.8 0.6 0.3 0.7 0.6 0 -0.1 0.7 -0.1 0.3 0.6 0.4 0.1 0.4 -1 0.5 -0.6 0.5 -0.3 0.2 -0.1 0.6 0.6 1 0.6 0.3 0 -0.7 0.1 0.1 0.3 1 0.1 0.3 -0.5 0.9 0.3 0.5 -0.2 -0.2 -0.4 0.6 -0.1 0.4 0.2 0.8 0.3 0.1 0.3 0.4 0.1 0.5 -0.4 0.2 -0.6 0.5 -0.4 0.4 0.3 0.2 0.1 0.1 0.1 0 0.7 0.5 0.8 0.9 -0.3 0.9 -0.6 0.2 0.4 0.5 0.6 1 -0.5 0 0 -0.5 0.7 -0.1 -0.2 0.9 -0.9 1 -0.4 0.6 0.5 -0.1 0 0.4 -0.1 0.6 0.4 0.5 -0.1 0.6 -0.3 0.1 0.5 0.6 0.6 0.7 -0.1 -0.3 -0.1 0.4 0.1 0.7 -0.3 0 -0.4 0.7 0.4 1.2 -0.3 0.4 -0.2 -0.8 0.4 0 0.4 1.4 0 0.6 -0.2 0.2 -0.1 0.3 -0.4 0.4 -1 0.2 -0.2 0.4 1.2 1.1 0.7 0.5 -0.8 -0.2 0.2 0.3 0.4 0.4 -0.4 0.2 0.1 0.8 0.6 1.2 0.6 -0.1 -0.8 0.2 -1.2 0.4 -0.5 -0.1 0.1 0.5 0.1 0.3 0 0.7 0.5 0.6 0.8 0.1 0.2 0.6 -0.1 0.2 0.4 0 0 0.8 -0.9 1.1 -0.7 0.3 0.6 -0.2 -0.1 0.5 -1 0.2 -0.1 0.4 0.1 0.3 0.3 0.2 0.7 0.6 -0.1 0.7 -0.2 0.3 0.3 0.2 0.2 0.3 -0.6 0 0.4 1.2 0.8 0.9 -0.6 0 -0.8 0.1 0.1 0.4 1.2 1 0.3 0.5 -0.5 0.5 -0.1 -0.1 0.2 -0.2 -0.4 1.2 -0.6 0.4 0.2 -0.2 1.1 0.9 -0.5 0.6 -1.1 0.4 0.7 0 1 0.8 -0.1 0.4 -0.3 0.2 -0.5 0 -0.3 0.3 -0.1 1 0.1 0.4 0.2 -0.5 0.1 0.4 0.4 1.2 -0.3 0.4 -0.5 0.3 -0.3 0.2 -0.6 0.5 0.1 0.8 0.1 0.4 0 0.1 0.8 0.2 0.8 0.9 -0.2 0 -0.8 0.2 -0.4 0.5 0.2 0.4 0 0.4 -0.1 0.4 0.3 0.4 -0.4 0.2 0.1 0.6 0.4 0.4 0.1 0.8 0 0.4 -0.4 0 0.6 0.5 0.3 0.4 -0.6 0.6 -0.2 0.5 0.1 0 0.2 0.6 0.4 0.4 -0.3 0.2 -0.5 0.6 0.4 0 0.5 0.6 0 0.7 -0.4 0.1 0.3 0.3 0.6 0.6 -0.2 0.2 -0.3 0.3 -0.6 0.9 -0.4 0.7 0.3 0.7 0 -0.1 -0.2 0.1 -0.1 0.7 -0.4 0 -0.2 0.1 0.3 1.1 0.4 0.6 -0.4 -0.2 -0.3 0.4 0.3 0.8 0.5 0.6 -0.1 0.3 -0.2 0.4 -0.1 0.3 -0.4 0.2 0.3 0.2 0.9 -0.5 0.3 1 -0.4 0.7 -0.6 0.6 0.1 0.7 -0.6 -0.2 -0.5 -0.1 0.3 0.9 0.6 0.8 -0.5 0.2 -0.7 0.1 0.6 0.7 0.8 0.3 -0.1 0.5 0 0.4 -0.5 0.2 -0.4 0.5 0.1 0.4 0.6 0.4 0.8 -0.1 -0.1 0.7 -0.8 0.7 -0.5 0.3 0.8 0.7 0.3 0.4 -0.5 0.4 0.1 0.3 0.3 0.3 0.2 0.5 -0.2 0.2 -0.3 0.4 0.4 0 0.7 0.5 0.4 0.8 -0.2 0.3 -0.3 0.5 0 0.3 0.2 0.4 -0.6 0.3 -0.1 0.7 -0.2 0.1 0.1 0.3 0.4 0.8 -1 0.4 -0.7 0.3 0.6 0.3 0.8 0.6 0.9 0.4 0.3 -0.1 -0.7 0.5 -0.6 0.6 -0.2 0.7 0.1 0.2 0.5 0.1 -0.5 0.5 -1 0.4 0.8 0.3 0.4 0.6 -0.4 0.5 -0.1 0.3 0.4 0.4 -0.1 0.2 -0.1 0.5 0.5 0.8 -0.5 0.4 -1 0.4 0.6 0.3 1.6 0.9 0.5 0.3 -0.7 0.1 -0.7 0.5 -0.7 0.3 -0.8 0 0.5 -0.1 0.5 0.6 -0.3 0.4 0.8 0 1.3 1.5 -0.5 0.7 -1.3 -0.3 0.3 0.1 0.4 0.5 -0.3 0.5 0.4 0.6 0.3 0.1 -0.4 0.2 0.2 0.6 0.5 0.5 0 0.5 0.2 1.2 0.3 0.8 0.2 -0.5 0.3 0.3 -0.1 0.1 -0.7 0.4 -0.7 0.7 0 1.1 0.3 -0.1 -0.6 0.1 -0.3 0.7 0.2 0.5 0.1 0.1 -0.4 0.2 -0.2 0.5 0.6 0.4 0.9 0.2 -0.4 0.5 -0.7 0.5 0.2 0.5 0.8 1.2 -0.2 0.2 -0.6 0 -0.5 0.1 0.2 0.3 0.3 0.5 0.5 1.1 0.5 0.1 -0.8 -0.1 -0.6 0.4 0 0.7 -0.4 0.4 -0.2 0.4 0.2 0.5 0.3 0.5 -0.3 0.2 -0.6 0.1 0.2 0.5 -0.1 0.4 -0.2 0.3 1.2 0.7 0.3 0.5 -1.2 0.3 0.7 0.3 1.5 0.8 0.3 0.6 0.2 0.4 0 -0.2 -0.3 0.4 0.2 1.1 -0.4 -0.1 -1.2 -0.2 0 0 1.4 1.2 0.3 0.2 -1.2 0.3 -0.8 0.7 -0.1 0.1 0.6 -0.2 0 0.9 0 0.8 0.3 0.7 0.5 1.1 -0.2 -0.6 -0.4 -0.4 0 0.4 0.9 1.3 0.3 0.7 -0.6 0 -0.2 0.3 -0.3 0.7 0.3 0.1 0.1 0.1 0.3 1.3 0.6 0.8 -0.6 0.3 -1.2 0.3 -0.4 0.1 0.4 -0.4 -0.1 0.7 0.1 1 -0.4 0.1 -0.2 0.3 0.6 0.2 -0.1 0.3 -0.1 0.6 0.1 0.2 -0.1 0.5 -0.8 0.5 -0.4 0.2 1.2 -0.2 1 0.7 -0.1 1.1 -0.3 -0.1 -0.2 0.6 -0.3 0.9 0.3 0.8 1.1 -0.6 -0.4 0.6 -0.4 0.4 0.5 -0.5 0.1 0.9 -0.9 0.4 -0.3 0.7 0 0.7 -0.1 0.4 0.4 0.4 0 0.4 -0.1 0.8 0.5 -0.5 0.6 0 -1.1 0.7 -0.8 0.5 0.9 1.1 0.1 0.1 -0.3 -0.3 0.5 0.3 0.4 1.3 0.4 1.2 0.1 -0.1 0 -0.1 -0.6 0.5 -0.8 0.3 0 0.5 0.3 0 -0.2 0.2 0.3 1.4 0.3 -0.2 -0.1 0.2 -0.4 1 -0.7 0.3 0 0 1 0.8 0.7 0.1 -0.6 -0.1 -0.8 0.5 0.3 0.7 0.8 0.7 0.3 0.7 -0.4 0.1 -0.8 -0.2 -0.4 0.6 0.4 1.1 0.1 0.4 0.4 0.3 1.1 0.9 0.1 0.5 -1.3 0 -1 0.3 0 0.2 1 -0.1 0.6 0.6 -0.4 0.4 -0.6 0.9 -0.3 0.9 -0.3 -0.1 0.3 -0.5 0.6 0.5 0.1 0.4 -0.8 0.4 0 0.2 0.1 0.7 -0.4 0.6 0.2 0.3 0.3 0.3 -0.3 0.4 -0.2 0.4 0.3 0.5 0.5 0.4 0.2 0.3 -0.1 0.6 -0.4 0.6 0.1 0.4 0.6 0.3 0.4 0.3 0.4 0.9 0.7 1.4 0.2 0 -0.8 -0.1 -0.7 0.4 0.7 0.2 0.1 0.1 -0.9 0.3 -0.1 0.7 -0.1 0.4 -0.5 0.1 -0.3 0.2 -0.5 0.7 0.2 0.2 1.1 0.2 1 1.4 -0.4 0 -1.2 0.2 -0.5 0.3 0 0.2 0 0.7 -0.6 0.4 0.3 0.4 1.3 0.2 -0.1 0.7 -0.7 0.3 0.3 0.4 0.5 0.4 -0.3 0.3 0.2 0.9 0.2 0.4 0.1 -0.2 -0.4 0 -0.6 0.7 0.3 0.9 0.4 0.3 -0.1 0 -0.8 0.6 -0.2 0.5 0.4 0.3 0.4 0.3 0.1 0.2 0.1 0.8 -0.2 0.5 -0.4 0.2 -0.2 0.3 0.4 0.3 0.4 0.3 -0.1 0.2 0 1 0.5 0.5 -0.3 0.1 -0.1 0.8 0.3 0.2 0.1 0.5 -0.3 0.8 -0.8 0.3 0.4 -0.5 1.4 0.3 0.1 1.3 -0.9 0 0.1 -0.2 0.5 1 -0.3 1 -0.3 0.4 -0.4 0.1 0 -0.1 0.7 0.2 -0.1 0.6 -0.2 0.6 0 0.5 0.4 0.4 -0.1 0.2 -0.9 0.4 0.5 0.5 1.1 0.7 -0.5 0.3 -0.7 0 0.8 0.4 0.3 0.8 -0.5 0.2 -0.5 0.3 0.4 0.9 0.2 0.5 0 -0.2 -0.1 0 -0.4 0.8 0.1 0.8 0.5 0.4 0.1 0.2 -0.7 0.4 0.5 0.8 0.6 0 -0.3 0.3 0.2 0.5 0 0.2 -1 0.7 -0.6 0.6 0 0.6 0.5 -0.1 0.4 0.1 0.2 0.7 -0.8 0.5 -1.2 0.7 0.5 0.1 1 -0.2 -0.7 0.8 -0.2 0.5 0.7 0.4 0.9 0.4 -0.6 0 -1.4 0.6 -0.1 0.6 0.6 0.1 0.6 0.3 0.1 1.1 -0.1 0.4 0.6 0.3 0.8 0.2 -0.1 0.1 0 1.4 -0.7 0.3 -0.8 0.2 0.5 0 0.5 0 -0.8 0.6 -0.4 0.9 0.6 0.3 -0.3 0 0 0.6 0.5 0.5 -0.6 0.3 -0.8 0.2 0.6 0.2 1.1 0.8 0.5 0.3 -0.4 0.4 -0.8 0.6 -0.9 0.6 -0.3 0.2 0.7 0.1 0.5 0.6 -0.2 -0.1 0.6 0.2 0.7 0.5 -0.2 0.4 -0.4 0.7 -0.2 1 0.3 0.2 0.4 0 -0.8 0.6 -0.8 0.3 0.2 0.4 0.7 0.3 0.7 0.5 0 0.8 -0.2 0 -0.6 0.3 -0.6 0.5 0.1 0.1 0.9 1.2 0 0.3 -0.5 0.1 -0.1 0.3 0 0.5 0.3 0.9 0.3 -0.1 0.4 0.3 0 0.7 -0.4 -0.1 -0.4 0.5 0.1 1 0.1 -0.1 -0.2 0.5 -0.3 0.8 -0.1 0.4 0.4 -0.1 -0.4 0.5 -0.6 0.5 0.4 0.7 0.5 0 0.1 -0.3 0 0.6 0.5 0.7 0.4 0.1 -0.2 0.9 -0.1 0.5 0.1 0.2 -0.2 0.5 0.1 0.5 0.5 0.4 -0.3 0.3 -0.4 0.2 -0.2 0.3 -0.1 0.7 -0.5 0.6 -0.2 0.3 0.6 0.5 0.5 0.5 0.2 0.2 0.5 0.9 0.1 0.1 -0.1 -0.1 0.3 1.2 0.5 0.9 -0.6 -0.7 -0.6 0.3 0.1 0.5 -0.1 0.2 0 0.4 0.1 0.2 -0.5 0.7 -0.5 0.4 0.6 0 0.7 0.7 -0.3 0.7 -0.4 0.4 0.6 0.1 0.4 0.5 -0.4 0.7 -0.1 -0.1 0.5 0.8 -0.2 0.8 -0.8 0.4 0.3 0 0.2 0.6 -0.7 0.4 -0.2 0.1 0.7 0.3 0 0.5 -0.5 0.2 0.2 0 1.2 0.8 1.2 1.1 -1 0.2 -1.7 0.4 0 0.4 0.4 0.1 0.3 0.5 0.2 0.3 -0.4 0.4 0.1 0.9 0 0.4 0 -0.2 0.2 0.4 0 0.8 0.2 0.7 0.4 0.4 -0.3 0.2 -0.6 0.2 -0.1 0.1 0.6 0.5 0.6 1 0.1 0.6 -0.4 0 -0.9 0 -0.5 0.6 -0.2 0.8 0 0.2 0.8 0.3 0.4 0.7 0.1 -0.4 -0.3 0.2 -0.7 0.6 -0.2 0.4 0.1 0.6 -0.4 0.4 0.3 0.1 0.7 0.5 0.5 0.3 -0.3 0.7 -0.4 0.8 -0.6 0.3 0.3 0.8 0.5 0.9 0 0.1 0 -0.8 0.6 0.4 0.1 1 -0.6 0.5 -0.2 0.3 0.1 0.4 0 0 -0.5 0.6 -0.5 0.8 -0.2 0.1 0.3 0.3 0 0.5 -0.3 0.3 -0.3 0.3 0.1 0.2 0.5 0.6 0.6 0.6 0 0 -0.1 0.5 -0.4 0.9 0 0.6 0.6 -0.2 0.5 0.6 -0.4 0.5 -1.1 0.1 0 0 1 0.5 0.2 1.1 -0.6 0.3 -0.8 -0.1 -0.1 0.1 0.9 1.1 0.6 0.8 0.1 0.2 0 0.5 -1.3 0 -0.5 0.1 0.7 0.8 0.1 0.4 -0.7 0.2 -0.6 0.3 0.3 0.8 1.3 0.7 0.4 0.5 -0.4 0.4 -0.4 0.1 -0.5 0.2 -0.3 0.1 0.3 0.5 0.1 0.4 0.4 0 0.2 0.6 0 0.7 0.2 0.4 0.1 0.5 -0.6 0.1 -0.1 0.2 0.3 0.7 0.2 0.1 -0.1 0.4 0 1 0 0.1 0 0.3 0.3 0.5 0 0.2 -0.7 0.7 -0.3 0.6 0.3 0.2 0.2 0.3 0.1 0.3 0.6 0.6 0.5 0.2 -0.9 0.2 -0.3 1.2 -0.1 0.3 -0.3 0.2 1.3 0.9 0.2 0.2 -1.3 0 -0.5 0.2 0.9 0.7 0.2 0.9 -0.3 0.2 -0.7 0 -0.1 0.4 0.1 0.3 0.4 0.6 0.2 0 0.2 0.1 0.4 0.6 -0.1 1.1 -0.2 0.2 0.1 -0.4 0.2 0.8 -0.4 0.6 -0.3 0.5 0.2 0.9 0.3 0.3 0.1 -0.4 0.2 0.8 0.1 0.7 -0.1 -0.4 0 0.4 -0.2 1.2 -0.3 0.5 -0.2 0.3 0.2 0.3 -0.1 0 -0.1 0.2 0.3 0.2 0 0.8 -0.7 0.8 -0.8 0.3 0.2 0 0.8 0.5 0.3 0.8 -0.2 0.6 -0.8 0.2 0.1 0.5 0.8 0.7 -0.5 0.2 0 0.2 0.7 -0.3 0.1 0 -0.2 0.8 0 1 0.1 0.3 -0.3 0 -0.2 0.8 0.5 0.8 -0.5 0.4 -0.1 0.6 0.8 0.1 0.2 0.1 -0.2 0.2 -0.1 0.6 -1.1 0.7 0 0.7 0.8 0 -0.3 0.1 -0.2 0.6 0.7 0.3 0.1 -0.4 0.1 1.2 0 0.5 -0.8 0 -0.2 0.3 0.7 0.9 0.4 0.9 -1 0.1 -0.9 -0.1 0 0.6 0.8 1 0.6 0.2 -0.1 0.4 -0.6 0.2 -0.2 0 -0.4 0.4 -0.2 0.3 0.5 0.1 0.7 0.5 0.2 0.9 -0.4 0.5 -0.5 -0.1 0.4 0.6 0.1 0.7 0.4 0.6 0.5 -0.1 -0.1 1 -0.1 0.7 0.5 -0.2 0.1 -0.2 -1.1 0.2 -0.1 0.9 0.5 0.5 0.3 0.3 -0.1 0.1 0.1 0.9 0.7 0.7 -0.3 -0.1 -0.6 0.5 -0.5 0.5 -0.4 0.5 -0.4 0.5 0.2 0.5 1.4 0.2 0.6 0.5 0.1 0.3 0 0.7 -0.4 -0.1 -0.6 0 -0.1 1.2 -0.1 0.2 -0.7 0.1 -0.8 0.5 0.1 0.4 0.5 -0.1 0.9 0.7 0.4 0.9 0.2 0.5 0 0.1 -0.5 0.3 -0.4 0.4 0.5 0.7 0.3 0.7 -0.7 0.4 0 -0.3 0.8 0.6 -0.4 0.2 -0.9 0.4 0.3 0.4 0.6 -0.1 0.2 1.1 -7 -0.7 -0.7 -0.3 -0.3 -0.4 -0.1 -0.6 0.3 -0.3 0.8 -0.7 0.7 -0.4 0.2 -0.3 -0.8 -0.3 -1.1 -0.3 -0.4 -0.5 -0.4 -0.8 0.3 -0.2 1.1 0.1 -0.2 0.1 -1.1 -1.1 -0.5 -0.4 0.7 0 0.1 -1.2 -0.4 -0.5 0.1 0.5 0.4 -0.9 0.9 -0.6 0.8 -0.3 -0.7 -0.5 -0.9 -0.3 -0.1 -0.6 0.2 -0.5 0.3 -0.2 0.6 -0.2 0.3 -0.3 -0.4 -0.4 -0.7 -0.8 -0.2 -0.1 0.9 -0.2 0.6 -0.6 0.3 -0.4 0.2 -0.3 -0.5 -0.1 -0.1 -0.4 -0.8 -1 -1.2 -0.8 0.3 -0.1 1 0 0.2 -0.7 -0.1 -0.4 -0.3 -0.1 0.4 -0.2 0 -0.8 -0.2 -0.4 0.7 0.1 -0.5 -0.3 -0.3 -0.6 0.4 -0.4 -0.5 -0.5 -0.8 -0.9 0.1 -0.6 0.3 -0.3 0.1 -0.6 0 0.2 0.2 -0.1 0 -1.1 0.8 -0.3 0.5 -0.2 -0.8 0.1 -0.7 -0.5 0.1 -0.9 -0.6 -0.2 -0.2 0.3 0.5 -1.1 0 -0.5 0.4 -0.2 0 -0.8 -0.3 -0.7 0.3 -0.3 -0.1 0 -0.8 -0.1 -0.3 -0.6 -0.1 -0.8 0.3 -0.7 0.6 -0.3 0.4 -0.3 0.4 0.1 0.5 -0.1 0.2 -0.7 0 -0.6 -0.7 0.3 -0.4 -0.2 0.4 -0.8 -0.1 -0.9 0 -0.8 -0.4 -0.7 -0.1 0.2 1.2 -0.4 0.2 -0.8 -0.3 0 0.1 0.1 -0.3 -0.2 -0.5 -1 0.4 -0.7 0.4 0.4 -0.5 -0.1 0.3 -0.8 0.6 -0.5 -0.4 -0.8 -0.8 -0.5 -0.3 -0.5 0.1 -0.3 0.6 0.4 0.3 -0.4 -0.4 -1.1 0 -0.1 0.8 -0.1 -0.6 -1.2 -0.9 -0.6 -0.3 0.2 0 -0.2 0.6 -0.2 0.3 -0.2 0.3 -1 -0.3 -0.7 -0.3 0.4 0 -0.2 -0.1 -0.8 0 -0.7 0.5 -0.2 -0.1 -0.6 -0.5 -0.2 -0.3 -1.3 0 -0.3 0.7 0.2 0.3 -0.2 0.7 -0.5 0.1 -1 -0.6 -0.5 -1.3 0.1 -0.6 -0.8 0.9 -0.3 1.8 0.4 0.3 -0.6 -0.3 -0.5 0.3 -0.3 -0.4 -0.5 -0.5 -0.5 0.2 -0.6 -0.2 -0.1 -0.5 -0.1 0.1 -0.6 -0.5 -0.2 -0.2 -0.7 0.8 -0.6 1 0.1 0 -0.4 -0.7 -0.6 -0.6 -0.1 0 -0.6 0 -0.8 0.7 -0.2 0.9 -0.4 -0.2 -0.2 -0.7 -0.1 -0.6 -0.9 0.2 -0.3 0.3 -0.3 -0.6 -0.8 -0.1 -0.6 0.4 -0.7 -0.5 -0.5 -0.5 -0.1 0.7 -0.1 1.1 0.2 -0.6 -0.4 -1.3 -1.2 -0.8 -0.3 0.1 0.4 0.8 -0.9 0.8 -0.9 0.5 -0.1 -0.1 -0.6 0.1 -0.1 0.1 0.2 0.2 -0.6 0 -0.9 0.3 -0.4 0.2 0 -0.8 -0.3 0.4 -0.6 0.1 -0.9 -1.1 -0.1 0 -0.3 0.4 -0.8 0.1 -0.3 0.4 0.1 -0.1 -0.4 -0.5 -0.7 0.2 -0.2 0 -0.2 -0.2 -0.5 -0.4 -0.7 -0.2 -0.5 0.5 -0.2 0.1 -0.5 0.2 -0.8 0.3 0.1 -0.8 -0.3 0.2 -0.7 0.7 -0.4 -0.6 -0.6 -0.6 -0.3 0.2 0.1 1 -0.5 0.6 -0.9 0.3 -0.5 0.2 -0.4 -0.6 -0.2 -0.8 -0.6 -0.2 0.2 0.5 -0.2 0.2 -0.4 -0.4 -0.3 -0.1 -0.7 0 -0.4 -0.3 -0.2 0.3 -0.3 -0.2 -0.1 -0.6 -0.8 -0.2 -1.2 0.1 -0.1 0.5 -0.5 0.4 -0.9 -0.4 0.2 -0.1 -0.1 0.6 -0.7 0.9 -0.6 0.3 -0.3 -0.3 -0.1 -0.4 -0.3 0.2 -0.6 -0.3 -0.8 -1.3 -0.7 -0.5 -0.1 0.9 -0.1 0.9 0 0 -0.4 -0.9 -1.2 0.4 -0.1 1.7 0 0.1 -0.4 -1.7 -0.5 -0.2 -0.3 0.5 -0.8 0.5 -0.3 0.6 -0.6 -0.9 -0.5 -1 0.3 1.1 -0.2 0.6 -0.5 -0.4 -0.7 0.5 -0.3 0 -0.4 -0.3 -0.8 0.3 -0.4 -0.8 -0.1 -0.6 -0.9 0.3 -0.6 -0.3 0.3 0 -0.1 0.9 -0.8 1 -0.3 0.3 -0.2 -0.6 -0.7 -0.5 -0.4 -0.4 0 -0.2 0 -0.6 -0.8 -0.2 -0.2 0.3 -0.1 -0.5 -0.9 -0.2 -0.4 0.6 -0.6 0.3 -0.3 -0.3 -0.5 -0.4 -1.4 0.6 0.1 0.3 0.3 -0.4 -0.9 -0.1 -0.6 0.7 0 0.5 -0.6 -0.2 -0.4 0.2 -0.3 -0.1 -0.7 -0.2 0.1 0.1 0.1 -0.1 -0.6 -0.3 -0.7 -0.2 -0.6 -0.2 -0.4 0.2 -0.2 0.1 -0.3 -0.2 -0.7 0.2 -0.2 0.5 -0.1 0.1 -0.6 0.2 -0.1 -0.3 0.1 -1 -1.3 -0.7 -1 0 0 0.1 0 0.2 -0.4 0.2 -1.1 0 -0.6 -0.3 0.3 -0.2 -0.3 0.9 -0.8 0.8 0.1 -0.6 -0.2 -0.7 -1.1 0.1 -0.1 0.1 -0.5 0.5 -0.8 -0.2 0 -0.4 -0.1 0.2 -0.6 -0.2 -0.9 -0.7 -0.6 -0.4 0.8 0.5 -0.7 0.5 -0.3 0.1 -0.6 0 -0.8 0.2 0 0.1 -0.4 -0.2 -0.4 -0.2 -0.4 0.2 -0.4 0.4 -0.4 0 -0.7 -1 -0.8 -0.7 0.4 0.3 -0.2 1 -0.6 0.6 -0.4 0.2 -0.4 -0.6 -0.7 -0.6 -0.2 0.1 -0.7 0.1 -0.8 0.4 0 0.4 -0.2 -0.2 -0.5 -0.8 -0.4 0.1 -0.2 0.3 -0.4 -0.6 -0.7 0 -0.5 0.8 -0.2 -0.2 -0.2 -0.6 -0.8 0.3 -0.4 0.3 0 -0.2 -0.2 0.1 -0.8 0.4 -0.7 0.1 -0.7 -0.5 -0.6 -0.8 0.7 -0.2 -0.7 0.4 -0.6 0.4 -0.4 0.5 -0.4 0.3 0.1 -0.2 -0.4 -0.3 -0.8 -0.4 0.1 -0.4 -0.2 0.6 -1 -0.1 -0.4 -0.3 -0.5 -0.1 -0.2 0.1 0 0.1 -1.1 0.2 -0.7 0 -0.1 0.2 -0.3 0.1 -0.1 0.3 -0.6 0.5 -0.8 -0.2 -0.6 -1.3 0.1 0.2 -0.1 0.7 -0.6 -0.4 -0.4 -0.1 -0.4 0.3 -0.7 0.1 -0.1 0.2 -0.4 0.5 -0.5 0.2 -0.5 -0.6 -0.1 -0.6 0.2 -0.4 -0.9 -0.7 -1.1 0.3 -0.2 0.8 0.1 0.4 -0.6 -0.1 -0.5 0.1 -0.2 0.1 -0.4 0.7 -0.6 0.2 -0.5 -0.9 -0.1 -1 -0.3 0.3 -0.4 0.4 -0.6 -0.5 -0.4 -0.7 -0.4 -0.5 0 0.1 -0.3 0.8 -0.7 0.2 -0.9 -0.6 -1 0 0.1 1.2 0 0.5 0 0 -0.7 -0.5 -0.8 -0.6 0.4 -0.5 -0.5 0 -1.4 0.6 -0.7 0.1 0.4 0.2 -0.3 0.2 -0.6 -0.5 0.1 -0.1 -0.9 0.4 -0.2 0.1 0.1 0.4 -0.7 0.8 -0.4 -0.5 -0.5 -0.5 -0.4 0 -0.7 -0.8 -0.2 -0.2 0 0.5 -0.7 0.1 -0.4 -0.2 -0.5 -0.1 -0.3 0.2 -0.2 -0.4 -0.9 -0.1 -0.4 0.5 0 0.4 -0.1 -0.1 -0.8 -0.6 -0.8 0.1 -0.4 0.6 -0.1 0.2 -0.5 -0.4 -0.3 0.3 -0.4 0.7 -0.5 0.1 -0.2 -0.4 -0.5 0.1 -0.5 -0.5 -0.3 -0.6 0 0.1 -0.7 0 -0.6 0.6 -0.5 -0.2 -0.8 -1.3 0.6 -0.9 -0.6 -0.2 -0.8 0.5 0.3 0.5 -0.8 0.8 -0.7 0.6 -0.4 -0.7 -0.2 -0.3 -0.4 0.9 -0.6 0.4 -0.5 -0.4 -0.5 -0.2 -0.7 -0.3 -0.8 -0.4 0.4 0.2 -0.1 0.7 -0.4 0.3 -0.5 -0.1 -0.5 0.1 -0.1 0.3 -0.2 -0.2 -0.5 -0.4 -0.5 0.2 -0.3 0.2 -0.2 -0.2 -0.3 -1 -0.6 -0.1 -0.7 0.9 -0.1 0.1 -0.1 -0.5 -0.6 -0.2 -0.4 -0.4 -0.4 -0.3 -0.3 -0.1 -1.3 0.4 -1 0.6 0 -0.5 0.3 -0.7 -0.5 0.1 -0.2 0.7 -0.8 0.4 -0.7 0.1 -0.5 0.1 -0.7 -0.1 -0.2 -0.4 0 -0.1 -0.6 0 -0.6 0 0.7 0.4 -0.2 0.6 -1.2 -0.1 -0.6 -0.3 -0.1 0.2 -0.2 0.6 0 -0.5 -0.1 -0.5 -1.1 0.1 -0.6 0.6 -0.2 0.3 -0.7 0 -0.6 -0.3 0.2 -0.3 -0.6 -0.6 -0.9 0.3 0.4 1 -0.5 0 -0.8 -0.8 -0.2 -1 -0.5 0.6 -0.3 0.9 -0.7 -0.2 -0.8 -0.1 0.1 -0.3 0.3 0.2 -0.5 0.3 -0.9 -0.6 -0.8 0 0.3 0.5 -0.1 -0.1 -0.5 0.5 -0.7 0.6 -0.8 -0.2 -0.3 -0.6 -0.4 0.2 -0.3 0.9 -0.4 -0.1 -0.3 -0.8 0 -0.3 -0.4 -0.6 -0.1 -0.2 -1.1 0.7 -0.4 0.8 -0.4 -0.1 -0.7 -0.2 -0.4 -0.4 0 0.3 -0.4 0.3 -0.7 -0.3 0.1 -0.6 -0.3 0.4 -0.8 0.7 -0.4 -0.4 -0.2 -0.9 -0.5 0.1 -0.6 0.4 -0.2 -0.4 -0.4 -0.6 -0.7 -0.4 -0.5 0.1 -0.6 1.1 0.2 0.2 -0.1 -1 -1.3 -0.2 -0.8 0.5 -0.4 0.3 -0.3 -0.2 0 0.5 0.1 1.1 -0.5 -0.1 -0.6 -0.6 -0.2 0.3 -0.4 0.4 -0.6 -0.2 -0.3 0.1 0 0 0 -1.2 -1.2 -1.1 -1.5 0.4 0.5 0.4 -0.1 0.4 0 0.2 0 0 -0.9 -0.2 -0.8 -0.1 0.1 -0.2 -0.6 -0.5 -0.6 -0.4 0.3 -0.3 -0.6 -0.1 -1.2 0.3 -0.6 0.9 0.1 0.5 -0.4 -0.8 -0.9 -0.3 -0.4 0.2 -0.3 0 0 0.4 -0.5 -0.2 -0.9 -0.7 0 0.4 0 1.2 -0.5 0.3 -0.4 -0.5 -0.2 -0.2 -1.1 -0.1 -0.5 0 -0.2 -0.2 -0.4 0.5 -0.3 0.3 -0.5 -0.7 0.1 0 -0.4 0.5 -0.9 0.1 -0.5 0.4 0 0 -0.2 -0.7 -0.5 0 -0.7 0.6 -0.9 -0.3 -0.6 -0.6 0.5 -0.1 -0.3 0.1 -0.3 0.8 -0.4 0.3 -0.6 -0.4 -0.3 -0.5 -0.2 0.3 -0.7 0.4 -0.7 0.1 -0.4 -0.6 0 -0.2 -0.7 0.1 -1 -0.1 0.3 -0.7 0.1 0.8 -0.6 0.6 -0.6 0.1 -0.5 0 -0.9 0.1 -0.3 -0.3 0.3 -0.7 -0.3 0.1 -0.2 -0.1 -0.1 0.1 -0.9 0.7 -0.7 0.4 -0.1 -0.7 -0.1 -0.9 -0.4 0.3 -0.8 0 -1.4 0 0.2 0 0.4 0.1 -0.4 -0.2 -0.1 -0.1 -0.5 0.2 -1 -0.2 -1.2 0 -0.3 0.2 -0.1 -0.2 -0.7 -0.5 -0.5 0 0.1 0.4 -0.6 0.7 -0.5 0.4 -0.2 -0.3 0 0 -0.4 0.8 -0.5 -0.1 -0.4 -1.1 -0.5 0.2 -0.4 1.2 -0.2 -0.6 -0.3 -0.9 -0.4 0.1 -0.4 0.2 -0.7 -0.4 -0.7 -0.3 0 -0.2 -0.2 0.3 -0.4 0.4 -0.8 0.2 -0.4 -0.5 -0.2 -0.3 -0.6 0.4 -0.5 0.5 -0.3 0.5 -0.1 -0.3 -0.4 -0.3 -0.7 0.4 -0.2 -0.1 -0.4 -0.7 -0.5 0.2 -0.4 -0.2 -0.4 -0.6 -0.5 0.6 -0.2 1 -0.3 0 -0.6 0 -0.4 -0.7 -0.5 -1.3 -0.3 -0.6 -0.6 0.4 -0.4 0.8 -0.5 0.8 -0.3 -0.1 -0.2 -0.7 -0.5 -0.4 0.1 0.1 -0.2 0.1 -1 0.5 -0.4 0.3 -0.3 -0.1 -0.1 -0.2 -0.8 -0.3 -0.4 0.1 -0.4 -0.4 -0.4 0.1 -0.1 0.3 -0.9 -0.6 -0.7 -0.2 0.4 0.4 0.3 0.1 -1 -0.2 -1.2 1.2 -0.1 0.4 -0.3 -1.1 0 -0.9 0.2 -0.3 -1.4 0.1 -0.6 1 -0.5 0.2 -0.5 -0.5 -0.4 0.2 -0.4 0.6 -0.3 -0.2 -0.1 -0.4 -0.3 0.6 -1 0.2 -0.2 -0.6 0.4 0 -0.8 0.2 -0.9 0.1 0 -0.2 -0.8 -0.5 -0.9 0.5 0 0.8 -0.1 0.4 0.1 -0.6 -0.5 -0.9 -0.6 0.5 -0.3 0.5 -0.5 0 -0.6 -0.1 -0.2 0.1 -0.2 -0.3 -0.8 -0.9 0 -0.4 -0.8 0.5 -0.3 0.5 -0.2 0.3 -0.9 -0.2 -0.3 -0.3 -0.2 0.7 -0.3 0.9 -0.4 0 -0.7 -0.1 -0.3 0 -0.2 -0.3 -0.3 0 -0.1 -0.6 -0.7 -1.2 -0.4 0.5 -0.4 1.2 -0.4 -0.3 -0.4 -0.9 -0.2 0.5 -0.7 -0.3 -0.8 -0.3 0 0.4 -0.5 0.4 -0.8 0.1 -0.4 0 0 0.7 -0.3 0.8 -0.5 -0.4 -0.5 -0.7 -0.5 -0.7 0.5 -0.2 -0.6 0.6 -1.1 0.4 -0.4 -0.3 0.2 -0.3 -0.6 0.2 -0.7 0 -0.5 -0.3 -0.4 0.1 -0.2 -0.3 -0.8 -0.5 -0.6 0.4 0.1 1 0 -0.1 -1.1 -0.9 -0.3 0.9 0.4 0.2 -1 -1 -1 -0.4 -0.3 -0.1 -0.2 0.3 0.3 0.3 -0.2 -0.5 -1 -0.2 -0.9 1 0.2 1 0.3 0.3 -0.6 -0.6 -0.6 -0.2 -0.6 -0.1 -0.4 0.1 -0.1 -0.3 -0.2 -0.1 -0.5 0.4 -0.7 0.9 -0.3 -0.8 -0.7 -1.5 -0.3 -0.2 -1 0.7 -0.6 0.5 0.5 0 -0.2 0.3 -0.6 -0.2 -0.6 -0.4 -0.2 -0.1 -0.7 0.3 -0.2 0.8 -0.1 -0.3 -0.5 -0.3 -0.4 0.4 -0.8 -0.5 -0.5 -0.5 -0.5 -0.1 -0.6 0.3 0.1 0.1 -0.1 0.3 -0.5 0.6 -0.5 0.4 -0.4 -0.1 -0.8 0.1 -0.2 0.2 -0.1 -0.3 -0.3 -0.9 -0.7 -0.2 -0.4 -0.3 -0.5 -0.4 -0.7 -0.4 0 0.1 0.4 1.1 -0.8 0.4 -1.2 0.5 -0.5 -0.3 0.3 -1.1 0 -0.3 -0.9 0.3 -0.2 0.5 -0.4 0.3 -0.9 0 -0.2 0 -0.2 0.3 -0.7 0.2 -0.3 -0.6 -0.2 -0.5 -0.2 0.7 -0.5 0.4 -0.9 -1 -0.1 -0.2 0.1 0.7 -0.2 -0.2 -0.8 0.5 -0.8 0.8 -0.6 -0.2 -0.2 -0.7 -0.4 -1.1 -0.7 -0.2 0.2 0.8 0.1 -0.4 0 -0.7 -0.9 0.8 -0.8 0 -0.6 -0.4 -0.5 0.5 -0.2 0.1 -0.6 0.3 -0.3 0 -0.4 -0.7 -0.7 0.2 0 -0.2 -0.4 0.1 -0.3 0.9 -0.8 -0.5 -0.4 -0.8 0 0 -0.5 0.9 0 0.1 -0.5 -0.8 -1.4 -0.1 -0.6 0.2 0.1 -0.2 0 0.6 -0.6 0.3 -0.4 -0.1 -0.3 -0.1 -0.3 -0.3 -0.5 -0.8 -0.4 0.3 -0.2 0.7 -0.7 0.3 -0.2 0 0 -0.9 -0.2 -0.8 -0.7 0.3 -0.9 0.4 -0.3 -0.3 -0.4 -0.4 -0.4 0.1 -0.8 0.3 -0.5 0.7 0.2 0.7 -0.3 -0.4 -0.6 -0.1 -0.4 0.5 -0.2 -0.3 -0.1 -1 -1.2 0.1 -0.2 0.2 0.5 -0.4 -0.9 -0.3 -0.9 0.8 -0.2 -0.1 -0.5 -1.2 -1 0.1 -0.2 1.1 0.1 0.4 -0.5 0.5 -0.3 -0.1 -0.4 -0.1 -0.6 0.6 -0.6 -0.1 -0.3 -0.9 0.3 -0.5 -0.3 -0.2 -1 0.3 -0.3 1 -0.3 0.3 -0.5 0.2 -0.4 0.4 -0.3 -0.6 -0.6 -0.5 -0.2 0.5 -0.1 -0.2 -0.2 -0.9 -0.7 -1 -0.5 0.4 -0.4 1.2 -0.5 -0.4 -0.5 -1.1 -0.3 -0.3 -0.7 0.4 -0.4 0.7 -0.3 0.7 -0.1 -0.3 0 -1.5 -1 0.1 -0.1 1.1 -0.5 -0.8 -1.4 -0.3 -0.1 0.4 0.1 -0.1 -0.5 0.2 -0.4 0.4 -0.3 -0.7 -0.6 -0.2 -0.1 0.5 -0.3 -0.3 -0.6 0.4 -0.4 0.5 -0.3 0.4 -0.3 0 -0.5 -1.1 -0.1 -0.9 -0.8 0.1 -0.7 0.8 -0.1 0.1 -0.7 -0.3 -0.3 0 0.1 0.3 -0.3 0.4 -0.5 -0.6 -0.6 -0.6 -0.2 0 0.1 -0.4 -0.8 0 -0.7 0.6 -0.4 0.4 -0.6 0.2 -0.2 0 -0.5 0.3 -0.4 0.2 -0.2 -0.1 -0.3 -0.6 -0.5 -0.5 -0.4 0.8 -0.6 0.3 -0.1 -0.7 -0.3 -0.3 -0.5 0.3 -0.3 -0.2 -0.9 0 -0.3 0.9 -0.1 0.1 -0.2 -0.9 -0.8 -0.5 -0.4 0.2 0 0.1 -0.6 -0.2 -1 0.5 -0.3 0.5 -0.1 -0.9 0.2 -0.9 -0.5 0.3 -0.7 1 -0.6 0.1 -0.4 -0.7 0.2 -0.1 -0.6 0.3 -0.6 -0.4 -0.2 -0.1 -0.6 0 -0.6 0 -0.3 -0.1 -0.4 0 -0.5 -0.4 -0.2 0 -0.3 0.3 -0.8 -0.2 -0.6 0 0 0.2 -0.2 -0.2 -0.6 0.1 -0.4 0.4 -0.5 0.5 -0.3 -0.9 -0.4 -1.2 -0.4 0.2 -0.4 1 -0.4 0.4 -0.5 -0.2 -0.4 -0.3 -0.4 -0.1 -0.3 0.3 -0.4 0.1 -0.4 -0.9 -0.2 -0.5 -0.6 0.5 -0.5 0.3 -0.2 -0.2 -0.3 0.2 -0.5 0.1 -0.3 -0.5 -0.3 -0.2 -0.5 0.2 -0.3 0 -0.5 0.1 -0.4 -0.6 -0.4 -0.5 -0.5 0.4 -0.2 -0.5 -0.5 -0.3 -0.6 0.8 -0.2 0.2 -0.3 -0.2 -0.3 0.1 -0.4 0.1 -0.5 0.4 -0.5 0.1 -0.5 0.7 -0.5 0.4 -0.4 -0.6 -0.3 -0.6 -0.4 -0.1 -0.4 -0.3 -0.3 -0.6 -0.3 -0.2 -0.4 -0.1 -0.3 -0.3 -0.4 0.4 -0.5 0.7 -0.3 -0.7 -0.3 -0.7 -0.6 0.5 -0.4 0.1 -0.3 -0.1 -0.4 0.5 -0.5 0 -0.3 -0.6 -0.4 -0.2 -0.4 0.3 -0.3 -0.6 -0.4 -0.1 -0.5 0.6 -0.3 -0.8 -0.2 -0.8 -0.4 0.1 -0.6 0.8 -0.4 0.5 -0.3 -0.3 -0.3 -0.5 -0.5 0.3 -0.5 0.4 -0.2 -0.7 -0.3 -0.9 -0.3 -0.2 -0.4 0 -0.5 0.2 -0.5 0.6 -0.5 0.5 -0.4 -0.3 -0.3 -0.2 -0.5 0.3 -0.5 0.3 -0.3 -0.5 -0.1 -1.1 -0.2 -0.5 -0.5 0.1 -0.4 0.1 -0.3 -0.4 -0.4 -0.1 -0.5 0.4 -0.5 0.2 -0.3 -0.3 -0.3 -0.4 -0.4 -0.3 -0.2 -0.6 -0.6 0.5 -0.5 0.4 0 -1.1 -0.2 -0.7 -0.5 0.3 -0.4 -0.2 -0.1 -0.7 -0.6 0.5 -0.7 0.8 -0.2 -0.4 -0.2 -0.5 -0.3 -0.1 -0.3 -0.4 -0.5 0.2 -0.4 0.2 -0.3 -0.2 -0.3 -0.1 -0.3 -0.2 -0.5 0.1 -0.1 -0.5 0 -0.7 -0.4 -0.1 -0.3 -0.2 -0.2 -0.3 -0.7 0.4 -0.5 0.1 0 -0.7 -0.1 -0.5 -0.1 -0.5 -0.3 -0.2 -0.7 0.3 -0.5 -0.1 -0.2 -0.3 -0.6 0.1 -0.4 -0.1 0.1 -0.9 0.3 -0.9 -0.2 -0.4 -0.7 0.3 -0.7 0.3 -0.2 -0.4 -0.2 -0.3 -0.7 0.2 -0.5 0 0 -0.6 0.1 -0.7 -0.1 -0.4 -0.5 0 -0.6 0 -0.2 -0.3 0 -0.7 -0.4 0 -0.7 0.1 0.2 -0.7 0.1 -0.7 -0.9 0.3 -0.7 0.2 -0.1 -0.5 0.1 -0.7 0.1 -0.7 -0.3 -0.3 -0.6 0.1 -1.1 0.5 -0.7 0.2 0.3 -0.9 0.4 -0.9 -0.3 -0.4 -0.2 -0.3 -0.3 -0.3 -0.5 0 -0.1 -0.5 -0.1 -0.4 -0.5 -0.1 -0.4 -0.2 -0.1 -0.4 -0.5 0 -0.7 0.1 -0.5 -0.1 -0.1 -0.4 -0.3 -0.3 -0.8 0.2 -0.1 -0.4 0.4 -0.9 -0.2 -0.4 -0.6 0 -0.5 0 -0.2 -0.3 -0.2 -0.4 0.1 -0.6 -0.1 -0.5 -0.5 -0.1 -0.4 -0.1 -0.4 -0.2 -0.4 -0.2 0 -0.4 -0.3 -0.3 -0.2 -0.4 -0.2 -0.3 -0.5 -0.1 -0.7 0.1 -0.2 -0.4 0.1 -0.6 0.3 -0.6 0.2 -0.7 -0.2 -0.4 0.1 -0.4 0.4 -0.8 -0.4 -0.1 -1.1 0.3 -0.7 0 -0.2 -0.2 -0.4 -0.2 -0.3 -0.3 0.6 -0.8 0.9 -0.9 -0.5 -0.2 -0.9 0.1 -0.2 -0.3 -0.2 -0.4 -0.3 -0.3 -0.4 -0.2 -0.8 0 -0.2 -0.3 0.3 -0.6 0 -0.5 -0.1 -0.4 -0.6 -0.1 -0.4 -0.3 0.5 -0.8 -0.1 -0.4 -0.6 -0.1 0 -0.5 -0.1 -0.4 -0.8 -0.1 -0.1 -0.3 0.5 -0.9 0 -0.5 -1 0.2 -0.4 -0.3 0.5 -0.8 -0.6 -0.1 -1.1 0.2 -0.3 -0.2 0.1 -0.6 0.3 -0.7 -0.4 -0.2 -0.7 0 0.2 -0.6 0.3 -0.7 -0.4 -0.2 -0.7 0 -0.4 -0.2 0 -0.5 0.1 -0.5 0 -0.5 0 -0.5 -0.1 -0.4 -0.4 -0.2 -0.5 -0.1 -0.4 -0.2 -0.3 -0.3 0 -0.5 0.3 -0.7 0.1 -0.5 -0.8 0.1 -1.2 0.3 -0.2 -0.4 0.5 -0.7 -0.2 -0.4 -0.3 -0.2 -0.2 -0.4 -0.2 -0.3 0.1 -0.5 0 -0.5 -0.2 -0.3 -0.5 -0.2 -0.5 -0.1 0.1 -0.5 -0.1 -0.4 -0.6 -0.1 -0.7 -0.1 -0.7 -0.1 -0.1 -0.4 0.9 -0.9 0.7 -0.8 -0.1 -0.4 -0.4 -0.2 -1 0 -0.8 0 0.4 -0.7 0.4 -0.7 -0.1 -0.4 -0.8 0 -0.9 0 0.1 -0.5 0 -0.4 -0.5 -0.2 -0.5 -0.2 -0.2 -0.4 0.1 -0.5 0.2 -0.5 -0.2 -0.4 -0.1 -0.4 0.1 -0.5 0.7 -0.8 0.1 -0.6 -0.8 0 -0.6 -0.1 0 -0.5 0.5 -0.7 -0.2 -0.4 -0.9 0 -0.6 0 -0.4 -0.3 -0.4 -0.3 -0.5 -0.1 -0.5 -0.2 0.2 -0.6 0.5 -0.8 -0.1 -0.3 -0.5 -0.2 -0.1 -0.5 0 -0.4 -0.1 -0.4 0 -0.5 -0.3 -0.3 -0.5 -0.2 0.2 -0.6 -0.3 -0.3 -0.8 0.1 -0.6 -0.2 0.1 -0.5 0.3 -0.6 -0.3 -0.3 -0.2 -0.3 0 -0.4 -0.1 -0.4 0 -0.4 -0.1 -0.4 -0.8 0 -0.7 -0.1 0.3 -0.7 0.3 -0.7 -0.2 -0.5 -0.4 -0.3 -0.5 -0.3 -1 0.2 -0.6 -0.2 0 -0.8 -0.5 -0.2 -0.5 -0.1 -0.4 -0.2 -0.3 -0.5 -0.2 -0.4 -0.6 0 -0.3 -0.3 -0.4 -0.4 -0.5 0 -0.4 -0.2 -0.4 -0.5 -0.5 -0.3 -0.6 0.1 -0.6 0 -0.6 -0.2 -0.8 -0.5 -0.7 -0.1 -0.6 0.4 -0.5 0.2 -0.6 0.1 -0.3 0.6 0 1 -0.2 0.5 -0.4 0.1 -0.8 -0.3 -0.6 -0.1 -0.1 0.5 -0.1 0.7 -0.3 0.3 -0.9 -0.4 -1 -0.4 -0.4 0.3 0.1 0.9 0.1 0.7 -0.1 0.5 -0.4 0.3 -0.6 0.1 -0.7 0.1 -0.1 0.4 0 0.6 -0.6 0.2 -0.8 0 -0.1 0.5 0.3 0.7 0 0.6 0.1 0.5 0 0.6 -0.3 0.3 -0.5 0.3 0 0.5 0.1 0.5 -0.4 0.4 -0.4 0.3 -0.1 0.5 0.1 0.5 0.2 0.5 0 0.5 -0.2 0.4 -0.3 0.4 -0.2 0.4 -0.2 0.4 0.1 0.5 -0.1 0.4 -0.2 0.4 -0.2 0.4 -0.1 0.4 0 0.5 -0.1 0.4 -0.1 0.4 -0.1 0.4 -0.1 0.4 -0.1 0.4 -0.1 0.4 -0.1 0.4 -0.1 0.4 -0.2 0.4 -0.1 0.4 -0.1 0.4 -0.1 0.4 -0.1 0.3 -0.1 0.4 -0.1 0.4 -0.1 0.4 -0.1 0.4 -0.1 0.4 -0.1 0.4 -0.1 0.4 0 0.4 -0.1 0.4 -0.1 0.4 -0.1 0.4 -0.1 0.4 -0.1 0.4 -0.1 0.4 -0.1 0.3 0 0.4 -0.1 0.4 -0.1 0.4 -0.1 0.4 -0.1 0.4 0 0.4 -0.1 0.4 -0.1 0.4 -0.1 0.4 0 0.4 -0.1 0.4 -0.1 0.4 -0.1 0.4 0 0.4 -0.1 0.4 -0.1 0.4 -0.1 0.4 0 0.4 -0.1 0.4 -0.1 0.3 0 0.4 -0.1 0.4 -0.1 0.4 0 0.4 -0.1 0.4 -0.1 0.4 0 0.4 -0.1 0.4 -0.1 0.4 0 0.4 -0.1 0.4 -0.1 0.4 0 0.4 -0.1 0.4 0 0.4 -0.1 0.4 -0.1 0.4 0 0.4 -0.1 0.4 0 0.4 -0.1 0.4 -0.1 0.4 0 0.4 -0.1 0.4 0 0.4 -0.1 0.4 0 0.4 -0.1 0.3 -0.1 0.4 0 0.4 -0.1 0.4 0 0.4 -0.1 0.4 0 0.4 -0.1 0.4 0 0.4 -0.1 0.4 0 0.4 -0.1 0.4 0 0.4 -0.1 0.4 -0.1 0.4 0 0.4 -0.1 0.4 0 0.4 -0.1 0.4 0 0.4 -0.1 0.4 0 0.4 -0.1 0.4 0 0.4 -0.1 0.4 0 0.4 -0.1 0.4 0 0.4 -0.1 0.4 0 0.4 -0.1 0.4 0 0.4 -0.1 0.3 -0.1 0.4 0 0.4 -0.1 0.4 0 0.4 -0.1 0.4 0 0.4 -0.1 0.4 0 0.4 -0.1 0.4 0 0.4 -0.1 0.4 0 0.4 0 0.4 -0.1 0.4 0 0.4 -0.1 0.4 0 0.4 -0.1 0.4 0 0.4 0 0.4 -0.1 0.4 0 0.4 -0.1 0.4 0 0.4 0 0.4 -0.1 0.4 0 0.4 0 0.4 -0.1 0.4 0 0.4 0 0.4 -0.1 0.4 0 0.4 0 0.4 0 0.4 -0.1 0.4 0 0.4 0 0.4 -0.1 0.4 0 0.4 0 0.4 0 0.4 -0.1 0.4 0 0.4 0 0.4 0 0.4 -0.1 0.4 0 0.4 0 0.4 0 0.4 -0.1 0.4 0 0.4 0 0.4 0 0.4 -0.1 0.4 0 0.4 0 0.4 0 0.4 -0.1 0.4 0 0.4 0 0.4 0 0.4 -0.1 0.4 0 0.4 0 0.4 0 0.4 -0.1 0.4 0 0.4 0 0.4 0 0.4 0 0.4 -0.1 0.4 0 0.4 0 0.4 0 0.4 0 0.4 -0.1 0.4 0 0.4 0 0.4 0 0.4 0 0.4 -0.1 0.4 0 0.4 0 0.4 0 0.4 0 0.4 -0.1 0.4 0 0.4 0 0.4 0 0.4 0 0.4 -0.1 0.4 0 0.4 0 0.4 0 0.4 0 0.4 -0.1 0.4 0 0.4 0 0.4 0 0.4 0 0.4 0 0.4 -0.1 0.4 0 0.4 0 0.4 0 0.4 0 0.4 -0.1 0.4 0 0.4 0 0.4 0 0.4 0 0.4 0 0.4 -0.1 0.4 0 0.4 0 0.4 0 0.4 0 0.4 0 0.4 -0.1 0.4 0 0.4 0 0.4 0 0.4 0 0.4 -0.1 0.4 0 0.4 0 0.4 0 0.4 0 0.4 0 0.4 -0.1 0.4 0 0.4 0 0.4 0 0.4 0 0.4 0 0.4 -0.1 0.4 0 0.4 0 0.4 0 0.4 0 0.4 -0.1 0.4 0 0.4 0 0.4 0 0.4 0 0.4 0 0.4 -0.1 0.4 0 0.4 0 0.4 0 0.4 0 0.4 -0.1 0.4 0 0.4 0 0.4 0 0.4 0 0.4 0 0.4 -0.1 0.4 0 0.4 0 0.4 0 0.4 0 0.4 0 0.4 -0.1 0.4 0 0.4 0 0.4 0 0.4 0 0.4 0 0.4 -0.1 0.4 0 0.4 0 0.4 0 0.4 0 0.4 0 0.4 -0.1 0.4 0 0.4 0 0.4 0 0.4 0 0.4 0 0.4 -0.1 0.4 0 0.4 0 0.4 0 0.4 0 0.4 0 0.4 -0.1 0.4 0 0.4 0 0.4 0 0.4 0 0.4 0 0.4 0 0.4 -0.1 0.4 0 0.4 0 0.4 0 0.4 0 0.4 0 0.4 -0.1 0.4 0 0.4 0 0.4 0 0.4 0 0.4 0 0.4 0 0.4 -0.1 0.4 0 0.4 0 0.4 0 0.4 0 0.4 0 0.4 0 0.4 -0.1 0.4 0 0.4 0 0.4 0 0.4 0 0.4 0 0.4 0 0.4 0 0.4 -0.1 0.4 0 0.4 0 0.4 0 0.4 0 0.4 0 0.4 0 0.4 0 0.4 -0.1 0.4 0 0.4 0 0.4 0 0.4 0 0.4 0 0.4 0 0.4 0 0.4 -0.1 0.4 0 0.4 0 0.4 0 0.4 0 0.4 0 0.4 0 0.4 0 0.4 -0.1 0.4 0 0.4 0 0.4 0 0.4 0 0.4 0 0.4 0 0.4 0 0.4 0 0.4 -0.1 0.4 0 0.4 0 0.4 0 0.4 0 0.4 0 0.4 0 0.4 0 0.4 0 0.4 -0.1 0.4 0 0.4 0 0.4 0 0.4 0 0.4 0 0.4 0 0.4 0 0.4 0 0.4 -0.1 0.4 0 0.4 0 0.4 0 0.4 0 0.4 0 0.4 0 0.4 0 0.4 0 0.4 0 0.4 -0.1 0.4 0 0.4 0 0.4 0 0.4 0 0.4 0 0.4 0 0.4 0 0.4 0 0.4 -0.1 0.4 0 0.4 0 0.4 0 0.4 0 0.4 0 0.4 0 0.4 0 0.4 0 0.4 0 0.4 -0.1 0.4 0 0.4 0 0.4 0 0.4 0 0.4 0 0.4 0 0.4 0 0.4 0 0.4 0 0.4 -0.1 0.4 0 0.4 0 0.4 0 0.4 0 0.4 0 0.4 0 0.4 0 0.4 0 0.4 0 0.4 0 0.4 -0.1 0.4 0 0.4 0 0.4 0 0.4 0 0.4 0 0.4 0 0.4 0 0.4 0 0.4 0 0.4 0 0.4 -0.1 0.4 0 0.4 0 0.4 0 0.4 0 0.4 0 0.4 0 0.4 0 0.4 0 0.4 0 0.4 -0.1 0.4 0 0.4 0 0.4 0 0.4 0 0.4 0 0.4 0 0.4 0 0.4 0 0.4 0 0.4 0 0.4 -0.1 0.4 0 0.4 0 0.4 0 0.4 0 0.4 0 0.4 0 0.4 0 0.4 0 0.4 0 0.4 0 0.4 -0.1 0.4 0 0.4 0 0.4 0 0.4 0 0.4 0 0.4 0 0.4 0 0.4 0 0.4 0 0.4 0 0.4 -0.1 0.4 0 0.4 0 0.4 0 0.4 0 0.4 0 0.4 0 0.4 0 0.4 0 0.4 0 0.4 0 0.4 -0.1 0.4 0 0.4 0 0.4 0 0.4 0 0.4 0 0.4 0 0.4 0 0.4 0 0.4 0 0.4 0 0.4 -0.1 0.4 0 0.4 0 0.4 0 0.4 0 0.4 0 0.4 0 0.4 0 0.4 0 0.4 0 0.4 -0.1 0.4 0 0.4 0 0.4 0 0.4 0 0.4 0 0.4 0 0.4 0 0.4 0 0.4 0 0.4 -0.1 0.4 0 0.4 0 0.4 0 0.4 0 0.4 0 0.4 0 0.4 0 0.4 0 0.4 -0.1 0.4 0 0.4 0 0.4 0 0.4 0 0.4 0 0.4 0 0.4 0 0.4 0 0.4 0 0.4 -0.1 0.4 0 0.4 0 0.4 0 0.4 0 0.4 0 0.4 0 0.4 0 0.4 0 0.4 -0.1 0.4 0 0.4 0 0.4 0 0.4 0 0.4 0 0.4 0 0.4 0 0.4 0 0.4 -0.1 0.4 0 0.4 0 0.4 0 0.4 0 0.4 0 0.4 0 0.4 0 0.4 0 0.4 0 0.4 -0.1 0.4 0 0.4 0 0.4 0 0.4 0 0.4 0 0.4 0 0.4 0 0.4 0 0.4 -0.1 0.4 0 0.4 0 0.4 0 0.4 0 0.4 0 0.4 0 0.4 0 0.4 0 0.4 0 0.4 -0.1 0.4 0 0.4 0 0.4 0 0.4 0 0.4 0 0.4 0 0.4 0 0.4 0 0.4 0 0.4 -0.1 0.4 0 0.4 0 0.4 0 0.4 0 0.4 0 0.4 0 0.4 0 0.4 0 0.4 0 0.4 -0.1 0.4 0 0.4 0 0.4 0 0.4 0 0.4 0 0.4 0 0.4 0 0.4 0 0.4 0 0.4 0 0.4 -0.1 0.4 0 0.4 0 0.4 0 0.4 0 0.4 0 0.4 0 0.4 0 0.4 0 0.4 0 0.4 0 0.4 -0.1 0.4 0 0.4 0 0.4 0 0.4 0 0.4 0 0.4 0 0.4 0 0.4 0 0.4 0 0.4 0 0.4 0 0.4 0 0.4 -0.1 0.4 0 0.4 0 0.4 0 0.4 0 0.4 0 0.4 0 0.4 0 0.4 0 0.4 0 0.4 0 0.4 0 0.4 0 0.4 0 0.4 0 0.4 -0.1 0.4 0 0.4 0 0.4 0 0.4 0 0.4 0 0.4 0 0.4 0 0.4 0 0.4 0 0.4 0 0.4 0 0.4 0 0.4 0 0.4 0 0.4 0 0.4 0 0.4 0 0.4 0 0.4 0 0.4 0 0.4 -0.1 0.4 0 0.4 0 0.4 0 0.4 0 0.4 0 0.4 0 0.4 0 0.4 0 0.4 0 0.4 0 0.4 0 0.4 0 0.4 0 0.4 0 0.4 0 0.4 0 0.4 0 0.4 0 0.4 0 0.4 0 0.4 0 0.4 0 0.4 0 0.4 0 0.4 0 0.4 0 0.4 0 0.4 0 0.4 0 0.4 0 0.4 0 0.4 0 0.4 0 0.4 0 0.4 0 0.4 0 0.4 0 0.4 0 0.4 0 0.4 0 0.4 0 0.4 0 0.4 0 0.4 0 0.4 0 0.4 0 0.4 -0.1 0.4 0 0.4 0 0.4 0 0.4 0 0.4 0 0.4 0 0.4 0 0.4 0 0.4 0 0.4 0 0.4 0 0.4 0 0.4 0 0.4 0 0.4 0 0.4 0 0.4 0 0.4 0 0.4 0 0.4 0 0.4 0 0.4 0 0.4 0 0.4 0 0.4 0 0.4 0 0.4 0 0.4 0 0.4 0 0.4 0 0.4 0 0.4 0 0.4 0 0.4 0 0.4 0 0.4 0 0.4 0 0.4 0 0.4 0 0.4 0 0.4 0 0.4 0 0.4 0 0.4 0 0.4 0 0.4 0 0.4 0 0.4 0 0.4 0 0.4 0 0.4 0 0.4 0 0.4 0 0.4 0 0.4 0 0.4 0 0.4 0 0.4 0 0.4 0 0.4 0 0.4 0 0.4 0 0.4 0 0.4 0 0.4 0 0.4 0 0.4 0 0.4 0 0.4 0 0.4 0 0.4 0 0.4 0 0.4 0 0.4 0 0.4 0 0.4 -0.1 0.4 0 0.4 0 0.4 0 0.4 0 0.4 0 0.4 0 0.4 0 0.4 0 0.4 0 0.4 0 0.4 0 0.4 0 0.4 0 0.4 0 0.4 0 0.4 0 0.4 0 0.4 0 0.4 0 0.4 0 0.4 0 0.4 0 0.4 0 0.4 0 0.4 0 0.4 0 0.4 0 0.4 0 0.4 0 0.4 0 0.4 0 0.4 0 0.4 0 0.4 0 0.4 0 0.4 0 0.4 0 0.4 0 0.4 0 0.4 0 0.4 0 0.4 0 0.4 0 0.4 0 0.4 0 0.4 0 0.4 0 0.4 0 0.4 0 0.4 0 0.4 0 0.4 0 0.4 0 0.4 0 0.4 0 0.4 0 0.4 0 0.4 0 0.4 0 0.4 0 0.4 0 0.4 0 0.4 0 0.4 0 0.4 0 0.4 0 0.4 0 0.4 0 0.4 0 0.4 0 0.4 0 0.4 0 0.4 0 0.4 0 0.4 0 0.4 0 0.4 0 0.4 0 0.4 0 0.4 0 0.4 0 0.4 0 0.4 0 0.4 0 0.4 0 0.4 0 0.4 0 0.4 0 0.4 0 0.4 0 0.4 0 0.4 0 0.4 0 0.4 0 0.4 0 0.4z" fill="#f00"/>
<path d="M988.0 484.7L988.1 482.7L988.2 480.7L988.3 478.7L988.5 476.7L988.6 474.7L988.7 472.7L988.8 470.7L988.9 468.7L989.0 466.7L989.1 464.7L989.2 462.7L989.3 460.7L989.4 458.7L989.5 456.7L989.6 454.7L989.7 452.7L989.8 450.7L989.9 448.7L989.9 446.8L990.0 444.8L990.1 442.8L990.2 440.8L990.2 438.8L990.3 436.8L990.4 434.8L990.4 432.8L990.5 430.8L990.6 428.8L990.6 426.8L990.7 424.8L990.7 422.8L990.8 420.8L990.8 418.8L990.9 416.8L990.9 414.8L991.0 412.8L991.0 410.8L991.1 408.8L991.1 406.8L991.1 404.8L991.2 402.8L991.2 400.8L991.3 398.8L991.3 396.8L991.4 394.8L991.4 392.8L991.5 390.8L991.5 388.8L991.6 386.8L991.6 384.8L991.7 382.8L991.8 380.8L991.8 378.8L991.9 376.8L991.9 374.8L992.0 372.8L992.1 370.8L992.2 368.8L992.2 366.8L992.3 364.8L992.4 362.8L992.5 360.8L992.5 358.8L992.6 356.8L992.7 354.8L992.8 352.8L992.9 350.8L993.0 348.8L993.1 346.8L993.2 344.8L993.3 342.8L993.4 340.8L993.5 338.8L993.7 336.8L993.8 334.8L993.9 332.8L994.0 330.8L994.2 328.8L994.3 326.8L994.5 324.8L994.6 322.9L994.8 320.9L995.0 318.9L995.1 316.9L995.3 314.9L995.5 312.9L995.7 310.9L995.9 308.9L996.1 306.9L996.3 304.9L996.5 302.9L996.7 300.9L996.9 299.0L997.1 297.0L997.3 295.0L997.5 293.0L997.7 291.0L998.0 289.0L998.2 287.0L998.4 285.0L998.7 283.1L999.0 281.1L999.2 279.1L999.5 277.1L999.8 275.1L1000.1 273.2L1000.4 271.2L1000.7 269.2L1001.0 267.2L1001.3 265.3" fill="none" stroke="#00f" stroke-width="2.4" stroke-linecap="round" stroke-dasharray="4.5 3.6 1 3.6 1 3.6"/>
<path d="M1002.1 267.8l0 -0.4 0.1 -0.4 0 -0.4 0.1 -0.4 0.1 -0.4 0 -0.4 0.1 -0.4 0.1 -0.4 0 -0.3 0.1 -0.4 0 -0.4 0.1 -0.4 0.1 -0.4 0 -0.4 0.1 -0.4 0.1 -0.4 0 -0.4 0.1 -0.4 0.1 -0.4 0 -0.4 0.1 -0.4 0.1 -0.4 0.1 -0.4 0 -0.3 0.1 -0.4 0.1 -0.4 0 -0.4 0.1 -0.4 0.1 -0.4 0.1 -0.4 0 -0.4 0.1 -0.4 0.1 -0.4 0.1 -0.4 0 -0.4 0.1 -0.3 0.1 -0.4 0.1 -0.4 0 -0.4 0.1 -0.4 0.1 -0.4 0.1 -0.4 0 -0.4 0.1 -0.4 0.1 -0.4 0.1 -0.4 0.1 -0.3 0 -0.4 0.1 -0.4 0.1 -0.4 0.1 -0.4 0.1 -0.4 0 -0.4 0.1 -0.4 0.1 -0.4 0.1 -0.4 0.1 -0.4 0.1 -0.3 0 -0.4 0.1 -0.4 0.1 -0.4 0.1 -0.4 0.1 -0.4 0.1 -0.4 0.1 -0.4 0.1 -0.4 0 -0.3 0.1 -0.4 0.1 -0.4 0.1 -0.4 0.1 -0.4 0.1 -0.4 0.1 -0.4 0.1 -0.4 0.1 -0.3 0.1 -0.4 0.1 -0.4 0.1 -0.4 0.1 -0.4 0.1 -0.4 0.1 -0.4 0.1 -0.3 0.1 -0.4 0.1 -0.4 0.1 -0.4 0.1 -0.4 0.1 -0.4 0.1 -0.3 0.1 -0.4 0.1 -0.4 0.1 -0.3 0.1 -0.4 0.1 -0.4 0.1 -0.3 0.2 -0.4 0.1 -0.4 0.1 -0.3 0.2 -0.4 0 -0.3 0.1 -0.4 0.2 -0.4 0 -0.3 0 -0.4 0.4 -0.3 0.2 -0.3 -0.1 -0.4 0.1 -0.4 0.2 -0.3 0.2 -0.3 0.3 -0.3 -0.2 -0.5 0.2 -0.3 0.5 -0.2 0.1 -0.4 0 -0.4 -0.1 -0.4 0 -0.4 0.2 -0.3 0.3 -0.3 0.2 -0.3 0.6 -0.1 0.3 -0.3 -0.5 -0.6 0.1 -0.3 0.2 -0.4 0 -0.4 0.2 -0.3 -0.1 -0.4 0.1 -0.4 0.8 0 0.7 -0.1 -0.1 -0.4 -0.1 -0.5 -0.1 -0.5 -0.2 -0.5 0.1 -0.3 0.7 0 0.2 -0.3 -0.6 -0.8 0.2 -0.3 0.9 0.1 0 -0.4 0.1 -0.4 0.7 0.1 0.3 -0.3 0 -0.3 0.2 -0.3 0.7 0.2 0.5 0.1 -0.5 -1.2 0.2 -0.3 0.8 0.5 0.2 -0.4 -0.1 -0.7 0.4 -0.2 0.7 0.3 0.8 0.5 0.7 0.1 0.2 -0.5 0.1 -0.6 0.4 -0.2 0.1 -0.5 -0.1 -0.7 0.3 -0.3 0.5 0.1 0.2 -0.3 -0.1 -0.7 0.1 -0.5 0.5 0.3 0.5 0.6 0.1 -0.2 0.1 0.1 0.1 0.8 0.2 0.2 0.3 -0.4 0.4 -0.5 0.4 -0.4 0.3 0.2 0.3 0.4 0.3 0 0.4 0 0.3 0.5 0.3 0.4 0.6 -0.6 0.7 -1 0.4 0.1 0.2 0.7 0.4 0 0.1 1.1 0 1.1 0.7 -1 0.7 -0.6 0.1 0.6 0.4 0.1 0.5 -0.4 0.6 -0.3 0 0.8 0 0.9 0.4 -0.2 0.6 -0.3 0.1 0.4 0 0.6 0 0.5 0.1 0.3 0.6 -0.1 0.8 -0.4 0.6 0 0.1 0.4 -0.3 0.8 0.3 0.2 0.2 0.4 -0.5 0.9 0.4 0.1 0.9 -0.2 0.5 0.1 0 0.5 -0.6 1 0 0.5 1 -0.3 0 0.5 0 0.4 0.8 -0.2 0.3 0.3 0.3 0.3 0.6 0.1 -0.1 0.5 -0.5 0.7 0.4 0.3 0.9 -0.1 0.4 0.2 0 0.5 -0.2 0.6 -0.3 0.6 0 0.5 0.9 -0.1 0.7 0 -0.1 0.6 0.2 0.3 0.3 0.3 0 0.5 0.2 0.4 0.3 0.3 0.2 0.3 0.1 0.5 0.4 0.2 0.4 0.1 0 0.6 0.5 0.1 0.9 -0.1 -0.3 0.7 -0.8 1 0.3 0.3 0.8 -0.1 0.6 0.1 0.3 0.2 0.4 0.3 0.7 -0.1 0.2 0.4 -0.7 0.9 0 0.5 0.4 0.2 -0.3 0.6 -0.1 0.6 0.5 0.1 0.6 0.1 0.7 0 0.1 0.4 -0.7 0.9 0.4 0.2 1.1 -0.2 0.4 0.3 -0.7 0.8 -0.5 0.8 0.3 0.3 0.5 0.1 0.2 0.4 0.6 0.1 0.6 0.1 0.1 0.4 0.3 0.3 0.4 0.2 -0.2 0.6 -0.3 0.6 0.4 0.3 0.6 0.1 0.1 0.4 0.1 0.4 0.1 0.4 0.2 0.3 0.1 0.5 0 0.4 0.7 0.1 0.7 0 0.2 0.4 0 0.5 -0.1 0.5 0.2 0.3 0.4 0.2 0.3 0.4 0 0.4 -0.3 0.6 -0.1 0.5 -0.2 0.6 0.3 0.3 0.6 0.2 -0.2 0.5 0.9 0 1 -0.2 -0.3 0.7 -0.6 0.9 0.3 0.2 1.7 -0.5 0.2 0.4 -0.1 0.4 -0.1 0.6 0.3 0.3 -0.4 0.8 -0.4 0.7 0.4 0.2 0.6 0.1 0.8 0 0.7 0 -0.5 0.8 -0.9 1.1 0.1 0.4 0.8 0 0.7 0 0.1 0.4 0.4 0.2 0.8 -0.1 -0.3 0.7 -0.3 0.7 0.8 -0.1 0.4 0.2 0.2 0.4 0 0.5 0 0.5 0.4 0.2 0.1 0.4 0 0.5 0.3 0.3 0.4 0.2 0.1 0.4 0.4 0.2 0.7 0 0.7 0 0.2 0.4 -0.4 0.8 -0.1 0.5 -0.5 0.8 0.2 0.4 1.2 -0.4 0.5 0.2 0.1 0.4 0 0.5 0.3 0.3 0.4 0.2 -0.2 0.5 -0.1 0.6 0.1 0.5 0.4 0.1 0.6 0.1 -0.4 0.7 -0.2 0.7 1.4 -0.5 1 -0.2 -0.6 0.9 -0.3 0.7 0 0.4 -0.1 0.6 0.3 0.3 0.6 0.1 0.3 0.3 -0.2 0.6 0.6 0.1 0.6 0.1 0.1 0.4 0.5 0.1 0.1 0.5 -0.1 0.5 0.7 0 0.2 0.4 -0.6 0.9 0.4 0.2 1.2 -0.3 0.1 0.3 -0.4 0.8 -0.1 0.6 0.3 0.3 0.3 0.2 0.3 0.3 -0.2 0.7 -0.2 0.6 0.7 0 1.2 -0.3 0.9 -0.2 0.6 0.1 0 0.5 -0.1 0.6 0.1 0.4 0.3 0.4 0.2 0.3 0.5 0.1 0.1 0.5 0.2 0.4 0.6 0 0.4 0.2 -0.1 0.6 -0.3 0.9 0.4 0.1 0.9 -0.2 0.3 0.3 0 0.6 -0.2 0.8 0 0.6 0.4 0.1 0.5 0.2 0.7 -0.2 0.7 -0.2 0.1 0.6 0.1 0.6 0.6 -0.1 0.6 -0.2 0.5 0.1 0.3 0.3 0.5 0 0.3 0.2 0 0.7 -0.3 1.2 -0.1 0.9 0.3 0.3 0.7 -0.4 0.6 -0.1 0.3 0.3 0.1 0.6 0.5 -0.1 0.7 -0.4 0.2 0.4 0.3 0.3 0.4 0.1 0.3 0.3 0.3 0.2 0.5 0 0.4 0.1 0.3 0.3 -0.2 0.9 0.1 0.4 0.7 -0.2 0.5 0 0.3 0.4 0 0.6 0.2 0.2 0.6 -0.1 0.4 0.3 0.3 0.2 0.4 0.1 0.1 0.5 -0.2 1 0.1 0.6 0.8 -0.4 0.6 -0.2 0.1 0.6 0.4 0.1 0.5 0 0.3 0.3 0.3 0.4 0.1 0.7 0.4 0 0.6 -0.3 0.2 0.6 0 0.6 0.7 -0.3 0.6 -0.1 0.2 0.6 0.4 0.1 0.4 0.1 0.5 -0.1 0.6 -0.3 0 0.8 -0.2 1.2 0.5 0 0.8 -0.6 0.3 0.3 0.2 0.5 0.4 0 0.4 0.3 0.5 -0.1 0.5 -0.4 0.1 0.7 0.4 0.4 0.5 0 0.6 -0.4 0.6 -0.3 0.1 1 -0.2 1.1 0.3 0.3 0.8 -0.2 0.5 -0.4 0.2 0.3 -0.1 1.1 0.3 0.4 0.9 -1.2 0.9 -0.8 0.1 1.2 0.3 0.8 0.6 -0.9 0.5 -0.5 0.4 0.4 0.4 1.3 0.1 1.2 0.3 -0.7 0.7 -1.5 0.4 0.1 0.3 0.9 0.4 -0.2 0.5 -0.3 0.3 0.4 0.4 0.3 0.3 0.5 0.3 0.4 0.5 -0.3 0.5 -0.7 0.4 0.1 0.4 0.4 0.3 0.4 0.2 0.8 0.3 0.3 0.3 -0.2 0.4 0.4 0.5 0 0.5 -0.9 0.3 0.4 0.5 0.9 0.7 -0.5 0.3 -0.5 0.3 0.4 0.5 -0.1 0.4 -0.4 0.2 0.6 0.3 0.6 0.6 -0.4 0.4 0.1 0.6 0.3 0.4 -0.6 0.4 -0.4 0.1 0.7 0.2 0.6 0.8 -0.8 0.4 -0.5 0.3 0.4 0.1 1.5 0.6 0.6 0.6 0.1 0.3 -0.1 0.2 -0.9 0.5 -0.4 0 0.7 0.6 0.5 0.8 -0.1 0.2 0 0.4 0.1 0.5 0.2 0.4 0.2 0.1 -0.2 0.3 -0.1 0.5 -0.2 0 0.6 0.5 1 0.5 -0.3 0.3 0.2 0.4 0.3 0.7 -0.4 0.6 -0.5 0.4 0 0.5 0 0.3 -0.1 0.5 0.8 1 1 0.2 -0.6 0 -1.1 0.4 0.1 0.4 -0.1 0.3 0 0.2 0.3 0.7 -0.1 0.4 0.7 -0.9 1 0.9 -0.1 1.4 -1.1 0.4 -0.2 0.2 0.2 0.7 0.4 0.4 0.3 -0.1 0.5 0.3 -0.1 0.9 -0.5 0.6 0 -0.6 0.4 0.2 -0.7 0.9 -0.5 0.6 0.5 0.3 0.6 0.4 -0.3 0.4 0 0.4 0.5 0.5 -0.1 0.3 -0.2 0 0.2 0.5 0.2 0.8 -0.3 0.5 -0.3 0.5 0.1 0.4 0.3 0.2 0.3 0.3 0.5 0.7 0.1 0.4 -0.3 0.4 -0.5 0.3 -0.1 0.4 0.5 0.4 0.5 0.3 0.1 0.7 -0.3 -0.1 -0.1 0.3 0.4 0.5 0.2 0.2 -0.4 1 -0.5 0.8 0.2 -0.1 0.2 0.4 -0.3 0.6 0 0 0.6 0.3 0.7 0.9 -0.3 0.3 -1.2 0.3 -0.2 0.2 0.8 0.5 -0.4 0.8 -0.4 0.5 0 0.1 0 0.4 0.4 0.2 0.6 0.1 0.3 0.6 -0.3 0.9 -0.6 0.1 -0.2 0.2 -0.1 0.6 0.2 0.1 0.4 0.5 -0.1 0.6 -0.5 0.1 0.7 0.3 0.6 0.5 -0.5 0.3 0.8 0.7 0.7 0.5 -0.8 0.2 -0.2 0.6 -0.2 0.5 -0.3 0.5 0.6 0.6 0.1 0.1 -0.6 0.1 -0.1 0.3 0.6 0.6 0.1 0.4 -0.6 0.3 -0.4 0.4 0.2 0.7 0.1 0.6 0.3 0.4 0.4 0 0.2 0.4 0.5 0.5 0.1 -0.2 -0.3 0.4 -0.3 1.1 -0.2 1 0.1 -0.1 0.8 0 -0.2 0.6 -0.7 0.3 -0.1 0 -0.3 0.5 -0.1 1 -0.3 0.5 -0.4 0.2 0.3 0.2 0.9 0.6 0.5 0.4 -0.4 0.4 -0.2 0.4 -0.4 0.3 0 0.5 -0.1 0.8 -0.1 0.3 0.5 -0.2 0.5 0.6 -0.4 0.3 -0.4 0.6 0.2 0.7 0.4 0.1 -0.5 0.1 -0.7 0.5 -0.2 0.4 0.2 0.5 0.4 0.5 0.2 0 0.2 0.5 -0.3 0.6 -0.1 0.5 0.3 0.5 0.2 0.3 0.3 0.5 -0.7 0.3 -0.4 0.2 0.2 0.4 0.7 0.4 0.3 0.5 -0.8 0.6 -0.6 0.4 0.5 -0.2 0.5 0.6 0 0.7 -0.6 0.2 -0.3 0.5 0.1 0.3 0.2 0.2 0.7 0.2 0.6 0.2 -0.2 1 -0.6 0.7 -0.2 0.4 1 0.2 0.5 0.6 -0.9 0.4 -0.7 0.1 0.7 0.5 -0.3 0.5 -0.9 0.4 0.2 0.4 0.6 0.5 0.1 0.5 -0.7 0.5 0.6 0.5 0.9 0.4 0 0.3 -0.3 -0.4 -0.4 0.6 -0.5 0.7 -0.5 0.2 -0.3 0.4 0.3 1 0.7 0.3 0.1 -0.1 0.3 0.5 0.7 1.1 -0.1 0.2 -0.9 0 -1.1 0.3 -0.2 0.4 0.5 0.6 -0.3 0.2 0 0.6 0.3 0.6 -0.2 0.2 0.4 0 0.8 0.1 0 1 -0.9 0.3 -0.7 0.5 0.1 0.5 -0.2 0.4 0.1 0.6 0.7 -0.2 0.5 0.6 -0.1 0.9 -0.1 0 0.3 0.2 -0.5 0.6 -0.8 0.4 -0.2 0.7 0.6 0.4 0.1 0.1 -0.6 0.3 -0.8 0.4 0 0.5 0 0.4 0.3 0.5 0.2 0.3 0.4 0.2 0.2 0.4 0.5 0.7 -0.2 0.4 -0.8 0.5 0.2 0.5 0.6 0 0.4 0.7 0.6 0.6 0.1 -0.1 -0.9 0.1 -0.1 0.5 0.3 0.7 -0.9 0.5 -0.6 0 0.5 0.2 -0.2 0.7 -0.4 0.3 0.7 0.2 0.6 0.7 -0.5 0.4 -0.5 0.5 0.5 0.4 0.8 0.3 0.6 0.3 0.2 0.3 -0.1 0.5 -0.1 0.3 0.3 1 -0.1 0.8 -0.6 -0.1 0.3 -0.1 0.5 0.5 -0.9 0.6 -1.6 0.5 -0.2 0.4 0.6 0.7 1.1 0.2 0.2 0.2 -0.2 0.2 -0.4 0.6 -0.2 0.4 -0.2 0.3 0.2 0.7 0 0.3 -0.3 0.3 -0.6 0.5 0.2 0.5 1 0.3 0.1 0.1 -0.3 0.7 -0.3 0.3 0.1 0.2 0.2 0.5 -0.4 0.5 0 0.3 0.6 0.5 -0.1 0.3 -0.9 0.5 0.3 0.4 0.6 0.1 -0.5 0.6 -0.4 0.6 0.3 0.3 0.5 0.5 0.4 0.3 -0.2 0.3 -0.5 0.5 -0.2 0.4 0.5 0.5 -0.1 0.1 -0.4 0.3 0.1 0.7 0.3 0.5 -0.2 0.4 0.3 0.5 0.5 -0.1 -0.1 0.7 -0.9 0.5 -0.2 0.3 0.1 0 1.2 0.2 0.1 0.6 0 0.9 1.3 0.7 0.1 0.3 -0.9 0.1 -0.4 0.2 -0.2 0.4 0.2 0.1 0.5 0.9 0.3 0.9 -0.4 0.1 -0.4 0.2 0.2 0.5 0.1 0.1 -0.2 0.2 0 0.7 0 0.4 0.3 0.6 0.3 0.8 -0.6 0 -0.7 0.2 -0.5 0.3 0.8 0.5 1.2 0.8 -1 0.3 -0.4 0.6 0.6 0.3 -0.4 0.3 -0.4 0.3 0.3 0.6 0.5 0.5 -0.9 0.1 -0.2 0.5 1.1 0.4 0.6 0.2 -0.5 0.5 -0.8 0.4 0 0.1 0.3 0.8 -0.4 0.6 0.5 0 0.7 0.1 -0.2 0.8 0 0.4 -0.1 0.4 -0.1 0.5 0.1 0.1 0 0.4 -0.3 0.3 -0.2 0.8 0.4 0.4 0 -0.1 -0.7 0.2 0.2 0.6 0.7 0.9 -0.4 0.5 -0.2 0.3 -0.3 0.3 -0.5 0.3 0.7 0.5 0.5 0.1 -0.1 0.4 0.3 0.9 0 0.2 -0.8 0.1 -0.4 0.6 0.7 0.7 0.4 0.5 0.1 0.4 -0.5 0 -0.7 0.4 -0.3 0.6 0.1 0.2 0.2 0.5 0.5 0.5 0.6 0.1 -0.2 0.6 -0.7 0.3 0 0.4 -0.4 0.5 -0.5 0.4 0.5 0.4 -0.1 0.3 0.2 0 0.7 0.9 0.9 1.4 0.3 -0.3 -0.8 0.1 -1 0.5 -0.9 0.4 -0.3 0.4 0.3 0.1 1.1 0.1 0.6 0.6 -0.9 0.6 -0.6 0.5 0.5 0.6 0.5 0.4 0 -0.1 -0.4 0.4 -0.7 0.6 -0.2 0.4 0.4 0.4 0.5 0.6 0.5 1 0.1 0 -0.7 0 -1.1 0.3 -0.1 0.2 0.6 0.7 0.2 0.4 -0.3 0.2 0.3 0.6 0.4 0.5 0 0.2 -0.2 0.4 0.2 0.7 0.1 0.1 -0.5 0.4 0.5 0.3 0.4 0.1 0.2 0.8 0.5 0.8 0 0.7 0.2 0.2 0.2 0.1 -0.8 0.3 0.1 0.9 0.4 0.2 0.2 0.2 0.5 0.9 -0.8 0.2 -0.7 -0.1 0.2 0.1 0.3 -0.1 -0.3 0.8 -0.1 0.3 0.9 0.8 1.1 1.7 -0.8 -0.5 -1.5 0.3 -1.1 0.5 0.1 0.3 1.1 0.1 0.6 0 -0.4 0.7 -0.3 0.4 0.6 0.4 0.4 0.6 -0.5 0.4 -0.1 0.5 0.3 0.7 0.2 0.2 0.3 0.2 -0.4 0.6 -0.8 0.3 0.2 0.3 0 0.5 -0.2 0.7 0.3 0.7 -0.1 0.2 -0.1 0.1 0.2 0.4 -0.2 0.4 0.1 0.5 0 0.5 -0.2 0.4 -0.2 0.5 0.2 0.8 0.3 0.2 0 0.2 -0.2 -0.2 -0.3 0.3 0.1 1 -0.2 0.1 -0.7 0.3 -0.4 0.4 0 0.4 0.5 0.5 0.7 0.3 0.6 0.3 0.4 0.3 -0.3 1 -0.4 0.6 -0.7 0.1 -0.2 0.2 0.8 -0.1 0.2 0.8 -1.2 0.6 -0.5 0.3 0 0.4 0.7 0.6 0.7 0.1 -0.4 0.4 -1 0.4 0.1 0.2 1 0.6 0.5 0.6 -0.5 0.5 0 0.4 0.1 0.4 -0.6 0.5 -0.2 0.2 1.2 0.2 0.2 0.6 -0.7 0.3 -0.4 -0.1 0.3 0.4 1 0.7 0.2 0.7 -0.3 0.4 -0.7 0.4 0.1 0 0.9 0.2 0.2 1 0 0.2 0.5 0.2 0 0.5 -1 0.6 -0.9 0.3 0.3 0.2 0.1 0.5 0.3 0.5 0.5 0.7 -0.1 0.6 -0.6 0.3 0.1 0.3 0.5 -0.1 0.6 0.4 -0.5 0.6 -0.8 0.3 0.3 0.2 0.5 0.6 0.3 0.8 0.1 0.7 -0.1 0.3 -0.1 0 0 0.1 0.5 0.4 0 0.7 -1.1 0.5 -0.8 0.2 0.3 0.2 0.3 0.6 0 0.5 -0.4 0.3 0.4 0.5 0.8 -0.2 -0.1 0.7 -0.4 0.7 -0.4 0.4 -0.3 0.4 0.2 0.5 0.5 0.5 -0.1 0 -0.3 0.5 -0.1 0.3 -0.1 0.3 0 0.4 0.6 0.4 0.3 0.3 -0.2 0.5 0.5 0.5 0.4 0.2 0.7 0.7 0.9 0.7 -0.4 0.5 -0.6 0.2 0.2 0.1 0.3 0.2 0.2 0.8 -0.5 0.7 -0.9 0.1 0.2 0 0.4 0.2 0.2 0.6 -0.4 0.8 -0.9 0.4 -0.5 0.3 0.5 0.7 0.3 0.3 0.2 0.3 0.9 0.7 0 0.1 -0.5 0.4 -0.4 0.5 -0.5 0.4 0.1 0.8 0.6 0.1 -0.2 0 -0.5 0.2 0.2 0.7 0.4 0.7 0.4 0.1 0.3 0.3 -0.2 0.8 0.4 0.5 0 0.3 -0.3 0.6 0 0 -0.2 0.3 -0.8 0.5 -0.8 0.4 0.1 0.4 0.3 0.4 0.5 0.5 0.6 0.6 0.5 0.3 0 0.2 0.5 0.7 0.1 0.5 -0.5 0 -0.6 0.3 0 0.6 0 0.3 -0.2 0.3 -0.5 0.8 -0.1 0.9 0.2 -0.2 0.4 0.4 0 0.1 0.7 0.6 0.4 0.7 -0.9 -0.1 -0.6 0.2 0.3 0.5 0.4 0.2 -0.1 0.6 -0.1 0.9 0.2 0.4 0.1 0 0 0.6 -0.2 0.8 -0.5 0.1 -0.6 0.2 -0.6 0.3 -0.2 0.5 0.2 0.5 0.1 0.7 0.9 0.3 0.6 -0.6 -0.3 0.6 -0.5 0.6 -0.1 0.6 0.1 0.9 0.5 0.2 0.5 0.2 -0.3 0.8 -0.4 0 -0.3 0.3 -0.3 0.7 -0.1 0.4 -0.2 0.2 0.5 0.3 0.6 0.5 -0.3 0.2 0.2 0.7 -0.3 0.6 -0.3 0.3 0.5 0.4 0.3 0.3 -0.5 0.3 -0.1 0.3 0 0.6 0.9 1 0 -0.1 -1.3 0.2 -0.4 0.5 0.3 0.5 -0.5 0.3 -0.1 0.5 0.3 0 0 0.2 0.3 0.8 0.5 0.4 -0.3 0.2 0.4 0 0.7 0 -0.3 1 -0.2 1.1 0.1 0.4 -0.1 0.5 0 0.5 -0.2 0.3 0 0.2 0.4 0.4 0.2 0.6 -0.2 0.5 -0.1 0 0.4 0.5 -0.2 0.2 -0.2 0.1 0.4 1.2 -0.2 0.1 -0.4 0 0.5 0.6 0.5 0.2 -0.7 0.3 -0.7 0.6 0.5 0.3 0.1 0.3 -0.2 0.8 0.1 0.6 -0.4 0.3 -0.5 0.4 0.2 0.6 0.4 0.2 -0.7 0.1 -0.4 0.3 0.4 0.4 0.4 0.8 0.2 0.6 -0.6 0.2 -0.7 0.3 0 0.4 1.1 0.2 0.7 0.7 0 0.5 -0.8 0.1 -0.5 0.2 0.9 0.7 0.2 0.3 -0.8 0.2 0.2 0.6 -0.2 0.5 -0.5 0.5 -0.4 0.3 0.2 0.2 0.7 0 0.5 0.1 0.2 1.5 0 0.7 -0.5 0.3 0.2 0.2 0.3 -0.2 0.1 0.9 0.2 0.7 -0.1 -0.1 -1.1 0.4 -0.7 0.7 0.8 0.5 0.6 -0.1 -0.3 0.7 -0.4 0.3 0.3 0.4 0 0.4 -1.1 0.2 0.2 0.3 1.3 0.2 0.9 0.9 -0.8 0.6 -0.8 0.3 -0.2 0.1 -0.2 0.3 0.2 0.5 0.4 0.5 0.2 0.3 -0.1 0.1 -0.6 0.6 0.6 0.5 0.6 -0.2 0 1.2 0.1 1.1 -0.5 -0.2 -0.3 0.2 -0.3 0.8 0 0.7 0.1 0.2 0 -0.3 -0.3 0.4 -0.6 0.6 -0.2 0.3 0.2 0.1 1.6 0.9 0.3 0.1 -0.3 0.1 0.1 0.1 0.4 0.7 -0.3 0.7 -0.4 0.6 0.2 0.5 -0.3 0.3 -0.8 0.3 -0.2 0.5 0.3 0.6 0.9 0.3 0.4 0.2 -0.2 0.3 -0.5 0.2 0.1 0.4 0.5 0.7 -0.3 0.4 0.2 0.5 0.7 0.2 -0.4 0.5 -0.5 0.6 0.2 0.1 0.6 0.3 -0.1 0.8 -0.1 0.4 -0.6 0.2 -0.7 0.3 0.3 0.3 0.8 0.6 0.4 0.6 -0.2 0.4 -0.5 0.3 0 0.2 1 0.5 0.3 0.5 -0.7 0.4 -0.5 0.3 -0.3 0.5 -0.1 0.6 0.5 0.4 -0.4 0.3 -0.4 0.4 0 0.5 0.1 0.3 -0.3 0.3 0.8 0.6 0.3 0.4 -1.1 0.3 -0.2 0.2 1.4 0.5 0.2 0 -0.1 0.5 -0.1 0.6 -0.1 0.5 0.1 0.2 -0.1 0.5 -0.5 0.5 -0.2 0.5 -0.2 0.3 -0.1 0.1 0.8 0.7 1.3 0.7 -0.3 0.2 -0.1 0.4 0.3 0.2 -0.7 0.4 -0.3 0.5 0 0.6 0.2 0.5 0.8 0 -0.2 0.6 -0.8 0.5 -0.1 0.5 0.8 0.1 0.1 0.2 -0.7 0.9 -0.3 0.2 -0.1 0.1 0 0.8 0.7 0.4 -0.3 -0.2 -0.3 0.4 0.3 0.7 -0.2 0.9 0.2 0.5 -0.4 -0.1 -0.4 0.5 0.1 0.1 -0.1 0.5 -0.2 0.7 0.5 0.6 0.5 0.3 -0.1 0.4 -0.5 0.3 -0.5 0.3 0.2 0.3 0.6 0.5 0.3 0.2 0.2 0.3 0.1 0.5 -0.2 0.4 0 0.7 0.1 1 -0.1 0.2 -0.4 -0.1 -1.1 0.4 0 0.2 0.6 0.3 -0.4 0.5 -0.2 0.3 0.6 0.5 0.3 0.5 -0.3 0.4 0.5 0.3 0.9 0.6 -0.3 0.5 -0.3 0.3 0.3 0.6 -0.3 0.3 -0.7 0.2 -0.3 0.4 0.3 0.5 0.6 0.7 0.3 0.5 0.1 -0.1 0.5 0.3 0.6 0.9 -0.5 -0.2 -0.8 -0.1 -0.3 0.7 0.2 0.9 0 0.4 0 0.2 -0.2 0.5 -0.4 0.5 -0.4 0 0.3 -0.1 0.9 1.3 0.7 0.6 -0.6 -0.1 -0.1 0.7 0.2 0.6 -0.3 0.3 0.2 0.6 -0.3 0 -1.1 0.4 0.6 1 1.1 0.1 -0.5 0.3 -1 0.4 -0.3 0.2 0 0.2 0 0.5 0.3 0.5 0.6 0.3 0.4 0.3 -0.2 0.5 -0.1 0.7 0.4 0.9 0.4 0.2 -1 0.1 -0.5 0.5 0.3 0.3 0.1 -0.1 0.4 0.9 0.1 0 0.1 -0.1 0.2 0.9 -0.6 0.4 -0.3 0.6 0.2 0.7 0.1 0.2 0.1 0.4 -0.2 0.2 -0.4 0.3 0 0.7 0 0.4 -0.2 0.5 -0.2 0.3 -0.5 0.3 0 0.6 0.8 0.6 0.2 0.2 0.1 0.3 -0.2 0.2 -0.2 0.4 0.2 0.7 0.3 0.5 -0.7 0.2 -0.6 0.4 0.1 0.4 0.9 0.4 0.8 0.3 -0.6 0.4 -0.7 0.5 -0.4 0.4 0.2 0.5 0 0.3 -0.4 0.3 0.4 0.9 0.2 0 -0.1 0 0.3 0.8 0.5 0.5 -0.2 0.1 0 0.1 0.6 0.3 0 0.3 -0.7 0.7 0.4 0.6 0.8 0.3 0.2 0.8 -0.8 0.3 -0.2 0.1 -0.2 0.5 -0.3 0.7 -0.2 0.6 -0.4 0.3 0.6 0.3 1.3 0.8 -0.1 0 -0.3 0.1 -0.5 0.2 -0.7 0.6 -0.7 0.5 -0.1 0.6 0.6 0.6 1 -0.1 -0.2 0.2 -0.1 0.6 0.2 0.6 -0.6 0.4 -0.1 0.4 -0.2 0.2 -0.2 0.3 0.5 0 0.9 0.3 0.4 0.9 -0.2 0.7 -0.6 0.4 -0.3 0.4 0.6 0.6 0.8 -0.5 -7.9 -0.3 0.1 -0.4 -0.4 -0.4 0.2 -0.2 1.3 -0.2 0 -0.1 -1.3 -0.7 -0.3 -0.5 0.2 -0.8 -0.2 -0.4 -0.2 -0.3 0.5 -0.2 1 -0.3 -0.1 -0.4 -0.8 -0.9 -0.5 -0.5 0.3 0.1 0.1 -0.2 0 -0.3 0.4 -0.7 0.1 -0.6 -0.7 -0.7 -0.1 -0.1 0.7 -0.5 0.1 -0.8 -0.1 0 0.1 0 0 -0.4 -0.3 -0.7 -0.3 -0.5 0.4 -0.1 1 -0.5 0.3 -0.2 -0.1 -0.2 -0.6 -0.5 -0.2 -0.5 0.2 -0.5 0.1 -0.6 -0.6 -0.4 -0.7 0.2 -0.5 -1.1 0 -0.7 1 0.1 0.5 -0.5 -0.3 -0.6 -0.7 -0.2 -0.3 -0.6 0.3 -0.1 -0.3 -0.3 0.4 -0.5 0.8 -0.4 0.2 -0.5 0.1 -0.4 0.3 -0.5 -0.1 -0.3 0 -0.2 -0.1 -0.3 -1 -0.7 -0.9 -0.5 0.6 -0.6 0.9 -0.1 0.4 -0.2 0.1 -0.7 0 -0.4 0 -0.2 0 -0.4 0.4 -0.2 0.4 -0.5 -0.2 -0.5 -0.6 -0.4 -1.1 -0.9 -0.5 0.2 0.7 -0.3 0.8 -0.4 -0.1 -0.3 0.5 -0.6 0.3 -0.6 -0.2 -0.1 -0.6 -0.7 -0.2 -0.6 0 -0.4 -0.5 -0.8 -0.4 -0.4 0.1 0.1 0.8 -0.1 0.7 -0.3 -0.2 -0.5 0 -0.4 0.1 -0.3 -0.1 -0.1 -0.6 -0.8 -0.4 -1 0 -0.2 0.5 -0.2 0.6 -0.6 0 0 -0.8 -0.6 -1.2 -0.8 1 0 1 -0.5 -0.2 -0.2 0.4 -0.3 0.2 -0.7 -0.7 -0.2 -0.1 0.3 0.1 -0.7 -0.3 -1 0 -0.2 0.1 -0.3 -0.2 -0.6 -0.2 -0.4 -0.1 0.3 0.1 0 -0.4 -1.2 0.1 -0.8 0.8 -0.1 0.2 -0.5 -0.3 -0.8 -0.8 -0.4 -0.2 -0.1 0.3 -0.2 0.5 -0.4 0.9 -0.6 0.1 -0.5 -0.9 -0.3 -0.3 -0.5 0.6 -0.2 0.1 -0.3 -1.1 -0.4 -0.3 -0.4 0.7 -0.3 0.4 -0.2 -0.1 -0.5 0 -0.3 -0.1 -0.5 -0.4 -0.9 -0.1 -0.4 0.6 -0.7 0.5 -0.5 -0.1 0 -0.6 0 -0.1 -0.4 0.5 -0.4 0 -0.5 -0.3 -0.5 0.2 -0.3 0.7 -0.5 0.7 -0.5 0 -0.6 -0.4 -0.4 -0.8 -0.5 -0.3 -0.5 -0.3 0.9 -0.2 -0.7 0.7 -1 0.4 -0.3 -1.2 -1.6 -0.6 0.1 0.9 0.5 1.3 -0.4 1 -0.4 -0.3 -0.7 -1 -0.4 0.2 -0.1 0.6 -0.7 -0.6 -0.7 -0.7 0.3 0 -0.7 0.7 -0.5 0.4 -0.4 0 -0.3 -0.1 -0.3 -0.1 -0.6 0.4 -0.4 -0.3 -0.3 -0.8 -0.1 -0.2 -0.6 0.1 -0.6 0 -0.4 -0.5 -0.7 -0.2 0.1 0.8 -0.2 1.1 -0.7 0.2 -0.5 -0.5 -0.3 -0.9 -0.1 -0.3 -0.5 0.7 -0.5 -0.5 -0.3 -0.6 -0.2 0.6 -0.5 0.7 -0.7 0.3 -0.3 0 -0.5 -0.2 -0.7 -0.2 -0.3 -1.3 -0.1 -0.1 -0.6 0.5 -0.8 0.4 0 -0.1 -0.4 -0.7 -0.9 0 -0.1 1.3 0 0.9 -0.4 0.3 -0.5 -0.1 -0.4 -0.4 -0.3 -0.3 -0.4 0.6 -0.5 -0.3 -0.4 -0.8 -0.4 0.5 -0.3 0.7 -0.3 -0.6 -0.2 -0.5 -0.6 0.4 -0.6 0.4 -0.4 -0.5 -0.1 -0.7 -0.5 -0.1 -0.7 0.1 -0.2 0.1 -0.3 0.2 -0.6 -0.1 -0.2 -0.4 -0.4 -0.2 -0.2 0.2 -0.3 0.1 -0.6 -0.1 -0.5 -0.4 -0.7 -0.5 -0.5 0.7 -0.2 0.9 -0.2 -0.4 -0.6 -0.1 -0.5 0 -0.3 -0.7 -0.1 -0.2 -0.2 0.4 -0.4 0.1 -0.5 0 -0.7 0.4 -0.5 0 -0.1 -0.3 -0.3 -0.7 -0.8 0 0.1 0 -0.6 -0.7 -1.3 0.1 -0.4 1 -0.1 0.4 -0.1 0 -0.5 0 -0.9 -0.2 0.1 0 0.1 0.4 -0.7 -0.8 -0.2 -0.2 0 -0.1 -0.9 -0.4 -0.6 -0.5 -0.1 -0.2 -0.4 1 -0.5 0.6 -0.8 -0.8 -0.6 -0.3 0 0.8 -0.2 0.6 -0.4 -0.2 -0.4 -0.1 -0.6 0.2 -0.4 0.2 -0.4 -0.9 -0.6 -0.4 0 0.6 -0.8 0.1 -0.5 0 0 -0.1 -0.5 -0.4 -0.8 0.1 -0.1 0.3 0 -0.4 -0.9 0 -0.6 0.5 -0.7 0 0.1 0.5 0.4 0 -0.4 -0.9 -0.8 -0.1 -0.7 0.3 -0.8 -0.1 -0.2 -0.3 -0.1 0.7 -0.3 0.9 -0.4 -0.5 -0.6 -0.6 -0.1 0.4 -0.6 0 -0.6 -0.1 -0.3 0.4 -0.2 -0.1 -0.5 -0.2 -0.6 0 -0.5 0.3 -0.4 0.4 -0.2 0.4 -0.2 0.3 -0.4 0 -0.2 -1.1 -1 -0.8 -0.4 0.7 -0.2 0.7 -0.5 -0.3 -0.4 -0.2 -0.2 0.9 -0.3 0.2 -0.4 -0.3 -0.4 -0.3 -0.1 -1.2 -0.5 -0.7 -0.7 1.1 -0.2 0.4 -0.8 -1 -0.7 -0.1 0.4 0.3 -0.6 0.4 -0.6 0 -0.3 0 -0.7 0.4 -0.3 0.4 -0.3 -0.3 -0.5 -0.6 -0.6 -0.1 -0.4 0.7 -0.3 0.5 -0.5 -0.6 -0.4 -0.6 0.5 0.7 -0.3 0.5 -0.7 -0.2 -0.5 0 -0.6 -0.2 -0.3 -0.2 0.2 -0.5 -0.8 0 -0.9 0.6 -0.4 -0.3 -0.7 -0.5 -0.1 0 -0.1 0.7 -0.6 0.6 -0.6 -0.1 -0.1 -0.2 -0.3 -0.6 -0.5 -0.1 -0.4 0.1 -0.6 -0.2 -0.4 -0.4 -0.7 0 0 0.7 -0.1 0.6 -0.5 -0.2 -0.4 0 -0.4 0 -0.8 0 -0.3 0 0 -0.1 -0.6 0.2 -0.7 0.3 -0.1 -0.5 -0.6 -0.5 -0.7 0.5 0.2 0.7 -0.3 0.4 -0.1 -0.4 -0.4 -0.4 -1 0.1 -0.6 0.1 -0.2 0.6 -0.2 0.2 -0.3 -0.7 -0.5 -0.4 -0.6 -0.1 -0.8 -0.2 0 0.1 -0.2 0.4 -0.6 0.3 -0.4 -0.1 -0.2 0 -0.2 -0.7 -0.4 -0.8 -0.3 0.3 -0.6 0.3 -0.8 0.5 -0.2 0.7 -0.3 -0.4 -0.6 -0.3 -0.4 0.5 -0.8 0 -0.2 -0.1 0.1 -0.4 -0.5 -0.6 -0.5 -0.1 -0.3 0.1 -0.4 -0.3 -0.8 0.2 -0.2 0.5 -0.3 0.5 -0.5 -0.4 -0.5 -0.6 -0.2 0 -0.4 0.1 -0.4 0.2 -0.2 0.5 -0.4 0.5 -0.5 0.3 -0.5 -0.6 -0.7 -0.1 -0.2 -0.4 -0.5 -0.4 -0.3 1 -0.2 0.2 -0.4 -0.8 -0.7 0 0.1 -0.1 0 -0.4 -0.7 0.8 -0.9 0.3 -0.7 0 -0.1 0.2 -0.4 -0.3 -0.3 -0.4 -0.3 0 -0.7 0 -0.2 0.1 -0.5 0.1 -0.5 0.5 0 0.1 -0.6 -0.5 -0.4 -0.2 0 0.3 -0.4 -0.1 -0.4 -0.3 -0.7 -0.1 -0.8 -0.1 -0.1 0.1 -0.2 0.5 -0.5 -0.3 -0.5 -0.5 -0.6 0.4 -0.3 0.7 -0.2 -0.2 -0.1 -0.6 -0.6 0 -0.2 0.1 0 -0.6 -0.7 0.1 -0.5 0.6 -0.2 -0.3 -0.6 -0.6 -0.5 -0.1 -0.5 0.6 -0.7 0 -0.4 -0.7 -0.2 -0.4 -0.5 0.2 -0.3 0.2 -0.1 0.1 -0.2 -0.1 -0.9 -0.3 -0.3 -0.5 -0.5 0.3 -0.3 0.8 -0.2 -0.4 -0.5 -0.6 -0.8 0 -0.3 0.4 -0.2 0.8 -0.5 0.4 -0.5 -0.1 -0.5 0.1 -0.5 0 -0.2 0.2 -0.3 0.2 -0.4 0 -0.3 -0.6 -0.3 -1.2 -0.3 -0.8 -0.4 0.1 -0.9 0.4 -0.6 0.6 -0.5 0 -0.1 0.5 -0.2 0.4 -0.3 -0.6 -0.2 -0.5 -0.6 0.4 -0.5 0.2 -0.3 -0.7 -0.4 0 -0.5 1.1 -0.5 0.3 -0.2 -0.3 -0.4 -1 -0.7 0.7 -0.3 0.2 -0.4 -0.2 -0.3 -0.1 -0.3 0.1 -0.3 0 -0.6 -0.2 -0.6 -0.1 -0.2 0 -0.5 0 -0.8 -0.2 -0.3 -0.3 -0.2 0.1 -0.4 0.9 -0.3 0.1 -0.3 -0.1 -0.3 -0.2 -0.2 -0.6 -0.5 -0.3 -0.6 0.4 -0.6 0 -0.3 -0.6 -0.3 0.3 -0.5 1.2 -0.3 0 -0.1 -1.1 -0.8 -0.3 -0.6 0.8 -0.6 -0.4 -0.3 -0.5 0.2 -0.3 -0.5 -0.4 -0.5 0.7 -0.4 0.9 -0.4 -0.2 -0.1 -0.3 -0.5 0.1 -0.7 0.1 -0.5 0.2 -0.1 0.2 -0.5 0.2 -0.6 0.1 -0.6 -0.4 -0.6 -0.2 -0.3 -0.5 -0.4 -0.4 -0.3 0.8 -0.2 0.7 -0.3 -0.4 -0.4 -0.5 -0.4 0.3 -0.7 0 -0.8 -0.2 0.1 0.3 -0.2 1 -0.3 0.3 -0.4 -0.7 -0.5 0 -0.3 0 -0.5 -0.6 -0.6 0.2 -0.2 0.7 -0.2 -0.5 -0.4 -1.4 -0.2 0 -0.5 1 -0.4 0.5 -0.4 0.3 -0.6 0.1 -0.5 0.1 -0.6 -0.6 -0.4 -0.5 -0.4 0.2 -0.6 0.5 0.1 -0.5 0 -0.4 -0.3 0 -0.2 -0.3 -0.8 0 -0.6 -0.5 -1.1 -0.7 -0.6 0.2 0.2 0.3 -0.5 0.5 -0.6 0 0 -0.5 -0.5 0.3 -0.6 0.3 -0.6 0 -0.1 0.6 -0.1 0.9 -0.3 0.2 -0.5 -0.3 -0.4 -0.1 -0.3 -0.7 -0.8 -0.3 0 0.3 -0.4 -0.2 -0.7 -0.7 -0.2 0.2 -0.2 0.5 -0.6 0.6 -0.5 0.1 0.3 -1.2 -0.5 -0.5 -1 0.9 -0.7 0.5 -0.7 -0.2 0 -0.4 -0.1 0.1 -0.5 0.1 -0.2 -0.2 -0.2 0.4 -0.6 0.4 -0.8 -0.2 -0.4 -0.1 -0.3 0.3 -0.2 -0.1 -0.2 -0.6 -0.4 0.3 -0.6 0.1 -0.8 -0.8 -0.7 -0.4 -0.3 0.5 0.1 0.7 -0.5 0.6 -0.6 0 -0.1 -0.3 0 -0.3 -0.8 0.1 -0.5 0.8 -0.3 0.4 -0.5 -0.3 -0.3 -1 -0.4 -0.2 -0.4 1 -0.3 -0.1 -0.6 -0.2 -0.3 0.6 -0.4 -0.2 -0.6 -0.5 -0.2 0.2 -0.3 -0.1 -0.8 -0.4 -0.4 0.1 -0.3 0.3 -0.1 -0.2 0 -0.7 -1 0.3 -0.4 1 -0.2 -0.1 -0.3 -0.4 -0.6 -0.1 -0.4 -0.3 -0.5 0.3 -0.4 0.7 -0.4 0.3 -0.4 0.2 -0.1 0 -0.1 -0.7 -0.4 -1.1 -1 -0.1 -0.4 0.7 -0.1 0 -0.5 -0.7 -0.3 -0.8 -0.8 0.2 -0.2 1.3 -0.4 0.9 -0.4 0 -0.2 -0.9 -0.6 -0.5 -0.7 0.4 -0.2 0.2 0 -0.3 -0.7 -0.4 -0.4 -0.3 -0.3 -0.2 -0.6 0.5 -0.4 0.2 -0.5 0.1 -0.7 0.2 -0.2 0.1 -0.2 -0.4 -0.5 0.4 -0.5 0.4 -0.6 -0.5 -0.3 -0.4 -0.5 0 0.3 0.2 -0.2 0.6 -0.6 0.7 -0.6 0.5 -0.6 0 -0.2 -0.5 -0.3 -0.5 -0.3 -0.4 0 -0.4 -0.7 -0.1 -0.7 0.8 -0.3 -0.2 -0.7 -0.7 -0.7 0.3 0.2 0.3 0 0 -0.6 -0.1 -0.5 0.3 -0.6 0.8 -0.5 -0.1 -0.5 -1 -0.2 0 0.2 0 -0.3 -0.3 -0.7 0.5 -0.7 0.6 -0.6 -0.2 -0.1 -0.5 -0.2 -0.4 -1 -0.4 -0.3 0.5 -0.3 0.9 -0.4 0 0.3 -0.8 -0.5 -0.8 -1.1 0 -0.2 0.8 -0.5 0.8 -0.3 -0.1 -0.5 -0.9 -0.5 0 -0.2 0 -0.6 0.3 -0.1 0.4 -0.2 -0.5 -0.8 -0.3 -0.3 -0.1 -0.3 -0.1 -0.5 0.6 -0.4 0 -0.4 -0.3 -0.3 -0.2 -0.2 -0.5 -0.8 0.2 -0.4 0.8 -0.2 -0.4 -0.6 -0.6 -0.6 -0.3 -0.3 -0.1 -0.3 0.8 -0.5 0.3 -0.5 0 -0.1 0.4 -0.5 -0.1 -0.3 -0.6 -0.2 -0.3 -0.6 -0.3 -0.6 -0.4 -0.6 0.6 -0.2 0.6 -0.4 0.2 -0.3 0.2 -0.2 -0.2 -0.4 -0.1 -0.7 0.5 -0.4 0.6 -0.4 -0.2 -0.1 -0.8 -0.4 0 -0.5 0.5 -0.4 -0.3 -0.4 -1.1 -0.4 -0.3 -0.4 0.6 -0.3 -0.1 -0.3 -0.7 -0.1 -0.4 -0.5 0 -0.6 0.9 -0.2 0.6 -0.7 -0.2 -0.7 0.3 -0.3 0 -0.2 -0.6 -0.3 -0.4 -0.6 -0.5 -0.8 0.3 -0.2 0.7 -0.3 -0.3 -0.7 0 -0.3 0.8 -0.3 0.8 -0.3 0.1 -0.3 -0.7 -0.3 -0.7 -0.7 -0.3 -0.5 1.1 -0.2 0.7 -0.5 -0.8 -0.2 -0.4 -0.4 0.7 -0.5 0 -0.6 -0.1 -0.5 -0.1 -0.3 -0.3 -0.3 0.7 -0.2 0.4 -0.5 -0.2 -0.5 0.2 -0.3 -0.3 -0.2 -0.7 -0.8 0.5 -0.4 0.5 -0.4 -0.3 -0.3 -0.4 -0.3 -0.3 -0.4 0.1 -0.1 0.2 -0.6 0.3 -0.6 0.3 -0.6 -0.2 -0.3 -0.3 -0.2 -0.6 -0.7 0 -0.1 0.8 -0.3 0.1 -0.6 -0.1 -0.6 0.4 -0.4 -0.3 -0.1 -0.5 -0.2 0.1 -0.9 0.3 -0.4 0.8 0 0.5 -0.3 -0.3 -0.6 -0.6 -0.1 -0.5 -0.4 -0.2 -0.8 0.8 -0.5 0.2 -0.4 -0.2 -0.5 -0.1 -0.5 0 -0.1 0.8 -0.3 0 -0.5 -0.4 -0.4 -0.3 -0.3 -0.1 -0.3 0.9 -0.6 0.3 -0.4 -1 -0.2 -1 -0.7 0 -0.6 0 0.2 0.1 -0.1 1 -0.5 -0.3 -0.4 -0.6 -0.7 0.6 -0.4 0.4 -0.4 0 -0.5 -0.1 -0.2 0.1 -0.4 0.4 -0.7 -0.4 -0.5 -0.4 -0.1 0.4 -0.4 0.1 -0.4 -0.4 -0.3 -0.5 -0.8 -0.5 -0.4 -0.5 -0.2 -0.3 -0.6 0.2 -0.4 0.3 -0.1 0.3 -0.3 0.8 -0.4 0.4 -0.6 -0.5 -0.3 -0.8 -0.2 0.1 -0.5 0.8 -0.3 0.1 -0.7 -0.6 -0.7 -0.1 -0.2 -0.2 -0.2 0.3 -0.5 0.7 -0.3 0.1 -0.7 -0.2 -0.5 0.7 -0.1 0.3 -0.4 -0.7 -0.4 -0.4 -0.4 0.3 -0.4 0.8 -0.4 0.1 -0.3 -0.8 -0.6 -0.3 -0.7 0.1 -0.3 0.1 0.4 -0.1 -0.5 0.1 -0.7 0.4 -0.5 -0.1 -0.3 -0.1 -0.6 -0.3 -0.8 0 0 -0.1 0.4 -0.6 -0.5 -0.2 -1 0.3 -0.3 0.3 -0.4 0.4 -0.6 0.5 -0.4 0.3 -0.3 0 -0.2 -0.3 -0.3 -0.4 -0.6 0.3 -0.4 0.1 -0.3 -0.3 -0.4 -0.3 -0.7 -0.5 -0.7 -0.5 -0.2 -0.1 -0.3 0 -0.3 0.3 -0.1 0 -0.7 0.2 -0.3 -0.1 0.1 -1.1 -0.3 0 -0.7 0.7 -0.4 0.5 -0.7 0.8 -0.3 0 -0.3 -0.7 -0.6 0.2 -0.2 -0.1 -0.6 -0.8 -0.8 0.1 0.1 0.2 -0.2 -0.2 -0.6 -0.3 -0.6 -0.1 -0.4 0.2 -0.6 0.7 -0.3 0.7 -0.1 -0.8 -0.3 -0.6 -0.6 0.4 -0.5 0.2 -0.4 0.2 -0.2 0.1 -0.3 -0.4 -0.8 -0.2 -0.2 0.4 -0.4 0.1 -0.8 -0.4 -0.1 -1 0.3 0.4 -0.8 0.3 -0.1 -0.9 -0.5 -0.1 -0.9 1.8 -0.3 0.3 -0.4 -0.4 -0.4 -0.5 -0.4 -0.4 -0.4 0.2 -0.5 0 -0.4 -0.2 -0.1 0.1 -0.5 0.3 -0.5 0.6 -0.4 0.2 -0.4 -0.3 -0.3 -1 0.3 -0.7 -0.4 -0.1 -0.9 0 -0.5 0 -0.3 -0.2 -0.3 0.5 -0.7 1 -0.3 -0.4 -0.4 -0.8 -0.1 0.3 -0.1 -0.3 -0.7 -0.7 -1.3 -0.7 -0.2 -0.5 0.2 0.3 -0.6 0.9 -0.7 1.2 -0.4 0.3 -0.3 -0.8 -0.5 -0.1 -0.4 0.5 -0.1 0.4 -0.2 -0.4 -0.8 -0.4 -0.4 0.4 -0.1 -0.4 -0.4 -0.9 -0.6 0 -0.4 0.4 -0.4 -0.3 -0.7 -0.7 -0.6 -0.3 0.2 0 -0.2 0.1 -0.6 0.5 -0.4 0.8 -0.4 0 -0.4 0.3 -0.4 0.2 -0.3 -0.4 0 -1.6 -0.5 0.2 -0.3 0.5 -0.5 -0.2 -0.5 0 -0.6 0 -0.5 -0.3 -0.2 -1 -0.3 -0.7 -0.4 0.1 -0.6 0.5 -0.2 0.9 -0.5 0.6 -0.3 -0.8 -0.2 -1.2 -0.8 -0.3 -0.5 0.4 -0.2 0.2 -0.3 0.5 -0.3 0.3 -0.5 -0.7 -0.4 -0.4 -0.3 0.1 -0.4 0 -0.6 0.1 -0.5 0.4 -0.4 -0.4 -0.1 -1.1 -0.2 -0.6 -0.3 0.3 -0.3 0 -0.6 -0.1 -0.7 0.7 -0.4 0.3 -0.3 -0.5 -0.6 -0.4 -0.1 -0.5 -0.1 0.3 -0.7 0.8 -0.6 0.2 -0.3 -0.4 -0.1 -0.7 -0.5 -0.3 -0.4 -0.1 -0.4 -0.3 -0.5 -0.1 -0.1 0.1 -0.4 -0.6 -0.5 -0.2 -0.4 0.3 -0.4 0.3 -0.5 -0.1 -0.4 0.2 -0.4 0.3 -0.5 0.1 -0.4 -0.1 -0.2 -0.5 -0.4 -0.1 -0.4 -0.1 -0.4 -0.7 -0.4 -0.5 -0.2 0.2 -0.3 0.5 -0.7 0.4 -0.3 -0.4 -0.1 -0.8 -0.1 0 -0.5 0.2 -0.6 0 -0.2 -0.5 -0.3 -0.4 -0.6 0.1 -0.4 -0.2 -0.1 -0.3 -0.6 0.3 -0.4 -0.3 0 -0.8 -0.4 0.1 -0.8 0.7 -0.4 0.1 -0.4 0 -0.4 -0.2 -0.4 -0.2 -0.4 -0.2 0.3 -1.3 -0.3 -0.5 -0.7 0.5 -0.1 -0.5 -0.1 -0.6 -0.4 -0.1 -0.4 0.1 -0.5 -0.2 -0.5 0.2 -0.5 0.2 -0.2 -0.4 0 -0.8 -0.1 -0.6 -0.4 -0.1 -0.4 0.1 -0.5 -0.1 -0.1 -0.5 -0.1 -0.7 -0.5 0 -0.7 0.4 -0.5 0.1 -0.2 -0.2 0 -0.9 0 -0.6 -0.4 -0.1 -0.6 0.2 -0.6 0.1 -0.3 -0.2 -0.1 -0.6 0.1 -0.8 -0.2 -0.4 -0.9 0.6 -0.4 0 -0.1 -0.6 -0.9 0.5 -0.6 0.1 0 -0.6 0.2 -0.9 -0.2 -0.4 -0.5 -0.1 -0.5 0 -0.3 -0.2 -0.3 -0.2 -0.2 -0.5 -0.2 -0.5 -0.3 -0.2 -0.4 -0.2 -0.4 -0.2 -0.4 0 -0.5 -0.1 -0.2 -0.3 -0.3 -0.2 -0.4 -0.2 -0.3 -0.4 -0.1 -0.4 -0.3 -0.3 -0.6 0.2 -0.3 -0.3 -0.1 -0.4 -0.4 -0.2 -0.2 -0.3 -0.2 -0.4 -0.2 -0.3 -0.4 -0.2 -0.4 -0.1 -0.4 -0.1 -0.2 -0.3 -0.6 0.1 -0.6 0.1 0 -0.6 0.1 -0.6 -0.6 0 -0.1 -0.4 0 -0.5 -0.7 0.1 -0.6 0 0.1 -0.6 0.2 -0.7 0.1 -0.6 0.1 -0.6 -0.6 0 -1.5 0.8 -0.7 0.1 0.3 -0.8 0.8 -1.1 0.1 -0.5 -0.7 0 -0.5 0 -0.6 -0.1 -0.3 -0.2 0.2 -0.7 -0.1 -0.4 -0.6 0 -0.3 -0.3 0.5 -0.8 0 -0.5 -1 0.2 -0.7 0 0.2 -0.6 0.1 -0.6 -0.7 0 -0.6 0 0.8 -1 0.9 -1.2 -0.1 -0.4 -0.9 0.1 -0.8 0.1 -0.3 -0.3 -0.5 -0.1 -0.3 -0.3 0.1 -0.5 -0.3 -0.2 -0.3 -0.4 0.2 -0.6 -0.9 0.2 -1.3 0.3 0.2 -0.6 1.2 -1.3 -0.4 -0.1 -0.8 0 -0.3 -0.3 -0.3 -0.3 -0.1 -0.4 -0.1 -0.4 -0.2 -0.3 -0.3 -0.3 -0.7 -0.1 -0.4 -0.2 0.2 -0.6 -0.5 -0.2 -0.2 -0.3 0.5 -0.8 -0.1 -0.4 -0.6 -0.1 -0.8 0 -0.1 -0.4 -0.2 -0.3 -0.6 -0.1 -0.2 -0.4 0.2 -0.5 0 -0.5 -0.5 -0.2 -0.6 -0.1 0.1 -0.5 0.1 -0.5 -0.6 -0.1 -0.3 -0.3 0 -0.5 -0.2 -0.3 -0.2 -0.4 -0.4 -0.2 -0.3 -0.3 0 -0.5 -0.2 -0.3 -0.2 -0.4 0.1 -0.5 0.2 -0.7 -0.4 -0.2 -0.7 0 -0.2 -0.3 -0.5 -0.1 -0.3 -0.3 0 -0.5 -0.4 -0.2 -0.4 -0.3 0 -0.4 -0.2 -0.4 -0.6 0 -0.4 -0.2 0.5 -0.8 0.5 -0.8 -0.4 -0.2 -0.1 -0.4 -0.1 -0.4 -0.7 0 -0.8 0 -0.5 -0.2 0.4 -0.7 0.4 -0.7 -0.5 -0.1 -0.6 -0.1 0.3 -0.7 0.4 -0.7 -0.4 -0.1 -0.6 -0.2 -0.1 -0.4 -0.2 -0.3 -0.5 -0.2 -0.1 -0.4 -0.1 -0.4 -0.4 -0.2 -0.2 -0.4 0.2 -0.5 -0.2 -0.4 -0.5 -0.2 -0.4 -0.2 -0.6 -0.2 -0.3 -0.3 0.2 -0.5 -0.3 -0.3 -0.5 -0.1 -0.4 -0.3 0.7 -0.9 0.5 -0.7 -0.7 -0.1 -0.8 0 -0.3 -0.2 0.2 -0.6 0.2 -0.6 -0.4 -0.2 0 -0.5 0.3 -0.6 -0.4 -0.3 -0.1 -0.4 -0.5 -0.1 -0.9 0 0.5 -0.7 0.5 -0.8 -0.7 -0.1 -0.3 -0.3 -0.4 -0.2 -1.2 0.2 -0.4 -0.2 0.1 -0.5 0.1 -0.6 0 -0.5 -0.4 -0.2 -0.3 -0.3 -0.7 0 -0.2 -0.4 0.8 -1 0.1 -0.6 -0.5 -0.1 0.1 -0.6 -0.1 -0.4 -1 0.2 -0.6 0 0 -0.5 -0.3 -0.3 -0.2 -0.3 0.2 -0.7 -0.4 -0.2 -0.8 0.1 -0.1 -0.5 0.2 -0.6 0.1 -0.5 -0.1 -0.4 -0.2 -0.3 -1.2 0.3 -0.6 -0.1 0.9 -1.1 0.7 -0.8 -0.6 -0.1 -0.9 0.1 0.1 -0.6 0.5 -0.8 0 -0.4 -0.2 -0.4 -0.4 -0.3 -1 0.2 -0.7 -0.1 0.5 -0.8 0.3 -0.7 -1 0.2 -1.5 0.6 -0.1 -0.5 0.7 -1 -0.1 -0.6 0.1 -0.5 -0.2 -0.4 -0.9 0.2 -0.9 0.2 0.2 -0.7 0.4 -0.8 -0.3 -0.3 -0.3 -0.4 -0.8 0.1 -0.8 0.3 -0.3 -0.3 -0.1 -0.6 -0.1 -0.5 -0.5 -0.1 -0.1 -0.5 0 -0.8 -0.3 -0.4 -0.6 -0.1 -0.7 0.2 -0.5 0 -0.1 -1 0 -0.9 -1 1 -0.8 0.9 -0.2 -0.6 -0.3 -0.5 -0.3 -0.4 -0.3 -0.5 -0.3 -0.4 -0.5 0.3 -0.6 0.5 -0.3 -0.4 -0.4 -0.1 -0.4 0 -0.1 -0.9 -0.4 -0.1 -0.8 1.2 -0.4 -0.1 0 -1.5 -0.3 -0.7 -0.6 0.4 -0.6 0.5 -0.5 0.2 -0.5 0.3 -0.5 0.1 -0.5 0.3 -0.6 -0.5 -0.8 -0.3 -0.2 0.9 -0.3 0.4 -0.8 -0.4 -0.8 -0.3 -0.1 0.7 0 0.7 -0.1 0.5 -0.3 0.3 -0.4 0.1 -0.3 0.3 -0.7 -0.2 -0.7 -0.5 -0.1 0.5 -0.2 0.4 -0.5 0 -0.4 0.2 -0.3 0.4 -0.1 0.5 -0.2 0.4 -0.3 0.4 -0.6 0 -0.9 -0.2 -0.1 0.6 0.2 0.8 -0.2 0.5 0 0.5 -0.1 0.6 -0.5 0.1 0 0.5 -0.2 0.4 -0.8 0.1 -0.3 0.3 0.1 0.6 0.3 0.7 -0.5 0.2 -0.8 0 -0.1 0.5 0 0.5 -0.9 0.1 -0.5 0.2 0.3 0.6 0.7 0.8 -0.1 0.4 -0.8 0.1 -0.3 0.4 0.1 0.5 -0.3 0.4 -0.3 0.3 0.4 0.6 0.5 0.7 0.1 0.5 -0.5 0.3 -0.8 0.2 -0.1 0.4 0.3 0.6 -0.1 0.4 -0.3 0.4 -0.2 0.3 -0.2 0.5 -0.1 0.4 -0.1 0.4 -0.1 0.4 0 0.4 -0.1 0.5 -0.1 0.4 -0.1 0.4 0 0.5 0 0.4 -0.2 0.4 -0.2 0.4 -0.1 0.4 0 0.4 -0.1 0.4 -0.3 0.4 -0.2 0.4 -0.1 0.4 0 0.4 -0.1 0.4 -0.1 0.4 -0.1 0.4 -0.1 0.4 -0.1 0.4 -0.1 0.4 -0.1 0.4 -0.1 0.4 -0.1 0.4 -0.1 0.4 -0.1 0.4 -0.1 0.4 -0.1 0.4 -0.1 0.4 -0.1 0.3 -0.1 0.4 -0.1 0.4 -0.1 0.4 0 0.4 -0.1 0.4 -0.1 0.4 -0.1 0.4 -0.1 0.4 -0.1 0.4 -0.1 0.4 -0.1 0.3 -0.1 0.4 -0.1 0.4 -0.1 0.4 0 0.4 -0.1 0.4 -0.1 0.4 -0.1 0.4 -0.1 0.4 -0.1 0.4 -0.1 0.4 -0.1 0.4 0 0.3 -0.1 0.4 -0.1 0.4 -0.1 0.4 -0.1 0.4 -0.1 0.4 0 0.4 -0.1 0.4 -0.1 0.4 -0.1 0.4 -0.1 0.4 0 0.4 -0.1 0.4 -0.1 0.4 -0.1 0.3 0 0.4 -0.1 0.4 -0.1 0.4 -0.1 0.4 -0.1 0.4 0 0.4 -0.1 0.4 -0.1 0.4 -0.1 0.4 0 0.4 -0.1 0.4 -0.1 0.4 -0.1 0.4 0 0.4 -0.1 0.4 -0.1 0.4 0 0.3 -0.1 0.4 -0.1 0.4 0 0.4 -0.1 0.4 -0.1 0.4 -0.1 0.4 0 0.4 -0.1 0.4 -0.1 0.4 0 0.4 -0.1 0.4 -0.1 0.4 0 0.4 -0.1 0.4 -0.1 0.4 0 0.4 -0.1 0.4 0 0.4 -0.1 0.4 -0.1 0.4 0 0.4 -0.1 0.4 -0.1 0.3 0 0.4z" fill="#00f"/>
<rect x="166.0" y="72.7" width="588.40" height="620.30" fill="none" stroke="#000" stroke-width="2.2"/>
<path d="M180.00 693.0 v-13.4 M250.06 693.0 v-7 M320.12 693.0 v-13.4 M390.19 693.0 v-7 M460.25 693.0 v-13.4 M530.31 693.0 v-7 M600.38 693.0 v-13.4 M670.44 693.0 v-7 M740.50 693.0 v-13.4 M166.0 658.54 h7 M166.0 624.08 h13.4 M166.0 589.62 h7 M166.0 555.16 h13.4 M166.0 520.69 h7 M166.0 486.23 h13.4 M166.0 451.77 h7 M166.0 417.31 h13.4 M166.0 382.85 h7 M166.0 348.39 h13.4 M166.0 313.93 h7 M166.0 279.47 h13.4 M166.0 245.01 h7 M166.0 210.54 h13.4 M166.0 176.08 h7 M166.0 141.62 h13.4 M166.0 107.16 h7" fill="none" stroke="#000" stroke-width="2.2"/>
<rect x="973.75" y="72.6" width="588.35" height="620.40" fill="none" stroke="#000" stroke-width="2.2"/>
<path d="M987.60 693.0 v-13.4 M1057.65 693.0 v-7 M1127.70 693.0 v-13.4 M1197.75 693.0 v-7 M1267.80 693.0 v-13.4 M1337.85 693.0 v-7 M1407.90 693.0 v-13.4 M1477.95 693.0 v-7 M1548.00 693.0 v-13.4 M973.75 648.69 h7 M973.75 604.37 h13.4 M973.75 560.06 h7 M973.75 515.74 h13.4 M973.75 471.43 h7 M973.75 427.11 h13.4 M973.75 382.80 h7 M973.75 338.49 h13.4 M973.75 294.17 h7 M973.75 249.86 h13.4 M973.75 205.54 h7 M973.75 161.23 h13.4 M973.75 116.91 h7" fill="none" stroke="#000" stroke-width="2.2"/>
<text x="180.0" y="734.4" font-size="36.3" text-anchor="middle" font-family='"Liberation Serif", serif' >0</text>
<text x="987.6" y="734.4" font-size="36.3" text-anchor="middle" font-family='"Liberation Serif", serif' >0</text>
<text x="320.1" y="734.4" font-size="36.3" text-anchor="middle" font-family='"Liberation Serif", serif' >500</text>
<text x="1127.7" y="734.4" font-size="36.3" text-anchor="middle" font-family='"Liberation Serif", serif' >500</text>
<text x="460.2" y="734.4" font-size="36.3" text-anchor="middle" font-family='"Liberation Serif", serif' >1000</text>
<text x="1267.8" y="734.4" font-size="36.3" text-anchor="middle" font-family='"Liberation Serif", serif' >1000</text>
<text x="600.4" y="734.4" font-size="36.3" text-anchor="middle" font-family='"Liberation Serif", serif' >1500</text>
<text x="1407.9" y="734.4" font-size="36.3" text-anchor="middle" font-family='"Liberation Serif", serif' >1500</text>
<text x="740.5" y="734.4" font-size="36.3" text-anchor="middle" font-family='"Liberation Serif", serif' >2000</text>
<text x="1548.0" y="734.4" font-size="36.3" text-anchor="middle" font-family='"Liberation Serif", serif' >2000</text>
<text x="152.5" y="703.2" font-size="36.3" text-anchor="end" font-family='"Liberation Serif", serif' >200</text>
<text x="152.5" y="634.3" font-size="36.3" text-anchor="end" font-family='"Liberation Serif", serif' >400</text>
<text x="152.5" y="565.4" font-size="36.3" text-anchor="end" font-family='"Liberation Serif", serif' >600</text>
<text x="152.5" y="496.4" font-size="36.3" text-anchor="end" font-family='"Liberation Serif", serif' >800</text>
<text x="152.5" y="427.5" font-size="36.3" text-anchor="end" font-family='"Liberation Serif", serif' >1000</text>
<text x="152.5" y="358.6" font-size="36.3" text-anchor="end" font-family='"Liberation Serif", serif' >1200</text>
<text x="152.5" y="289.7" font-size="36.3" text-anchor="end" font-family='"Liberation Serif", serif' >1400</text>
<text x="152.5" y="220.7" font-size="36.3" text-anchor="end" font-family='"Liberation Serif", serif' >1600</text>
<text x="152.5" y="151.8" font-size="36.3" text-anchor="end" font-family='"Liberation Serif", serif' >1800</text>
<text x="152.5" y="82.9" font-size="36.3" text-anchor="end" font-family='"Liberation Serif", serif' >2000</text>
<text x="959.5" y="703.2" font-size="36.3" text-anchor="end" font-family='"Liberation Serif", serif' >1</text>
<text x="959.5" y="614.6" font-size="36.3" text-anchor="end" font-family='"Liberation Serif", serif' >2</text>
<text x="959.5" y="525.9" font-size="36.3" text-anchor="end" font-family='"Liberation Serif", serif' >3</text>
<text x="959.5" y="437.3" font-size="36.3" text-anchor="end" font-family='"Liberation Serif", serif' >4</text>
<text x="959.5" y="348.7" font-size="36.3" text-anchor="end" font-family='"Liberation Serif", serif' >5</text>
<text x="959.5" y="260.1" font-size="36.3" text-anchor="end" font-family='"Liberation Serif", serif' >6</text>
<text x="959.5" y="171.4" font-size="36.3" text-anchor="end" font-family='"Liberation Serif", serif' >7</text>
<text x="959.5" y="82.8" font-size="36.3" text-anchor="end" font-family='"Liberation Serif", serif' >8</text>
<text x="28.1" y="85.3" font-size="39.4" text-anchor="start" font-family='"Liberation Serif", serif' letter-spacing="-0.25">(a)</text>
<text x="885.8" y="86.9" font-size="39.2" text-anchor="start" font-family='"Liberation Serif", serif' letter-spacing="0">(b)</text>
<text x="460.4" y="799.6" font-size="53.2" text-anchor="middle" font-family='"Liberation Serif", serif' >t(s)</text>
<text x="1268.0" y="799.6" font-size="53.2" text-anchor="middle" font-family='"Liberation Serif", serif' >t(s)</text>
<text transform="translate(62.6 396.3) rotate(-90)" font-size="53.6" text-anchor="middle" font-family='"Liberation Serif", serif'>solid temperature <tspan font-style="italic">T</tspan><tspan font-style="italic" font-size="30.5" dy="19">s</tspan><tspan dy="-19">(K)</tspan></text>
<text transform="translate(922.6 390.5) rotate(-90)" font-size="53.6" text-anchor="middle" font-family='"Liberation Serif", serif'>pressure (Pa)</text>
<text x="956.2" y="54.2" font-size="32.2" font-family='"Liberation Sans", sans-serif'>x10<tspan font-size="18.6" dy="-17.2">5</tspan><tspan dy="17.2">Pa</tspan></text>
<rect x="626.3" y="100.6" width="80.50" height="51.90" fill="#000"/>
<rect x="617.6" y="91.7" width="80.4" height="51.8" fill="#fff" stroke="#222" stroke-width="1"/>
<text x="628.6" y="130.2" font-size="36.3" font-family='"Liberation Serif", serif'>y=<tspan font-style="italic">L</tspan></text>
<rect x="1372" y="146" width="77.90" height="51.80" fill="#000"/>
<rect x="1362.5" y="136.9" width="78.4" height="52" fill="#fff" stroke="#222" stroke-width="1"/>
<text x="1373.2" y="175.8" font-size="36.3" font-family='"Liberation Serif", serif'>y=<tspan font-style="italic">0</tspan></text>
<text transform="translate(424.9 350) scale(1.27 1)" font-size="36.3" font-style="italic" font-family='"Liberation Serif", serif'>ρ</text>
<text y="350" font-size="36.3" font-family='"Liberation Serif", serif'><tspan x="443.2" font-style="italic" font-size="21" dy="13.2">s</tspan><tspan x="454.9" dy="-13.2">=2000kg/m</tspan><tspan font-size="21.6" dx="-0.8" dy="-17.6">3</tspan></text>
<text transform="translate(423.4 417.5) scale(1.27 1)" font-size="36.3" font-style="italic" font-family='"Liberation Serif", serif'>ρ</text>
<text y="417.5" font-size="36.3" font-family='"Liberation Serif", serif'><tspan x="441.7" font-style="italic" font-size="21" dy="13.2">s</tspan><tspan x="453.5" dy="-13.2">=5000kg/m</tspan><tspan font-size="21.6" dx="-0.8" dy="-17.6">3</tspan></text>
<text transform="translate(422.5 483.5) scale(1.27 1)" font-size="36.3" font-style="italic" font-family='"Liberation Serif", serif'>ρ</text>
<text y="483.5" font-size="36.3" font-family='"Liberation Serif", serif'><tspan x="440.8" font-style="italic" font-size="21" dy="13.2">s</tspan><tspan x="452.0" dy="-13.2">=8000kg/m</tspan><tspan font-size="21.6" dx="-0.8" dy="-17.6">3</tspan></text>
<text transform="translate(1295.4 423.9) scale(1.27 1)" font-size="36.3" font-style="italic" font-family='"Liberation Serif", serif'>ρ</text>
<text y="423.9" font-size="36.3" font-family='"Liberation Serif", serif'><tspan x="1313.3" font-style="italic" font-size="21" dy="13.2">s</tspan><tspan x="1324.4" dy="-13.2">=2000kg/m</tspan><tspan font-size="21.6" dx="-0.8" dy="-17.6">3</tspan></text>
<text transform="translate(1293.6 490.8) scale(1.27 1)" font-size="36.3" font-style="italic" font-family='"Liberation Serif", serif'>ρ</text>
<text y="490.8" font-size="36.3" font-family='"Liberation Serif", serif'><tspan x="1312.0" font-style="italic" font-size="21" dy="13.2">s</tspan><tspan x="1322.4" dy="-13.2">=5000kg/m</tspan><tspan font-size="21.6" dx="-0.8" dy="-17.6">3</tspan></text>
<text transform="translate(1292.5 556.0) scale(1.27 1)" font-size="36.3" font-style="italic" font-family='"Liberation Serif", serif'>ρ</text>
<text y="556.0" font-size="36.3" font-family='"Liberation Serif", serif'><tspan x="1310.8" font-style="italic" font-size="21" dy="13.2">s</tspan><tspan x="1321.3" dy="-13.2">=8000kg/m</tspan><tspan font-size="21.6" dx="-0.8" dy="-17.6">3</tspan></text>
<path d="M333.70 337.7h0.01 M347.82 337.7h0.01 M361.94 337.7h0.01 M376.06 337.7h0.01 M390.18 337.7h0.01 M404.30 337.7h0.01" stroke="#000" stroke-width="7.4" stroke-linecap="round" fill="none"/>
<path d="M333 405.4H413.4" stroke="#f00" stroke-width="6.2" stroke-linecap="round" fill="none"/>
<path d="M331.4 470.8H352.7M372.7 470.8H377M396.6 470.8H400.6" stroke="#00f" stroke-width="6.2" stroke-linecap="round" fill="none"/>
<path d="M1204.4 411.7H1281.3" stroke="#000" stroke-width="2.3" stroke-linecap="round" stroke-dasharray="0.01 4.51" fill="none"/>
<path d="M1203 479.2H1283.8" stroke="#f00" stroke-width="2.4" stroke-linecap="round" fill="none"/>
<path d="M1201.4 544.4H1276.2" stroke="#00f" stroke-width="2.4" stroke-linecap="round" stroke-dasharray="8 7.7 1.3 7.5 1.3 7.5" fill="none"/>
</svg>
</body></html>
